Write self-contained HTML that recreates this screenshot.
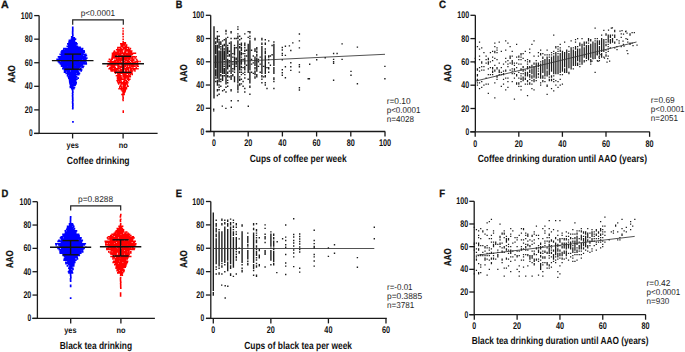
<!DOCTYPE html>
<html><head><meta charset="utf-8"><style>
html,body{margin:0;padding:0;background:#fff;}
svg{display:block;font-family:"Liberation Sans",sans-serif;text-rendering:geometricPrecision;}
</style></head><body>
<svg width="685" height="352" viewBox="0 0 685 352">
<rect width="685" height="352" fill="#fff"/>
<text x="1.10" y="8.40" font-size="10.7" font-weight="bold" fill="#111" text-anchor="start" textLength="7.70" lengthAdjust="spacingAndGlyphs" stroke="#111" stroke-width="0.3">A</text>
<line x1="39.10" y1="15.60" x2="39.10" y2="133.45" stroke="#1a1a1a" stroke-width="1.3"/>
<line x1="34.20" y1="133.45" x2="39.10" y2="133.45" stroke="#1a1a1a" stroke-width="1.3"/>
<text x="32.60" y="136.45" font-size="9.7" font-weight="bold" fill="#111" text-anchor="end" textLength="3.70" lengthAdjust="spacingAndGlyphs">0</text>
<line x1="34.20" y1="109.88" x2="39.10" y2="109.88" stroke="#1a1a1a" stroke-width="1.3"/>
<text x="32.60" y="112.88" font-size="9.7" font-weight="bold" fill="#111" text-anchor="end" textLength="7.90" lengthAdjust="spacingAndGlyphs">20</text>
<line x1="34.20" y1="86.31" x2="39.10" y2="86.31" stroke="#1a1a1a" stroke-width="1.3"/>
<text x="32.60" y="89.31" font-size="9.7" font-weight="bold" fill="#111" text-anchor="end" textLength="7.90" lengthAdjust="spacingAndGlyphs">40</text>
<line x1="34.20" y1="62.74" x2="39.10" y2="62.74" stroke="#1a1a1a" stroke-width="1.3"/>
<text x="32.60" y="65.74" font-size="9.7" font-weight="bold" fill="#111" text-anchor="end" textLength="7.90" lengthAdjust="spacingAndGlyphs">60</text>
<line x1="34.20" y1="39.17" x2="39.10" y2="39.17" stroke="#1a1a1a" stroke-width="1.3"/>
<text x="32.60" y="42.17" font-size="9.7" font-weight="bold" fill="#111" text-anchor="end" textLength="7.90" lengthAdjust="spacingAndGlyphs">80</text>
<line x1="34.20" y1="15.60" x2="39.10" y2="15.60" stroke="#1a1a1a" stroke-width="1.3"/>
<text x="32.60" y="18.60" font-size="9.7" font-weight="bold" fill="#111" text-anchor="end" textLength="11.80" lengthAdjust="spacingAndGlyphs">100</text>
<line x1="34.20" y1="133.45" x2="157.60" y2="133.45" stroke="#1a1a1a" stroke-width="1.3"/>
<line x1="72.60" y1="133.45" x2="72.60" y2="138.45" stroke="#1a1a1a" stroke-width="1.3"/>
<line x1="123.10" y1="133.45" x2="123.10" y2="138.45" stroke="#1a1a1a" stroke-width="1.3"/>
<text x="72.70" y="148.00" font-size="8.4" font-weight="bold" fill="#111" text-anchor="middle" textLength="12.20" lengthAdjust="spacingAndGlyphs">yes</text>
<text x="123.20" y="148.00" font-size="8.4" font-weight="bold" fill="#111" text-anchor="middle" textLength="9.00" lengthAdjust="spacingAndGlyphs">no</text>
<text x="66.80" y="163.90" font-size="10.3" font-weight="bold" fill="#111" text-anchor="start" textLength="62.80" lengthAdjust="spacingAndGlyphs">Coffee drinking</text>
<text x="0" y="0" font-size="10.0" font-weight="bold" fill="#111" stroke="#111" stroke-width="0.25" text-anchor="middle" textLength="17.5" lengthAdjust="spacingAndGlyphs" transform="translate(14.80,74.00) rotate(-90)">AAO</text>
<path fill="#0000ff" d="M71.9 26.5h1.7v1.7h-1.7zM71.9 27.7h1.7v1.7h-1.7zM71.9 28.9h1.7v1.7h-1.7zM71.9 30.1h1.7v1.7h-1.7zM71.8 31.2h1.7v1.7h-1.7zM71.8 32.4h1.7v1.7h-1.7zM71.9 33.6h1.7v1.7h-1.7zM72.0 34.8h1.7v1.7h-1.7zM71.5 36.0h1.7v1.7h-1.7zM70.9 36.0h1.7v1.7h-1.7zM71.3 37.1h1.7v1.7h-1.7zM71.8 37.1h1.7v1.7h-1.7zM73.0 37.1h1.7v1.7h-1.7zM73.4 37.1h1.7v1.7h-1.7zM70.6 38.3h1.7v1.7h-1.7zM71.8 38.3h1.7v1.7h-1.7zM72.9 38.3h1.7v1.7h-1.7zM74.6 38.3h1.7v1.7h-1.7zM69.9 39.5h1.7v1.7h-1.7zM71.0 39.5h1.7v1.7h-1.7zM72.0 39.5h1.7v1.7h-1.7zM73.1 39.5h1.7v1.7h-1.7zM73.6 39.5h1.7v1.7h-1.7zM68.6 39.5h1.7v1.7h-1.7zM69.8 40.7h1.7v1.7h-1.7zM70.9 40.7h1.7v1.7h-1.7zM71.5 40.7h1.7v1.7h-1.7zM73.1 40.7h1.7v1.7h-1.7zM73.7 40.7h1.7v1.7h-1.7zM68.3 40.7h1.7v1.7h-1.7zM68.8 41.9h1.7v1.7h-1.7zM70.0 41.9h1.7v1.7h-1.7zM70.5 41.9h1.7v1.7h-1.7zM72.0 41.9h1.7v1.7h-1.7zM72.7 41.9h1.7v1.7h-1.7zM74.0 41.9h1.7v1.7h-1.7zM75.1 41.9h1.7v1.7h-1.7zM68.2 41.9h1.7v1.7h-1.7zM75.3 41.9h1.7v1.7h-1.7zM67.8 43.0h1.7v1.7h-1.7zM68.9 43.0h1.7v1.7h-1.7zM70.0 43.0h1.7v1.7h-1.7zM71.0 43.0h1.7v1.7h-1.7zM71.9 43.0h1.7v1.7h-1.7zM72.6 43.0h1.7v1.7h-1.7zM73.9 43.0h1.7v1.7h-1.7zM74.9 43.0h1.7v1.7h-1.7zM76.1 43.0h1.7v1.7h-1.7zM67.0 43.0h1.7v1.7h-1.7zM67.9 44.2h1.7v1.7h-1.7zM68.5 44.2h1.7v1.7h-1.7zM69.9 44.2h1.7v1.7h-1.7zM70.6 44.2h1.7v1.7h-1.7zM72.0 44.2h1.7v1.7h-1.7zM72.8 44.2h1.7v1.7h-1.7zM74.0 44.2h1.7v1.7h-1.7zM75.0 44.2h1.7v1.7h-1.7zM66.5 45.4h1.7v1.7h-1.7zM67.8 45.4h1.7v1.7h-1.7zM68.9 45.4h1.7v1.7h-1.7zM69.8 45.4h1.7v1.7h-1.7zM70.9 45.4h1.7v1.7h-1.7zM72.0 45.4h1.7v1.7h-1.7zM72.7 45.4h1.7v1.7h-1.7zM74.3 45.4h1.7v1.7h-1.7zM74.8 45.4h1.7v1.7h-1.7zM75.7 45.4h1.7v1.7h-1.7zM76.5 45.4h1.7v1.7h-1.7zM67.8 46.6h1.7v1.7h-1.7zM68.8 46.6h1.7v1.7h-1.7zM69.8 46.6h1.7v1.7h-1.7zM70.9 46.6h1.7v1.7h-1.7zM72.0 46.6h1.7v1.7h-1.7zM72.6 46.6h1.7v1.7h-1.7zM74.2 46.6h1.7v1.7h-1.7zM74.9 46.6h1.7v1.7h-1.7zM76.5 46.6h1.7v1.7h-1.7zM76.7 46.6h1.7v1.7h-1.7zM78.0 46.6h1.7v1.7h-1.7zM79.2 46.6h1.7v1.7h-1.7zM63.1 47.7h1.7v1.7h-1.7zM64.4 47.7h1.7v1.7h-1.7zM65.8 47.7h1.7v1.7h-1.7zM66.5 47.7h1.7v1.7h-1.7zM68.2 47.7h1.7v1.7h-1.7zM68.9 47.7h1.7v1.7h-1.7zM69.8 47.7h1.7v1.7h-1.7zM71.2 47.7h1.7v1.7h-1.7zM71.8 47.7h1.7v1.7h-1.7zM72.7 47.7h1.7v1.7h-1.7zM73.8 47.7h1.7v1.7h-1.7zM74.7 47.7h1.7v1.7h-1.7zM75.9 47.7h1.7v1.7h-1.7zM77.0 47.7h1.7v1.7h-1.7zM78.1 47.7h1.7v1.7h-1.7zM79.0 47.7h1.7v1.7h-1.7zM79.9 47.7h1.7v1.7h-1.7zM81.7 47.7h1.7v1.7h-1.7zM62.8 48.9h1.7v1.7h-1.7zM64.8 48.9h1.7v1.7h-1.7zM65.9 48.9h1.7v1.7h-1.7zM66.5 48.9h1.7v1.7h-1.7zM67.7 48.9h1.7v1.7h-1.7zM68.5 48.9h1.7v1.7h-1.7zM69.7 48.9h1.7v1.7h-1.7zM71.0 48.9h1.7v1.7h-1.7zM71.9 48.9h1.7v1.7h-1.7zM72.9 48.9h1.7v1.7h-1.7zM73.7 48.9h1.7v1.7h-1.7zM74.8 48.9h1.7v1.7h-1.7zM75.9 48.9h1.7v1.7h-1.7zM76.9 48.9h1.7v1.7h-1.7zM78.1 48.9h1.7v1.7h-1.7zM78.8 48.9h1.7v1.7h-1.7zM79.7 48.9h1.7v1.7h-1.7zM81.0 48.9h1.7v1.7h-1.7zM81.4 48.9h1.7v1.7h-1.7zM61.2 50.1h1.7v1.7h-1.7zM62.5 50.1h1.7v1.7h-1.7zM63.9 50.1h1.7v1.7h-1.7zM64.4 50.1h1.7v1.7h-1.7zM65.9 50.1h1.7v1.7h-1.7zM66.7 50.1h1.7v1.7h-1.7zM67.6 50.1h1.7v1.7h-1.7zM68.8 50.1h1.7v1.7h-1.7zM69.5 50.1h1.7v1.7h-1.7zM70.7 50.1h1.7v1.7h-1.7zM71.9 50.1h1.7v1.7h-1.7zM72.9 50.1h1.7v1.7h-1.7zM73.7 50.1h1.7v1.7h-1.7zM75.3 50.1h1.7v1.7h-1.7zM75.8 50.1h1.7v1.7h-1.7zM77.1 50.1h1.7v1.7h-1.7zM77.8 50.1h1.7v1.7h-1.7zM78.9 50.1h1.7v1.7h-1.7zM80.0 50.1h1.7v1.7h-1.7zM81.2 50.1h1.7v1.7h-1.7zM82.3 50.1h1.7v1.7h-1.7zM61.3 50.1h1.7v1.7h-1.7zM83.2 50.1h1.7v1.7h-1.7zM61.3 51.3h1.7v1.7h-1.7zM62.7 51.3h1.7v1.7h-1.7zM63.5 51.3h1.7v1.7h-1.7zM64.7 51.3h1.7v1.7h-1.7zM65.5 51.3h1.7v1.7h-1.7zM66.6 51.3h1.7v1.7h-1.7zM68.0 51.3h1.7v1.7h-1.7zM68.9 51.3h1.7v1.7h-1.7zM69.9 51.3h1.7v1.7h-1.7zM70.9 51.3h1.7v1.7h-1.7zM71.4 51.3h1.7v1.7h-1.7zM72.7 51.3h1.7v1.7h-1.7zM73.6 51.3h1.7v1.7h-1.7zM75.0 51.3h1.7v1.7h-1.7zM75.9 51.3h1.7v1.7h-1.7zM76.8 51.3h1.7v1.7h-1.7zM78.0 51.3h1.7v1.7h-1.7zM79.2 51.3h1.7v1.7h-1.7zM80.2 51.3h1.7v1.7h-1.7zM81.2 51.3h1.7v1.7h-1.7zM82.2 51.3h1.7v1.7h-1.7zM60.5 51.3h1.7v1.7h-1.7zM83.4 51.3h1.7v1.7h-1.7zM60.9 52.5h1.7v1.7h-1.7zM61.4 52.5h1.7v1.7h-1.7zM62.8 52.5h1.7v1.7h-1.7zM63.4 52.5h1.7v1.7h-1.7zM65.0 52.5h1.7v1.7h-1.7zM65.5 52.5h1.7v1.7h-1.7zM67.0 52.5h1.7v1.7h-1.7zM67.9 52.5h1.7v1.7h-1.7zM69.1 52.5h1.7v1.7h-1.7zM70.0 52.5h1.7v1.7h-1.7zM70.8 52.5h1.7v1.7h-1.7zM72.1 52.5h1.7v1.7h-1.7zM72.7 52.5h1.7v1.7h-1.7zM74.0 52.5h1.7v1.7h-1.7zM74.9 52.5h1.7v1.7h-1.7zM75.6 52.5h1.7v1.7h-1.7zM77.0 52.5h1.7v1.7h-1.7zM78.1 52.5h1.7v1.7h-1.7zM78.9 52.5h1.7v1.7h-1.7zM80.4 52.5h1.7v1.7h-1.7zM81.1 52.5h1.7v1.7h-1.7zM82.1 52.5h1.7v1.7h-1.7zM59.4 53.6h1.7v1.7h-1.7zM60.8 53.6h1.7v1.7h-1.7zM61.8 53.6h1.7v1.7h-1.7zM62.6 53.6h1.7v1.7h-1.7zM63.6 53.6h1.7v1.7h-1.7zM64.8 53.6h1.7v1.7h-1.7zM65.9 53.6h1.7v1.7h-1.7zM66.8 53.6h1.7v1.7h-1.7zM68.1 53.6h1.7v1.7h-1.7zM69.1 53.6h1.7v1.7h-1.7zM69.8 53.6h1.7v1.7h-1.7zM70.9 53.6h1.7v1.7h-1.7zM71.6 53.6h1.7v1.7h-1.7zM72.8 53.6h1.7v1.7h-1.7zM74.1 53.6h1.7v1.7h-1.7zM75.1 53.6h1.7v1.7h-1.7zM75.8 53.6h1.7v1.7h-1.7zM77.1 53.6h1.7v1.7h-1.7zM78.2 53.6h1.7v1.7h-1.7zM79.0 53.6h1.7v1.7h-1.7zM79.9 53.6h1.7v1.7h-1.7zM81.1 53.6h1.7v1.7h-1.7zM82.1 53.6h1.7v1.7h-1.7zM83.4 53.6h1.7v1.7h-1.7zM84.4 53.6h1.7v1.7h-1.7zM84.8 53.6h1.7v1.7h-1.7zM60.7 54.8h1.7v1.7h-1.7zM61.6 54.8h1.7v1.7h-1.7zM62.7 54.8h1.7v1.7h-1.7zM63.7 54.8h1.7v1.7h-1.7zM64.8 54.8h1.7v1.7h-1.7zM65.7 54.8h1.7v1.7h-1.7zM67.0 54.8h1.7v1.7h-1.7zM68.3 54.8h1.7v1.7h-1.7zM69.0 54.8h1.7v1.7h-1.7zM69.8 54.8h1.7v1.7h-1.7zM70.6 54.8h1.7v1.7h-1.7zM72.1 54.8h1.7v1.7h-1.7zM72.9 54.8h1.7v1.7h-1.7zM74.0 54.8h1.7v1.7h-1.7zM74.8 54.8h1.7v1.7h-1.7zM75.9 54.8h1.7v1.7h-1.7zM77.4 54.8h1.7v1.7h-1.7zM77.8 54.8h1.7v1.7h-1.7zM79.2 54.8h1.7v1.7h-1.7zM80.1 54.8h1.7v1.7h-1.7zM81.1 54.8h1.7v1.7h-1.7zM81.9 54.8h1.7v1.7h-1.7zM84.1 54.8h1.7v1.7h-1.7zM85.5 54.8h1.7v1.7h-1.7zM57.7 56.0h1.7v1.7h-1.7zM58.9 56.0h1.7v1.7h-1.7zM59.5 56.0h1.7v1.7h-1.7zM60.9 56.0h1.7v1.7h-1.7zM62.6 56.0h1.7v1.7h-1.7zM63.8 56.0h1.7v1.7h-1.7zM64.5 56.0h1.7v1.7h-1.7zM66.1 56.0h1.7v1.7h-1.7zM66.9 56.0h1.7v1.7h-1.7zM68.0 56.0h1.7v1.7h-1.7zM68.9 56.0h1.7v1.7h-1.7zM70.0 56.0h1.7v1.7h-1.7zM70.6 56.0h1.7v1.7h-1.7zM72.1 56.0h1.7v1.7h-1.7zM72.8 56.0h1.7v1.7h-1.7zM73.6 56.0h1.7v1.7h-1.7zM75.2 56.0h1.7v1.7h-1.7zM76.0 56.0h1.7v1.7h-1.7zM77.0 56.0h1.7v1.7h-1.7zM78.1 56.0h1.7v1.7h-1.7zM79.2 56.0h1.7v1.7h-1.7zM80.0 56.0h1.7v1.7h-1.7zM81.0 56.0h1.7v1.7h-1.7zM82.3 56.0h1.7v1.7h-1.7zM83.1 56.0h1.7v1.7h-1.7zM84.2 56.0h1.7v1.7h-1.7zM58.5 57.2h1.7v1.7h-1.7zM59.6 57.2h1.7v1.7h-1.7zM60.8 57.2h1.7v1.7h-1.7zM61.1 57.2h1.7v1.7h-1.7zM62.7 57.2h1.7v1.7h-1.7zM63.6 57.2h1.7v1.7h-1.7zM64.4 57.2h1.7v1.7h-1.7zM65.6 57.2h1.7v1.7h-1.7zM67.0 57.2h1.7v1.7h-1.7zM67.5 57.2h1.7v1.7h-1.7zM68.9 57.2h1.7v1.7h-1.7zM69.9 57.2h1.7v1.7h-1.7zM71.2 57.2h1.7v1.7h-1.7zM71.8 57.2h1.7v1.7h-1.7zM72.8 57.2h1.7v1.7h-1.7zM73.6 57.2h1.7v1.7h-1.7zM74.6 57.2h1.7v1.7h-1.7zM76.1 57.2h1.7v1.7h-1.7zM77.1 57.2h1.7v1.7h-1.7zM78.1 57.2h1.7v1.7h-1.7zM79.1 57.2h1.7v1.7h-1.7zM79.9 57.2h1.7v1.7h-1.7zM81.1 57.2h1.7v1.7h-1.7zM82.6 57.2h1.7v1.7h-1.7zM83.0 57.2h1.7v1.7h-1.7zM84.4 57.2h1.7v1.7h-1.7zM85.0 57.2h1.7v1.7h-1.7zM85.9 57.2h1.7v1.7h-1.7zM57.7 58.4h1.7v1.7h-1.7zM58.6 58.4h1.7v1.7h-1.7zM59.5 58.4h1.7v1.7h-1.7zM60.3 58.4h1.7v1.7h-1.7zM61.5 58.4h1.7v1.7h-1.7zM62.7 58.4h1.7v1.7h-1.7zM63.5 58.4h1.7v1.7h-1.7zM64.6 58.4h1.7v1.7h-1.7zM65.4 58.4h1.7v1.7h-1.7zM67.0 58.4h1.7v1.7h-1.7zM67.7 58.4h1.7v1.7h-1.7zM68.8 58.4h1.7v1.7h-1.7zM69.4 58.4h1.7v1.7h-1.7zM71.2 58.4h1.7v1.7h-1.7zM72.1 58.4h1.7v1.7h-1.7zM72.4 58.4h1.7v1.7h-1.7zM73.8 58.4h1.7v1.7h-1.7zM75.1 58.4h1.7v1.7h-1.7zM75.8 58.4h1.7v1.7h-1.7zM76.8 58.4h1.7v1.7h-1.7zM77.8 58.4h1.7v1.7h-1.7zM78.8 58.4h1.7v1.7h-1.7zM80.1 58.4h1.7v1.7h-1.7zM80.9 58.4h1.7v1.7h-1.7zM82.9 58.4h1.7v1.7h-1.7zM84.2 58.4h1.7v1.7h-1.7zM85.0 58.4h1.7v1.7h-1.7zM56.3 58.4h1.7v1.7h-1.7zM56.9 59.5h1.7v1.7h-1.7zM58.5 59.5h1.7v1.7h-1.7zM59.5 59.5h1.7v1.7h-1.7zM60.2 59.5h1.7v1.7h-1.7zM61.4 59.5h1.7v1.7h-1.7zM63.0 59.5h1.7v1.7h-1.7zM63.6 59.5h1.7v1.7h-1.7zM64.5 59.5h1.7v1.7h-1.7zM65.7 59.5h1.7v1.7h-1.7zM66.9 59.5h1.7v1.7h-1.7zM67.7 59.5h1.7v1.7h-1.7zM68.6 59.5h1.7v1.7h-1.7zM69.7 59.5h1.7v1.7h-1.7zM71.0 59.5h1.7v1.7h-1.7zM72.0 59.5h1.7v1.7h-1.7zM73.1 59.5h1.7v1.7h-1.7zM73.9 59.5h1.7v1.7h-1.7zM74.7 59.5h1.7v1.7h-1.7zM76.0 59.5h1.7v1.7h-1.7zM77.1 59.5h1.7v1.7h-1.7zM77.9 59.5h1.7v1.7h-1.7zM78.9 59.5h1.7v1.7h-1.7zM80.2 59.5h1.7v1.7h-1.7zM81.3 59.5h1.7v1.7h-1.7zM81.8 59.5h1.7v1.7h-1.7zM82.8 59.5h1.7v1.7h-1.7zM84.3 59.5h1.7v1.7h-1.7zM56.7 59.5h1.7v1.7h-1.7zM57.6 60.7h1.7v1.7h-1.7zM58.4 60.7h1.7v1.7h-1.7zM60.4 60.7h1.7v1.7h-1.7zM61.8 60.7h1.7v1.7h-1.7zM62.5 60.7h1.7v1.7h-1.7zM63.7 60.7h1.7v1.7h-1.7zM64.6 60.7h1.7v1.7h-1.7zM65.7 60.7h1.7v1.7h-1.7zM66.7 60.7h1.7v1.7h-1.7zM67.7 60.7h1.7v1.7h-1.7zM68.7 60.7h1.7v1.7h-1.7zM69.5 60.7h1.7v1.7h-1.7zM70.8 60.7h1.7v1.7h-1.7zM71.6 60.7h1.7v1.7h-1.7zM72.9 60.7h1.7v1.7h-1.7zM74.2 60.7h1.7v1.7h-1.7zM74.7 60.7h1.7v1.7h-1.7zM76.2 60.7h1.7v1.7h-1.7zM76.8 60.7h1.7v1.7h-1.7zM77.4 60.7h1.7v1.7h-1.7zM79.2 60.7h1.7v1.7h-1.7zM80.0 60.7h1.7v1.7h-1.7zM81.1 60.7h1.7v1.7h-1.7zM81.8 60.7h1.7v1.7h-1.7zM83.0 60.7h1.7v1.7h-1.7zM84.1 60.7h1.7v1.7h-1.7zM84.9 60.7h1.7v1.7h-1.7zM58.5 61.9h1.7v1.7h-1.7zM59.6 61.9h1.7v1.7h-1.7zM60.8 61.9h1.7v1.7h-1.7zM61.7 61.9h1.7v1.7h-1.7zM62.4 61.9h1.7v1.7h-1.7zM63.9 61.9h1.7v1.7h-1.7zM64.6 61.9h1.7v1.7h-1.7zM65.8 61.9h1.7v1.7h-1.7zM66.7 61.9h1.7v1.7h-1.7zM67.5 61.9h1.7v1.7h-1.7zM68.8 61.9h1.7v1.7h-1.7zM69.9 61.9h1.7v1.7h-1.7zM71.1 61.9h1.7v1.7h-1.7zM71.9 61.9h1.7v1.7h-1.7zM72.8 61.9h1.7v1.7h-1.7zM74.1 61.9h1.7v1.7h-1.7zM74.8 61.9h1.7v1.7h-1.7zM75.9 61.9h1.7v1.7h-1.7zM77.3 61.9h1.7v1.7h-1.7zM78.7 61.9h1.7v1.7h-1.7zM78.9 61.9h1.7v1.7h-1.7zM80.2 61.9h1.7v1.7h-1.7zM80.9 61.9h1.7v1.7h-1.7zM82.1 61.9h1.7v1.7h-1.7zM83.3 61.9h1.7v1.7h-1.7zM85.2 61.9h1.7v1.7h-1.7zM59.6 63.1h1.7v1.7h-1.7zM60.6 63.1h1.7v1.7h-1.7zM62.0 63.1h1.7v1.7h-1.7zM62.8 63.1h1.7v1.7h-1.7zM64.1 63.1h1.7v1.7h-1.7zM64.6 63.1h1.7v1.7h-1.7zM65.6 63.1h1.7v1.7h-1.7zM66.8 63.1h1.7v1.7h-1.7zM67.3 63.1h1.7v1.7h-1.7zM68.6 63.1h1.7v1.7h-1.7zM69.9 63.1h1.7v1.7h-1.7zM71.0 63.1h1.7v1.7h-1.7zM71.5 63.1h1.7v1.7h-1.7zM72.6 63.1h1.7v1.7h-1.7zM74.1 63.1h1.7v1.7h-1.7zM75.3 63.1h1.7v1.7h-1.7zM75.7 63.1h1.7v1.7h-1.7zM77.1 63.1h1.7v1.7h-1.7zM78.0 63.1h1.7v1.7h-1.7zM79.2 63.1h1.7v1.7h-1.7zM79.9 63.1h1.7v1.7h-1.7zM80.8 63.1h1.7v1.7h-1.7zM82.4 63.1h1.7v1.7h-1.7zM83.3 63.1h1.7v1.7h-1.7zM83.9 63.1h1.7v1.7h-1.7zM85.1 63.1h1.7v1.7h-1.7zM85.4 63.1h1.7v1.7h-1.7zM60.7 64.2h1.7v1.7h-1.7zM61.3 64.2h1.7v1.7h-1.7zM62.7 64.2h1.7v1.7h-1.7zM63.7 64.2h1.7v1.7h-1.7zM64.8 64.2h1.7v1.7h-1.7zM65.9 64.2h1.7v1.7h-1.7zM66.7 64.2h1.7v1.7h-1.7zM67.6 64.2h1.7v1.7h-1.7zM68.7 64.2h1.7v1.7h-1.7zM70.0 64.2h1.7v1.7h-1.7zM71.2 64.2h1.7v1.7h-1.7zM72.0 64.2h1.7v1.7h-1.7zM72.7 64.2h1.7v1.7h-1.7zM73.3 64.2h1.7v1.7h-1.7zM75.1 64.2h1.7v1.7h-1.7zM75.9 64.2h1.7v1.7h-1.7zM76.9 64.2h1.7v1.7h-1.7zM77.7 64.2h1.7v1.7h-1.7zM78.7 64.2h1.7v1.7h-1.7zM80.2 64.2h1.7v1.7h-1.7zM81.2 64.2h1.7v1.7h-1.7zM60.8 65.4h1.7v1.7h-1.7zM61.5 65.4h1.7v1.7h-1.7zM63.1 65.4h1.7v1.7h-1.7zM63.8 65.4h1.7v1.7h-1.7zM64.7 65.4h1.7v1.7h-1.7zM65.7 65.4h1.7v1.7h-1.7zM67.5 65.4h1.7v1.7h-1.7zM68.8 65.4h1.7v1.7h-1.7zM70.0 65.4h1.7v1.7h-1.7zM71.0 65.4h1.7v1.7h-1.7zM71.6 65.4h1.7v1.7h-1.7zM72.6 65.4h1.7v1.7h-1.7zM74.0 65.4h1.7v1.7h-1.7zM75.1 65.4h1.7v1.7h-1.7zM75.5 65.4h1.7v1.7h-1.7zM76.6 65.4h1.7v1.7h-1.7zM77.9 65.4h1.7v1.7h-1.7zM78.8 65.4h1.7v1.7h-1.7zM80.0 65.4h1.7v1.7h-1.7zM81.9 65.4h1.7v1.7h-1.7zM82.7 65.4h1.7v1.7h-1.7zM62.5 66.6h1.7v1.7h-1.7zM63.6 66.6h1.7v1.7h-1.7zM64.9 66.6h1.7v1.7h-1.7zM65.5 66.6h1.7v1.7h-1.7zM66.7 66.6h1.7v1.7h-1.7zM67.3 66.6h1.7v1.7h-1.7zM68.2 66.6h1.7v1.7h-1.7zM69.9 66.6h1.7v1.7h-1.7zM70.6 66.6h1.7v1.7h-1.7zM71.7 66.6h1.7v1.7h-1.7zM72.7 66.6h1.7v1.7h-1.7zM73.9 66.6h1.7v1.7h-1.7zM74.5 66.6h1.7v1.7h-1.7zM76.1 66.6h1.7v1.7h-1.7zM77.1 66.6h1.7v1.7h-1.7zM78.2 66.6h1.7v1.7h-1.7zM79.0 66.6h1.7v1.7h-1.7zM81.2 66.6h1.7v1.7h-1.7zM82.1 66.6h1.7v1.7h-1.7zM63.4 67.8h1.7v1.7h-1.7zM64.8 67.8h1.7v1.7h-1.7zM66.5 67.8h1.7v1.7h-1.7zM67.5 67.8h1.7v1.7h-1.7zM68.6 67.8h1.7v1.7h-1.7zM69.8 67.8h1.7v1.7h-1.7zM70.7 67.8h1.7v1.7h-1.7zM71.7 67.8h1.7v1.7h-1.7zM73.0 67.8h1.7v1.7h-1.7zM73.7 67.8h1.7v1.7h-1.7zM75.0 67.8h1.7v1.7h-1.7zM75.9 67.8h1.7v1.7h-1.7zM76.9 67.8h1.7v1.7h-1.7zM77.9 67.8h1.7v1.7h-1.7zM80.0 67.8h1.7v1.7h-1.7zM62.0 67.8h1.7v1.7h-1.7zM64.8 69.0h1.7v1.7h-1.7zM65.9 69.0h1.7v1.7h-1.7zM67.0 69.0h1.7v1.7h-1.7zM67.6 69.0h1.7v1.7h-1.7zM68.8 69.0h1.7v1.7h-1.7zM69.7 69.0h1.7v1.7h-1.7zM71.0 69.0h1.7v1.7h-1.7zM71.8 69.0h1.7v1.7h-1.7zM73.1 69.0h1.7v1.7h-1.7zM74.0 69.0h1.7v1.7h-1.7zM74.9 69.0h1.7v1.7h-1.7zM75.9 69.0h1.7v1.7h-1.7zM77.0 69.0h1.7v1.7h-1.7zM79.0 69.0h1.7v1.7h-1.7zM63.6 69.0h1.7v1.7h-1.7zM80.7 69.0h1.7v1.7h-1.7zM64.8 70.1h1.7v1.7h-1.7zM65.8 70.1h1.7v1.7h-1.7zM67.1 70.1h1.7v1.7h-1.7zM67.8 70.1h1.7v1.7h-1.7zM68.4 70.1h1.7v1.7h-1.7zM70.9 70.1h1.7v1.7h-1.7zM71.7 70.1h1.7v1.7h-1.7zM72.7 70.1h1.7v1.7h-1.7zM73.6 70.1h1.7v1.7h-1.7zM75.0 70.1h1.7v1.7h-1.7zM75.8 70.1h1.7v1.7h-1.7zM77.1 70.1h1.7v1.7h-1.7zM64.0 70.1h1.7v1.7h-1.7zM80.3 70.1h1.7v1.7h-1.7zM64.7 71.3h1.7v1.7h-1.7zM66.9 71.3h1.7v1.7h-1.7zM67.8 71.3h1.7v1.7h-1.7zM69.2 71.3h1.7v1.7h-1.7zM69.7 71.3h1.7v1.7h-1.7zM70.7 71.3h1.7v1.7h-1.7zM71.8 71.3h1.7v1.7h-1.7zM73.2 71.3h1.7v1.7h-1.7zM73.6 71.3h1.7v1.7h-1.7zM74.8 71.3h1.7v1.7h-1.7zM75.9 71.3h1.7v1.7h-1.7zM77.0 71.3h1.7v1.7h-1.7zM77.7 71.3h1.7v1.7h-1.7zM63.7 71.3h1.7v1.7h-1.7zM66.9 72.5h1.7v1.7h-1.7zM67.5 72.5h1.7v1.7h-1.7zM68.9 72.5h1.7v1.7h-1.7zM69.6 72.5h1.7v1.7h-1.7zM70.8 72.5h1.7v1.7h-1.7zM71.9 72.5h1.7v1.7h-1.7zM73.0 72.5h1.7v1.7h-1.7zM73.8 72.5h1.7v1.7h-1.7zM75.0 72.5h1.7v1.7h-1.7zM77.0 72.5h1.7v1.7h-1.7zM65.4 72.5h1.7v1.7h-1.7zM78.6 72.5h1.7v1.7h-1.7zM66.9 73.7h1.7v1.7h-1.7zM67.7 73.7h1.7v1.7h-1.7zM68.8 73.7h1.7v1.7h-1.7zM69.8 73.7h1.7v1.7h-1.7zM70.6 73.7h1.7v1.7h-1.7zM71.7 73.7h1.7v1.7h-1.7zM73.1 73.7h1.7v1.7h-1.7zM73.9 73.7h1.7v1.7h-1.7zM75.0 73.7h1.7v1.7h-1.7zM76.1 73.7h1.7v1.7h-1.7zM77.3 73.7h1.7v1.7h-1.7zM77.9 73.7h1.7v1.7h-1.7zM66.7 74.9h1.7v1.7h-1.7zM68.8 74.9h1.7v1.7h-1.7zM69.8 74.9h1.7v1.7h-1.7zM71.3 74.9h1.7v1.7h-1.7zM71.9 74.9h1.7v1.7h-1.7zM73.0 74.9h1.7v1.7h-1.7zM74.2 74.9h1.7v1.7h-1.7zM74.6 74.9h1.7v1.7h-1.7zM67.6 76.0h1.7v1.7h-1.7zM68.9 76.0h1.7v1.7h-1.7zM69.4 76.0h1.7v1.7h-1.7zM71.1 76.0h1.7v1.7h-1.7zM72.0 76.0h1.7v1.7h-1.7zM72.8 76.0h1.7v1.7h-1.7zM74.0 76.0h1.7v1.7h-1.7zM74.8 76.0h1.7v1.7h-1.7zM75.7 76.0h1.7v1.7h-1.7zM68.0 77.2h1.7v1.7h-1.7zM68.5 77.2h1.7v1.7h-1.7zM69.9 77.2h1.7v1.7h-1.7zM70.8 77.2h1.7v1.7h-1.7zM71.9 77.2h1.7v1.7h-1.7zM72.8 77.2h1.7v1.7h-1.7zM73.9 77.2h1.7v1.7h-1.7zM75.0 77.2h1.7v1.7h-1.7zM77.3 77.2h1.7v1.7h-1.7zM68.6 78.4h1.7v1.7h-1.7zM69.6 78.4h1.7v1.7h-1.7zM71.1 78.4h1.7v1.7h-1.7zM72.2 78.4h1.7v1.7h-1.7zM72.8 78.4h1.7v1.7h-1.7zM73.9 78.4h1.7v1.7h-1.7zM74.6 78.4h1.7v1.7h-1.7zM76.0 78.4h1.7v1.7h-1.7zM68.8 79.6h1.7v1.7h-1.7zM69.6 79.6h1.7v1.7h-1.7zM70.9 79.6h1.7v1.7h-1.7zM72.1 79.6h1.7v1.7h-1.7zM73.1 79.6h1.7v1.7h-1.7zM74.0 79.6h1.7v1.7h-1.7zM74.8 79.6h1.7v1.7h-1.7zM68.9 80.7h1.7v1.7h-1.7zM69.3 80.7h1.7v1.7h-1.7zM70.8 80.7h1.7v1.7h-1.7zM72.0 80.7h1.7v1.7h-1.7zM72.7 80.7h1.7v1.7h-1.7zM73.5 80.7h1.7v1.7h-1.7zM74.9 80.7h1.7v1.7h-1.7zM69.1 81.9h1.7v1.7h-1.7zM69.5 81.9h1.7v1.7h-1.7zM70.7 81.9h1.7v1.7h-1.7zM71.6 81.9h1.7v1.7h-1.7zM72.9 81.9h1.7v1.7h-1.7zM73.6 81.9h1.7v1.7h-1.7zM75.3 81.9h1.7v1.7h-1.7zM75.2 81.9h1.7v1.7h-1.7zM70.0 83.1h1.7v1.7h-1.7zM70.7 83.1h1.7v1.7h-1.7zM72.5 83.1h1.7v1.7h-1.7zM72.5 83.1h1.7v1.7h-1.7zM73.7 83.1h1.7v1.7h-1.7zM69.3 83.1h1.7v1.7h-1.7zM75.0 83.1h1.7v1.7h-1.7zM70.0 84.3h1.7v1.7h-1.7zM70.7 84.3h1.7v1.7h-1.7zM72.0 84.3h1.7v1.7h-1.7zM73.0 84.3h1.7v1.7h-1.7zM74.2 84.3h1.7v1.7h-1.7zM70.8 85.5h1.7v1.7h-1.7zM72.0 85.5h1.7v1.7h-1.7zM69.5 85.5h1.7v1.7h-1.7zM70.9 86.6h1.7v1.7h-1.7zM72.0 86.6h1.7v1.7h-1.7zM72.8 86.6h1.7v1.7h-1.7zM69.6 86.6h1.7v1.7h-1.7zM73.6 86.6h1.7v1.7h-1.7zM71.0 87.8h1.7v1.7h-1.7zM71.9 87.8h1.7v1.7h-1.7zM73.0 87.8h1.7v1.7h-1.7zM71.7 89.0h1.7v1.7h-1.7zM71.9 90.2h1.7v1.7h-1.7zM72.0 91.4h1.7v1.7h-1.7zM71.7 92.5h1.7v1.7h-1.7zM71.9 93.7h1.7v1.7h-1.7zM71.7 94.9h1.7v1.7h-1.7zM71.8 96.1h1.7v1.7h-1.7zM71.9 97.2h1.7v1.7h-1.7zM71.8 98.4h1.7v1.7h-1.7zM72.0 99.6h1.7v1.7h-1.7zM71.8 100.8h1.7v1.7h-1.7zM71.8 102.0h1.7v1.7h-1.7zM72.0 103.1h1.7v1.7h-1.7zM72.0 104.3h1.7v1.7h-1.7zM71.9 105.5h1.7v1.7h-1.7zM72.0 106.7h1.7v1.7h-1.7zM71.9 107.9h1.7v1.7h-1.7zM72.1 121.0h1.7v1.7h-1.7z"/>
<path fill="#ff0000" d="M122.3 27.8h1.5v1.5h-1.5zM122.4 30.2h1.5v1.5h-1.5zM122.3 32.5h1.5v1.5h-1.5zM122.3 33.7h1.5v1.5h-1.5zM122.4 36.1h1.5v1.5h-1.5zM122.4 38.4h1.5v1.5h-1.5zM122.4 40.8h1.5v1.5h-1.5zM122.4 42.0h1.5v1.5h-1.5zM123.4 42.0h1.5v1.5h-1.5zM124.6 42.0h1.5v1.5h-1.5zM120.0 43.1h1.5v1.5h-1.5zM121.2 43.1h1.5v1.5h-1.5zM122.3 43.1h1.5v1.5h-1.5zM123.1 43.1h1.5v1.5h-1.5zM124.7 43.1h1.5v1.5h-1.5zM120.4 44.3h1.5v1.5h-1.5zM121.3 44.3h1.5v1.5h-1.5zM122.2 44.3h1.5v1.5h-1.5zM123.4 44.3h1.5v1.5h-1.5zM124.1 44.3h1.5v1.5h-1.5zM125.9 44.3h1.5v1.5h-1.5zM120.4 45.5h1.5v1.5h-1.5zM121.6 45.5h1.5v1.5h-1.5zM122.2 45.5h1.5v1.5h-1.5zM124.3 45.5h1.5v1.5h-1.5zM125.8 45.5h1.5v1.5h-1.5zM118.2 46.7h1.5v1.5h-1.5zM119.0 46.7h1.5v1.5h-1.5zM120.0 46.7h1.5v1.5h-1.5zM122.2 46.7h1.5v1.5h-1.5zM123.3 46.7h1.5v1.5h-1.5zM124.3 46.7h1.5v1.5h-1.5zM125.6 46.7h1.5v1.5h-1.5zM126.5 46.7h1.5v1.5h-1.5zM117.1 46.7h1.5v1.5h-1.5zM127.9 46.7h1.5v1.5h-1.5zM117.1 47.8h1.5v1.5h-1.5zM119.5 47.8h1.5v1.5h-1.5zM120.4 47.8h1.5v1.5h-1.5zM122.5 47.8h1.5v1.5h-1.5zM123.2 47.8h1.5v1.5h-1.5zM124.7 47.8h1.5v1.5h-1.5zM125.4 47.8h1.5v1.5h-1.5zM127.9 47.8h1.5v1.5h-1.5zM129.7 47.8h1.5v1.5h-1.5zM115.9 49.0h1.5v1.5h-1.5zM117.2 49.0h1.5v1.5h-1.5zM118.1 49.0h1.5v1.5h-1.5zM119.5 49.0h1.5v1.5h-1.5zM120.3 49.0h1.5v1.5h-1.5zM121.1 49.0h1.5v1.5h-1.5zM122.3 49.0h1.5v1.5h-1.5zM124.3 49.0h1.5v1.5h-1.5zM125.5 49.0h1.5v1.5h-1.5zM126.4 49.0h1.5v1.5h-1.5zM127.6 49.0h1.5v1.5h-1.5zM128.8 49.0h1.5v1.5h-1.5zM129.1 49.0h1.5v1.5h-1.5zM117.1 50.2h1.5v1.5h-1.5zM118.0 50.2h1.5v1.5h-1.5zM119.2 50.2h1.5v1.5h-1.5zM120.0 50.2h1.5v1.5h-1.5zM121.3 50.2h1.5v1.5h-1.5zM124.3 50.2h1.5v1.5h-1.5zM125.8 50.2h1.5v1.5h-1.5zM126.5 50.2h1.5v1.5h-1.5zM127.7 50.2h1.5v1.5h-1.5zM129.0 50.2h1.5v1.5h-1.5zM130.0 50.2h1.5v1.5h-1.5zM113.7 50.2h1.5v1.5h-1.5zM131.0 50.2h1.5v1.5h-1.5zM114.6 51.4h1.5v1.5h-1.5zM115.5 51.4h1.5v1.5h-1.5zM116.8 51.4h1.5v1.5h-1.5zM117.9 51.4h1.5v1.5h-1.5zM119.8 51.4h1.5v1.5h-1.5zM121.5 51.4h1.5v1.5h-1.5zM123.6 51.4h1.5v1.5h-1.5zM124.6 51.4h1.5v1.5h-1.5zM127.9 51.4h1.5v1.5h-1.5zM128.4 51.4h1.5v1.5h-1.5zM130.0 51.4h1.5v1.5h-1.5zM130.6 51.4h1.5v1.5h-1.5zM113.0 51.4h1.5v1.5h-1.5zM111.7 52.6h1.5v1.5h-1.5zM112.8 52.6h1.5v1.5h-1.5zM113.7 52.6h1.5v1.5h-1.5zM114.5 52.6h1.5v1.5h-1.5zM116.0 52.6h1.5v1.5h-1.5zM117.0 52.6h1.5v1.5h-1.5zM117.9 52.6h1.5v1.5h-1.5zM118.8 52.6h1.5v1.5h-1.5zM120.3 52.6h1.5v1.5h-1.5zM121.4 52.6h1.5v1.5h-1.5zM122.3 52.6h1.5v1.5h-1.5zM123.2 52.6h1.5v1.5h-1.5zM124.7 52.6h1.5v1.5h-1.5zM125.4 52.6h1.5v1.5h-1.5zM126.4 52.6h1.5v1.5h-1.5zM127.5 52.6h1.5v1.5h-1.5zM128.6 52.6h1.5v1.5h-1.5zM129.6 52.6h1.5v1.5h-1.5zM130.8 52.6h1.5v1.5h-1.5zM132.0 52.6h1.5v1.5h-1.5zM133.5 52.6h1.5v1.5h-1.5zM134.7 52.6h1.5v1.5h-1.5zM111.7 53.7h1.5v1.5h-1.5zM112.8 53.7h1.5v1.5h-1.5zM113.2 53.7h1.5v1.5h-1.5zM114.7 53.7h1.5v1.5h-1.5zM115.7 53.7h1.5v1.5h-1.5zM117.1 53.7h1.5v1.5h-1.5zM118.6 53.7h1.5v1.5h-1.5zM119.3 53.7h1.5v1.5h-1.5zM120.2 53.7h1.5v1.5h-1.5zM122.5 53.7h1.5v1.5h-1.5zM123.6 53.7h1.5v1.5h-1.5zM124.3 53.7h1.5v1.5h-1.5zM125.9 53.7h1.5v1.5h-1.5zM126.7 53.7h1.5v1.5h-1.5zM128.0 53.7h1.5v1.5h-1.5zM128.8 53.7h1.5v1.5h-1.5zM130.0 53.7h1.5v1.5h-1.5zM130.7 53.7h1.5v1.5h-1.5zM131.7 53.7h1.5v1.5h-1.5zM112.7 54.9h1.5v1.5h-1.5zM114.0 54.9h1.5v1.5h-1.5zM114.8 54.9h1.5v1.5h-1.5zM115.8 54.9h1.5v1.5h-1.5zM118.0 54.9h1.5v1.5h-1.5zM118.9 54.9h1.5v1.5h-1.5zM120.3 54.9h1.5v1.5h-1.5zM121.7 54.9h1.5v1.5h-1.5zM122.1 54.9h1.5v1.5h-1.5zM123.7 54.9h1.5v1.5h-1.5zM124.7 54.9h1.5v1.5h-1.5zM125.9 54.9h1.5v1.5h-1.5zM126.6 54.9h1.5v1.5h-1.5zM128.0 54.9h1.5v1.5h-1.5zM129.1 54.9h1.5v1.5h-1.5zM130.1 54.9h1.5v1.5h-1.5zM111.6 54.9h1.5v1.5h-1.5zM111.5 56.1h1.5v1.5h-1.5zM112.7 56.1h1.5v1.5h-1.5zM113.7 56.1h1.5v1.5h-1.5zM115.0 56.1h1.5v1.5h-1.5zM116.0 56.1h1.5v1.5h-1.5zM116.9 56.1h1.5v1.5h-1.5zM118.2 56.1h1.5v1.5h-1.5zM121.3 56.1h1.5v1.5h-1.5zM123.4 56.1h1.5v1.5h-1.5zM124.9 56.1h1.5v1.5h-1.5zM125.4 56.1h1.5v1.5h-1.5zM126.5 56.1h1.5v1.5h-1.5zM128.0 56.1h1.5v1.5h-1.5zM128.6 56.1h1.5v1.5h-1.5zM130.0 56.1h1.5v1.5h-1.5zM131.9 56.1h1.5v1.5h-1.5zM133.2 56.1h1.5v1.5h-1.5zM133.7 56.1h1.5v1.5h-1.5zM135.4 56.1h1.5v1.5h-1.5zM111.3 57.3h1.5v1.5h-1.5zM112.7 57.3h1.5v1.5h-1.5zM113.6 57.3h1.5v1.5h-1.5zM114.6 57.3h1.5v1.5h-1.5zM115.9 57.3h1.5v1.5h-1.5zM117.6 57.3h1.5v1.5h-1.5zM118.1 57.3h1.5v1.5h-1.5zM119.0 57.3h1.5v1.5h-1.5zM120.1 57.3h1.5v1.5h-1.5zM121.5 57.3h1.5v1.5h-1.5zM122.6 57.3h1.5v1.5h-1.5zM124.0 57.3h1.5v1.5h-1.5zM124.3 57.3h1.5v1.5h-1.5zM125.3 57.3h1.5v1.5h-1.5zM126.5 57.3h1.5v1.5h-1.5zM127.6 57.3h1.5v1.5h-1.5zM129.1 57.3h1.5v1.5h-1.5zM129.8 57.3h1.5v1.5h-1.5zM130.7 57.3h1.5v1.5h-1.5zM131.9 57.3h1.5v1.5h-1.5zM134.4 57.3h1.5v1.5h-1.5zM110.6 58.5h1.5v1.5h-1.5zM111.5 58.5h1.5v1.5h-1.5zM115.9 58.5h1.5v1.5h-1.5zM116.8 58.5h1.5v1.5h-1.5zM118.1 58.5h1.5v1.5h-1.5zM119.2 58.5h1.5v1.5h-1.5zM120.4 58.5h1.5v1.5h-1.5zM121.2 58.5h1.5v1.5h-1.5zM122.2 58.5h1.5v1.5h-1.5zM123.6 58.5h1.5v1.5h-1.5zM124.3 58.5h1.5v1.5h-1.5zM125.4 58.5h1.5v1.5h-1.5zM127.3 58.5h1.5v1.5h-1.5zM128.9 58.5h1.5v1.5h-1.5zM131.3 58.5h1.5v1.5h-1.5zM132.2 58.5h1.5v1.5h-1.5zM133.1 58.5h1.5v1.5h-1.5zM108.6 58.5h1.5v1.5h-1.5zM135.7 58.5h1.5v1.5h-1.5zM109.8 59.6h1.5v1.5h-1.5zM110.4 59.6h1.5v1.5h-1.5zM113.9 59.6h1.5v1.5h-1.5zM114.6 59.6h1.5v1.5h-1.5zM115.8 59.6h1.5v1.5h-1.5zM116.9 59.6h1.5v1.5h-1.5zM118.3 59.6h1.5v1.5h-1.5zM119.4 59.6h1.5v1.5h-1.5zM120.1 59.6h1.5v1.5h-1.5zM121.4 59.6h1.5v1.5h-1.5zM122.3 59.6h1.5v1.5h-1.5zM124.4 59.6h1.5v1.5h-1.5zM125.6 59.6h1.5v1.5h-1.5zM126.6 59.6h1.5v1.5h-1.5zM127.8 59.6h1.5v1.5h-1.5zM129.9 59.6h1.5v1.5h-1.5zM131.1 59.6h1.5v1.5h-1.5zM131.9 59.6h1.5v1.5h-1.5zM133.0 59.6h1.5v1.5h-1.5zM136.4 59.6h1.5v1.5h-1.5zM107.5 60.8h1.5v1.5h-1.5zM109.1 60.8h1.5v1.5h-1.5zM110.3 60.8h1.5v1.5h-1.5zM111.5 60.8h1.5v1.5h-1.5zM112.6 60.8h1.5v1.5h-1.5zM113.8 60.8h1.5v1.5h-1.5zM114.5 60.8h1.5v1.5h-1.5zM116.2 60.8h1.5v1.5h-1.5zM117.1 60.8h1.5v1.5h-1.5zM117.7 60.8h1.5v1.5h-1.5zM119.4 60.8h1.5v1.5h-1.5zM120.0 60.8h1.5v1.5h-1.5zM122.4 60.8h1.5v1.5h-1.5zM123.5 60.8h1.5v1.5h-1.5zM124.3 60.8h1.5v1.5h-1.5zM126.4 60.8h1.5v1.5h-1.5zM127.8 60.8h1.5v1.5h-1.5zM128.7 60.8h1.5v1.5h-1.5zM131.0 60.8h1.5v1.5h-1.5zM132.1 60.8h1.5v1.5h-1.5zM134.3 60.8h1.5v1.5h-1.5zM135.9 60.8h1.5v1.5h-1.5zM136.1 60.8h1.5v1.5h-1.5zM137.4 60.8h1.5v1.5h-1.5zM139.3 60.8h1.5v1.5h-1.5zM109.3 62.0h1.5v1.5h-1.5zM110.6 62.0h1.5v1.5h-1.5zM111.7 62.0h1.5v1.5h-1.5zM112.6 62.0h1.5v1.5h-1.5zM113.7 62.0h1.5v1.5h-1.5zM114.8 62.0h1.5v1.5h-1.5zM115.9 62.0h1.5v1.5h-1.5zM117.1 62.0h1.5v1.5h-1.5zM117.9 62.0h1.5v1.5h-1.5zM119.0 62.0h1.5v1.5h-1.5zM120.3 62.0h1.5v1.5h-1.5zM121.1 62.0h1.5v1.5h-1.5zM122.7 62.0h1.5v1.5h-1.5zM123.2 62.0h1.5v1.5h-1.5zM124.9 62.0h1.5v1.5h-1.5zM125.6 62.0h1.5v1.5h-1.5zM126.4 62.0h1.5v1.5h-1.5zM127.9 62.0h1.5v1.5h-1.5zM128.7 62.0h1.5v1.5h-1.5zM130.1 62.0h1.5v1.5h-1.5zM132.0 62.0h1.5v1.5h-1.5zM133.1 62.0h1.5v1.5h-1.5zM134.5 62.0h1.5v1.5h-1.5zM136.3 62.0h1.5v1.5h-1.5zM136.7 62.0h1.5v1.5h-1.5zM107.2 63.2h1.5v1.5h-1.5zM108.3 63.2h1.5v1.5h-1.5zM109.4 63.2h1.5v1.5h-1.5zM110.3 63.2h1.5v1.5h-1.5zM111.9 63.2h1.5v1.5h-1.5zM112.6 63.2h1.5v1.5h-1.5zM113.2 63.2h1.5v1.5h-1.5zM114.7 63.2h1.5v1.5h-1.5zM117.2 63.2h1.5v1.5h-1.5zM118.2 63.2h1.5v1.5h-1.5zM120.2 63.2h1.5v1.5h-1.5zM121.3 63.2h1.5v1.5h-1.5zM122.4 63.2h1.5v1.5h-1.5zM124.0 63.2h1.5v1.5h-1.5zM124.5 63.2h1.5v1.5h-1.5zM125.5 63.2h1.5v1.5h-1.5zM126.7 63.2h1.5v1.5h-1.5zM127.6 63.2h1.5v1.5h-1.5zM128.7 63.2h1.5v1.5h-1.5zM130.1 63.2h1.5v1.5h-1.5zM130.8 63.2h1.5v1.5h-1.5zM131.9 63.2h1.5v1.5h-1.5zM133.3 63.2h1.5v1.5h-1.5zM134.2 63.2h1.5v1.5h-1.5zM135.6 63.2h1.5v1.5h-1.5zM136.4 63.2h1.5v1.5h-1.5zM137.4 63.2h1.5v1.5h-1.5zM109.3 64.3h1.5v1.5h-1.5zM110.6 64.3h1.5v1.5h-1.5zM111.7 64.3h1.5v1.5h-1.5zM112.7 64.3h1.5v1.5h-1.5zM113.4 64.3h1.5v1.5h-1.5zM114.8 64.3h1.5v1.5h-1.5zM115.9 64.3h1.5v1.5h-1.5zM117.1 64.3h1.5v1.5h-1.5zM118.0 64.3h1.5v1.5h-1.5zM121.5 64.3h1.5v1.5h-1.5zM122.5 64.3h1.5v1.5h-1.5zM123.5 64.3h1.5v1.5h-1.5zM124.3 64.3h1.5v1.5h-1.5zM125.8 64.3h1.5v1.5h-1.5zM126.5 64.3h1.5v1.5h-1.5zM128.0 64.3h1.5v1.5h-1.5zM128.6 64.3h1.5v1.5h-1.5zM129.5 64.3h1.5v1.5h-1.5zM130.9 64.3h1.5v1.5h-1.5zM132.0 64.3h1.5v1.5h-1.5zM133.2 64.3h1.5v1.5h-1.5zM135.3 64.3h1.5v1.5h-1.5zM136.4 64.3h1.5v1.5h-1.5zM107.7 64.3h1.5v1.5h-1.5zM110.5 65.5h1.5v1.5h-1.5zM111.5 65.5h1.5v1.5h-1.5zM112.8 65.5h1.5v1.5h-1.5zM113.7 65.5h1.5v1.5h-1.5zM117.2 65.5h1.5v1.5h-1.5zM118.0 65.5h1.5v1.5h-1.5zM119.2 65.5h1.5v1.5h-1.5zM120.0 65.5h1.5v1.5h-1.5zM121.5 65.5h1.5v1.5h-1.5zM122.0 65.5h1.5v1.5h-1.5zM123.4 65.5h1.5v1.5h-1.5zM124.6 65.5h1.5v1.5h-1.5zM126.7 65.5h1.5v1.5h-1.5zM129.1 65.5h1.5v1.5h-1.5zM130.8 65.5h1.5v1.5h-1.5zM132.3 65.5h1.5v1.5h-1.5zM133.4 65.5h1.5v1.5h-1.5zM134.3 65.5h1.5v1.5h-1.5zM136.5 65.5h1.5v1.5h-1.5zM106.8 65.5h1.5v1.5h-1.5zM137.5 65.5h1.5v1.5h-1.5zM110.3 66.7h1.5v1.5h-1.5zM111.7 66.7h1.5v1.5h-1.5zM112.3 66.7h1.5v1.5h-1.5zM113.7 66.7h1.5v1.5h-1.5zM114.5 66.7h1.5v1.5h-1.5zM117.3 66.7h1.5v1.5h-1.5zM118.2 66.7h1.5v1.5h-1.5zM119.9 66.7h1.5v1.5h-1.5zM121.1 66.7h1.5v1.5h-1.5zM122.6 66.7h1.5v1.5h-1.5zM123.4 66.7h1.5v1.5h-1.5zM125.6 66.7h1.5v1.5h-1.5zM126.4 66.7h1.5v1.5h-1.5zM127.7 66.7h1.5v1.5h-1.5zM129.1 66.7h1.5v1.5h-1.5zM130.2 66.7h1.5v1.5h-1.5zM132.2 66.7h1.5v1.5h-1.5zM109.3 66.7h1.5v1.5h-1.5zM135.5 66.7h1.5v1.5h-1.5zM108.4 67.9h1.5v1.5h-1.5zM109.4 67.9h1.5v1.5h-1.5zM110.6 67.9h1.5v1.5h-1.5zM111.4 67.9h1.5v1.5h-1.5zM113.5 67.9h1.5v1.5h-1.5zM114.9 67.9h1.5v1.5h-1.5zM116.0 67.9h1.5v1.5h-1.5zM116.8 67.9h1.5v1.5h-1.5zM118.1 67.9h1.5v1.5h-1.5zM119.3 67.9h1.5v1.5h-1.5zM122.1 67.9h1.5v1.5h-1.5zM123.1 67.9h1.5v1.5h-1.5zM124.6 67.9h1.5v1.5h-1.5zM125.4 67.9h1.5v1.5h-1.5zM126.8 67.9h1.5v1.5h-1.5zM128.1 67.9h1.5v1.5h-1.5zM129.9 67.9h1.5v1.5h-1.5zM130.7 67.9h1.5v1.5h-1.5zM132.0 67.9h1.5v1.5h-1.5zM132.9 67.9h1.5v1.5h-1.5zM134.2 67.9h1.5v1.5h-1.5zM135.6 67.9h1.5v1.5h-1.5zM137.2 67.9h1.5v1.5h-1.5zM111.6 69.1h1.5v1.5h-1.5zM112.9 69.1h1.5v1.5h-1.5zM113.4 69.1h1.5v1.5h-1.5zM114.6 69.1h1.5v1.5h-1.5zM116.1 69.1h1.5v1.5h-1.5zM117.1 69.1h1.5v1.5h-1.5zM120.0 69.1h1.5v1.5h-1.5zM121.5 69.1h1.5v1.5h-1.5zM122.3 69.1h1.5v1.5h-1.5zM122.9 69.1h1.5v1.5h-1.5zM124.7 69.1h1.5v1.5h-1.5zM125.4 69.1h1.5v1.5h-1.5zM126.8 69.1h1.5v1.5h-1.5zM127.6 69.1h1.5v1.5h-1.5zM129.9 69.1h1.5v1.5h-1.5zM130.9 69.1h1.5v1.5h-1.5zM132.9 69.1h1.5v1.5h-1.5zM110.1 69.1h1.5v1.5h-1.5zM134.1 69.1h1.5v1.5h-1.5zM111.5 70.2h1.5v1.5h-1.5zM112.2 70.2h1.5v1.5h-1.5zM113.9 70.2h1.5v1.5h-1.5zM114.6 70.2h1.5v1.5h-1.5zM116.1 70.2h1.5v1.5h-1.5zM118.0 70.2h1.5v1.5h-1.5zM118.8 70.2h1.5v1.5h-1.5zM120.3 70.2h1.5v1.5h-1.5zM121.6 70.2h1.5v1.5h-1.5zM122.5 70.2h1.5v1.5h-1.5zM124.8 70.2h1.5v1.5h-1.5zM125.5 70.2h1.5v1.5h-1.5zM127.8 70.2h1.5v1.5h-1.5zM129.5 70.2h1.5v1.5h-1.5zM131.0 70.2h1.5v1.5h-1.5zM131.8 70.2h1.5v1.5h-1.5zM110.5 70.2h1.5v1.5h-1.5zM134.2 70.2h1.5v1.5h-1.5zM114.0 71.4h1.5v1.5h-1.5zM114.9 71.4h1.5v1.5h-1.5zM116.7 71.4h1.5v1.5h-1.5zM119.2 71.4h1.5v1.5h-1.5zM120.3 71.4h1.5v1.5h-1.5zM121.3 71.4h1.5v1.5h-1.5zM122.3 71.4h1.5v1.5h-1.5zM123.8 71.4h1.5v1.5h-1.5zM124.5 71.4h1.5v1.5h-1.5zM125.7 71.4h1.5v1.5h-1.5zM126.8 71.4h1.5v1.5h-1.5zM127.7 71.4h1.5v1.5h-1.5zM129.0 71.4h1.5v1.5h-1.5zM130.9 71.4h1.5v1.5h-1.5zM114.8 72.6h1.5v1.5h-1.5zM117.0 72.6h1.5v1.5h-1.5zM118.1 72.6h1.5v1.5h-1.5zM118.9 72.6h1.5v1.5h-1.5zM120.0 72.6h1.5v1.5h-1.5zM121.4 72.6h1.5v1.5h-1.5zM122.3 72.6h1.5v1.5h-1.5zM123.4 72.6h1.5v1.5h-1.5zM124.6 72.6h1.5v1.5h-1.5zM125.7 72.6h1.5v1.5h-1.5zM126.5 72.6h1.5v1.5h-1.5zM127.6 72.6h1.5v1.5h-1.5zM128.5 72.6h1.5v1.5h-1.5zM130.1 72.6h1.5v1.5h-1.5zM131.3 72.6h1.5v1.5h-1.5zM117.2 73.8h1.5v1.5h-1.5zM118.2 73.8h1.5v1.5h-1.5zM119.2 73.8h1.5v1.5h-1.5zM122.3 73.8h1.5v1.5h-1.5zM123.5 73.8h1.5v1.5h-1.5zM124.4 73.8h1.5v1.5h-1.5zM125.2 73.8h1.5v1.5h-1.5zM127.9 73.8h1.5v1.5h-1.5zM129.7 73.8h1.5v1.5h-1.5zM131.5 73.8h1.5v1.5h-1.5zM115.7 75.0h1.5v1.5h-1.5zM116.6 75.0h1.5v1.5h-1.5zM118.0 75.0h1.5v1.5h-1.5zM119.0 75.0h1.5v1.5h-1.5zM120.3 75.0h1.5v1.5h-1.5zM122.3 75.0h1.5v1.5h-1.5zM123.4 75.0h1.5v1.5h-1.5zM124.6 75.0h1.5v1.5h-1.5zM125.7 75.0h1.5v1.5h-1.5zM126.7 75.0h1.5v1.5h-1.5zM127.4 75.0h1.5v1.5h-1.5zM129.0 75.0h1.5v1.5h-1.5zM129.2 75.0h1.5v1.5h-1.5zM117.1 76.1h1.5v1.5h-1.5zM118.2 76.1h1.5v1.5h-1.5zM119.4 76.1h1.5v1.5h-1.5zM120.2 76.1h1.5v1.5h-1.5zM122.4 76.1h1.5v1.5h-1.5zM123.7 76.1h1.5v1.5h-1.5zM124.4 76.1h1.5v1.5h-1.5zM125.5 76.1h1.5v1.5h-1.5zM126.4 76.1h1.5v1.5h-1.5zM127.6 76.1h1.5v1.5h-1.5zM129.0 76.1h1.5v1.5h-1.5zM129.6 76.1h1.5v1.5h-1.5zM116.6 77.3h1.5v1.5h-1.5zM118.0 77.3h1.5v1.5h-1.5zM118.8 77.3h1.5v1.5h-1.5zM120.3 77.3h1.5v1.5h-1.5zM121.0 77.3h1.5v1.5h-1.5zM123.4 77.3h1.5v1.5h-1.5zM124.5 77.3h1.5v1.5h-1.5zM125.4 77.3h1.5v1.5h-1.5zM127.1 77.3h1.5v1.5h-1.5zM127.6 77.3h1.5v1.5h-1.5zM117.1 78.5h1.5v1.5h-1.5zM118.2 78.5h1.5v1.5h-1.5zM118.9 78.5h1.5v1.5h-1.5zM120.2 78.5h1.5v1.5h-1.5zM121.6 78.5h1.5v1.5h-1.5zM122.1 78.5h1.5v1.5h-1.5zM123.5 78.5h1.5v1.5h-1.5zM124.3 78.5h1.5v1.5h-1.5zM126.8 78.5h1.5v1.5h-1.5zM128.0 78.5h1.5v1.5h-1.5zM129.1 78.5h1.5v1.5h-1.5zM117.0 79.7h1.5v1.5h-1.5zM118.2 79.7h1.5v1.5h-1.5zM118.9 79.7h1.5v1.5h-1.5zM120.1 79.7h1.5v1.5h-1.5zM123.6 79.7h1.5v1.5h-1.5zM124.7 79.7h1.5v1.5h-1.5zM125.6 79.7h1.5v1.5h-1.5zM128.0 79.7h1.5v1.5h-1.5zM116.3 79.7h1.5v1.5h-1.5zM116.9 80.8h1.5v1.5h-1.5zM118.7 80.8h1.5v1.5h-1.5zM120.4 80.8h1.5v1.5h-1.5zM122.8 80.8h1.5v1.5h-1.5zM124.0 80.8h1.5v1.5h-1.5zM126.0 80.8h1.5v1.5h-1.5zM126.6 80.8h1.5v1.5h-1.5zM118.0 82.0h1.5v1.5h-1.5zM119.4 82.0h1.5v1.5h-1.5zM120.2 82.0h1.5v1.5h-1.5zM121.0 82.0h1.5v1.5h-1.5zM122.5 82.0h1.5v1.5h-1.5zM123.6 82.0h1.5v1.5h-1.5zM124.4 82.0h1.5v1.5h-1.5zM125.5 82.0h1.5v1.5h-1.5zM127.1 82.0h1.5v1.5h-1.5zM117.3 82.0h1.5v1.5h-1.5zM118.0 83.2h1.5v1.5h-1.5zM120.5 83.2h1.5v1.5h-1.5zM120.8 83.2h1.5v1.5h-1.5zM122.4 83.2h1.5v1.5h-1.5zM123.4 83.2h1.5v1.5h-1.5zM124.9 83.2h1.5v1.5h-1.5zM125.7 83.2h1.5v1.5h-1.5zM126.3 83.2h1.5v1.5h-1.5zM120.0 84.4h1.5v1.5h-1.5zM122.7 84.4h1.5v1.5h-1.5zM123.1 84.4h1.5v1.5h-1.5zM124.5 84.4h1.5v1.5h-1.5zM126.6 84.4h1.5v1.5h-1.5zM119.2 85.6h1.5v1.5h-1.5zM120.4 85.6h1.5v1.5h-1.5zM122.4 85.6h1.5v1.5h-1.5zM123.8 85.6h1.5v1.5h-1.5zM124.3 85.6h1.5v1.5h-1.5zM126.7 85.6h1.5v1.5h-1.5zM127.4 85.6h1.5v1.5h-1.5zM119.0 86.7h1.5v1.5h-1.5zM120.9 86.7h1.5v1.5h-1.5zM122.6 86.7h1.5v1.5h-1.5zM123.2 86.7h1.5v1.5h-1.5zM124.6 86.7h1.5v1.5h-1.5zM125.8 86.7h1.5v1.5h-1.5zM119.9 87.9h1.5v1.5h-1.5zM121.2 87.9h1.5v1.5h-1.5zM122.3 87.9h1.5v1.5h-1.5zM123.5 87.9h1.5v1.5h-1.5zM124.8 87.9h1.5v1.5h-1.5zM125.5 87.9h1.5v1.5h-1.5zM118.3 87.9h1.5v1.5h-1.5zM125.7 87.9h1.5v1.5h-1.5zM122.3 89.1h1.5v1.5h-1.5zM123.4 89.1h1.5v1.5h-1.5zM120.6 89.1h1.5v1.5h-1.5zM124.7 89.1h1.5v1.5h-1.5zM121.5 90.3h1.5v1.5h-1.5zM122.4 90.3h1.5v1.5h-1.5zM123.5 90.3h1.5v1.5h-1.5zM124.5 90.3h1.5v1.5h-1.5zM122.3 91.5h1.5v1.5h-1.5zM123.5 91.5h1.5v1.5h-1.5zM123.9 91.5h1.5v1.5h-1.5zM122.3 92.6h1.5v1.5h-1.5zM123.3 92.6h1.5v1.5h-1.5zM122.0 93.8h1.5v1.5h-1.5zM121.2 93.8h1.5v1.5h-1.5zM123.4 93.8h1.5v1.5h-1.5zM122.2 95.0h1.5v1.5h-1.5zM122.3 96.2h1.5v1.5h-1.5zM122.5 97.3h1.5v1.5h-1.5zM122.2 98.5h1.5v1.5h-1.5zM122.4 99.7h1.5v1.5h-1.5zM122.5 110.2h1.5v1.5h-1.5zM122.5 111.5h1.5v1.5h-1.5z"/>
<line x1="51.90" y1="60.60" x2="93.50" y2="60.60" stroke="#111" stroke-width="1.4"/>
<line x1="64.50" y1="54.10" x2="80.90" y2="54.10" stroke="#111" stroke-width="1.4"/>
<line x1="64.50" y1="69.20" x2="80.90" y2="69.20" stroke="#111" stroke-width="1.4"/>
<line x1="72.70" y1="54.10" x2="72.70" y2="69.20" stroke="#111" stroke-width="1.4"/>
<line x1="102.20" y1="63.70" x2="144.00" y2="63.70" stroke="#111" stroke-width="1.4"/>
<line x1="114.90" y1="56.30" x2="131.30" y2="56.30" stroke="#111" stroke-width="1.4"/>
<line x1="114.90" y1="72.40" x2="131.30" y2="72.40" stroke="#111" stroke-width="1.4"/>
<line x1="123.10" y1="56.30" x2="123.10" y2="72.40" stroke="#111" stroke-width="1.4"/>
<polyline points="72.70,24.80 72.70,19.90 123.30,19.90 123.30,24.80" fill="none" stroke="#222" stroke-width="1.2"/>
<text x="97.90" y="16.40" font-size="8.6" font-weight="normal" fill="#262626" text-anchor="middle" textLength="34.30" lengthAdjust="spacingAndGlyphs">p&lt;0.0001</text>
<text x="1.60" y="197.20" font-size="10.7" font-weight="bold" fill="#111" text-anchor="start" textLength="6.80" lengthAdjust="spacingAndGlyphs" stroke="#111" stroke-width="0.3">D</text>
<line x1="37.40" y1="201.70" x2="37.40" y2="318.40" stroke="#1a1a1a" stroke-width="1.3"/>
<line x1="32.50" y1="318.40" x2="37.40" y2="318.40" stroke="#1a1a1a" stroke-width="1.3"/>
<text x="31.30" y="321.40" font-size="9.7" font-weight="bold" fill="#111" text-anchor="end" textLength="3.70" lengthAdjust="spacingAndGlyphs">0</text>
<line x1="32.50" y1="295.06" x2="37.40" y2="295.06" stroke="#1a1a1a" stroke-width="1.3"/>
<text x="31.30" y="298.06" font-size="9.7" font-weight="bold" fill="#111" text-anchor="end" textLength="7.90" lengthAdjust="spacingAndGlyphs">20</text>
<line x1="32.50" y1="271.72" x2="37.40" y2="271.72" stroke="#1a1a1a" stroke-width="1.3"/>
<text x="31.30" y="274.72" font-size="9.7" font-weight="bold" fill="#111" text-anchor="end" textLength="7.90" lengthAdjust="spacingAndGlyphs">40</text>
<line x1="32.50" y1="248.38" x2="37.40" y2="248.38" stroke="#1a1a1a" stroke-width="1.3"/>
<text x="31.30" y="251.38" font-size="9.7" font-weight="bold" fill="#111" text-anchor="end" textLength="7.90" lengthAdjust="spacingAndGlyphs">60</text>
<line x1="32.50" y1="225.04" x2="37.40" y2="225.04" stroke="#1a1a1a" stroke-width="1.3"/>
<text x="31.30" y="228.04" font-size="9.7" font-weight="bold" fill="#111" text-anchor="end" textLength="7.90" lengthAdjust="spacingAndGlyphs">80</text>
<line x1="32.50" y1="201.70" x2="37.40" y2="201.70" stroke="#1a1a1a" stroke-width="1.3"/>
<text x="31.30" y="204.70" font-size="9.7" font-weight="bold" fill="#111" text-anchor="end" textLength="11.80" lengthAdjust="spacingAndGlyphs">100</text>
<line x1="32.30" y1="318.40" x2="154.90" y2="318.40" stroke="#1a1a1a" stroke-width="1.3"/>
<line x1="70.70" y1="318.40" x2="70.70" y2="323.40" stroke="#1a1a1a" stroke-width="1.3"/>
<line x1="120.90" y1="318.40" x2="120.90" y2="323.40" stroke="#1a1a1a" stroke-width="1.3"/>
<text x="70.40" y="333.40" font-size="8.4" font-weight="bold" fill="#111" text-anchor="middle" textLength="12.20" lengthAdjust="spacingAndGlyphs">yes</text>
<text x="121.00" y="333.40" font-size="8.4" font-weight="bold" fill="#111" text-anchor="middle" textLength="9.00" lengthAdjust="spacingAndGlyphs">no</text>
<text x="59.80" y="348.70" font-size="10.3" font-weight="bold" fill="#111" text-anchor="start" textLength="72.30" lengthAdjust="spacingAndGlyphs">Black tea drinking</text>
<text x="0" y="0" font-size="10.0" font-weight="bold" fill="#111" stroke="#111" stroke-width="0.25" text-anchor="middle" textLength="17.5" lengthAdjust="spacingAndGlyphs" transform="translate(13.30,259.20) rotate(-90)">AAO</text>
<path fill="#0000ff" d="M69.8 216.0h1.7v1.7h-1.7zM69.7 217.2h1.7v1.7h-1.7zM69.7 218.4h1.7v1.7h-1.7zM69.7 219.5h1.7v1.7h-1.7zM69.6 220.7h1.7v1.7h-1.7zM69.7 221.9h1.7v1.7h-1.7zM68.7 223.0h1.7v1.7h-1.7zM70.1 223.0h1.7v1.7h-1.7zM71.6 223.0h1.7v1.7h-1.7zM68.9 224.2h1.7v1.7h-1.7zM69.6 224.2h1.7v1.7h-1.7zM70.9 224.2h1.7v1.7h-1.7zM72.1 224.2h1.7v1.7h-1.7zM67.5 225.4h1.7v1.7h-1.7zM68.8 225.4h1.7v1.7h-1.7zM69.7 225.4h1.7v1.7h-1.7zM70.8 225.4h1.7v1.7h-1.7zM66.8 225.4h1.7v1.7h-1.7zM72.9 225.4h1.7v1.7h-1.7zM66.8 226.5h1.7v1.7h-1.7zM67.6 226.5h1.7v1.7h-1.7zM68.2 226.5h1.7v1.7h-1.7zM69.8 226.5h1.7v1.7h-1.7zM70.8 226.5h1.7v1.7h-1.7zM71.9 226.5h1.7v1.7h-1.7zM72.6 226.5h1.7v1.7h-1.7zM66.3 227.7h1.7v1.7h-1.7zM67.8 227.7h1.7v1.7h-1.7zM69.0 227.7h1.7v1.7h-1.7zM69.8 227.7h1.7v1.7h-1.7zM71.1 227.7h1.7v1.7h-1.7zM71.7 227.7h1.7v1.7h-1.7zM73.6 227.7h1.7v1.7h-1.7zM66.5 228.9h1.7v1.7h-1.7zM68.0 228.9h1.7v1.7h-1.7zM68.6 228.9h1.7v1.7h-1.7zM69.8 228.9h1.7v1.7h-1.7zM70.5 228.9h1.7v1.7h-1.7zM71.8 228.9h1.7v1.7h-1.7zM73.0 228.9h1.7v1.7h-1.7zM65.8 228.9h1.7v1.7h-1.7zM64.5 230.0h1.7v1.7h-1.7zM66.7 230.0h1.7v1.7h-1.7zM68.0 230.0h1.7v1.7h-1.7zM68.3 230.0h1.7v1.7h-1.7zM69.6 230.0h1.7v1.7h-1.7zM70.3 230.0h1.7v1.7h-1.7zM72.0 230.0h1.7v1.7h-1.7zM72.6 230.0h1.7v1.7h-1.7zM73.8 230.0h1.7v1.7h-1.7zM75.3 230.0h1.7v1.7h-1.7zM75.6 230.0h1.7v1.7h-1.7zM64.9 231.2h1.7v1.7h-1.7zM65.6 231.2h1.7v1.7h-1.7zM67.0 231.2h1.7v1.7h-1.7zM67.6 231.2h1.7v1.7h-1.7zM68.8 231.2h1.7v1.7h-1.7zM69.6 231.2h1.7v1.7h-1.7zM71.3 231.2h1.7v1.7h-1.7zM71.7 231.2h1.7v1.7h-1.7zM72.5 231.2h1.7v1.7h-1.7zM74.0 231.2h1.7v1.7h-1.7zM74.9 231.2h1.7v1.7h-1.7zM64.5 232.4h1.7v1.7h-1.7zM65.5 232.4h1.7v1.7h-1.7zM66.9 232.4h1.7v1.7h-1.7zM67.7 232.4h1.7v1.7h-1.7zM68.9 232.4h1.7v1.7h-1.7zM69.3 232.4h1.7v1.7h-1.7zM70.7 232.4h1.7v1.7h-1.7zM72.0 232.4h1.7v1.7h-1.7zM73.0 232.4h1.7v1.7h-1.7zM74.2 232.4h1.7v1.7h-1.7zM74.8 232.4h1.7v1.7h-1.7zM62.5 233.5h1.7v1.7h-1.7zM63.8 233.5h1.7v1.7h-1.7zM64.7 233.5h1.7v1.7h-1.7zM66.0 233.5h1.7v1.7h-1.7zM66.9 233.5h1.7v1.7h-1.7zM67.5 233.5h1.7v1.7h-1.7zM68.5 233.5h1.7v1.7h-1.7zM70.0 233.5h1.7v1.7h-1.7zM70.9 233.5h1.7v1.7h-1.7zM71.8 233.5h1.7v1.7h-1.7zM72.8 233.5h1.7v1.7h-1.7zM74.0 233.5h1.7v1.7h-1.7zM75.0 233.5h1.7v1.7h-1.7zM76.1 233.5h1.7v1.7h-1.7zM62.2 233.5h1.7v1.7h-1.7zM77.7 233.5h1.7v1.7h-1.7zM62.4 234.7h1.7v1.7h-1.7zM63.2 234.7h1.7v1.7h-1.7zM64.4 234.7h1.7v1.7h-1.7zM65.9 234.7h1.7v1.7h-1.7zM66.7 234.7h1.7v1.7h-1.7zM67.5 234.7h1.7v1.7h-1.7zM68.6 234.7h1.7v1.7h-1.7zM69.7 234.7h1.7v1.7h-1.7zM70.8 234.7h1.7v1.7h-1.7zM71.8 234.7h1.7v1.7h-1.7zM72.9 234.7h1.7v1.7h-1.7zM73.6 234.7h1.7v1.7h-1.7zM74.8 234.7h1.7v1.7h-1.7zM76.2 234.7h1.7v1.7h-1.7zM76.7 234.7h1.7v1.7h-1.7zM78.2 234.7h1.7v1.7h-1.7zM61.7 235.9h1.7v1.7h-1.7zM63.5 235.9h1.7v1.7h-1.7zM64.7 235.9h1.7v1.7h-1.7zM65.4 235.9h1.7v1.7h-1.7zM66.7 235.9h1.7v1.7h-1.7zM67.5 235.9h1.7v1.7h-1.7zM68.8 235.9h1.7v1.7h-1.7zM69.9 235.9h1.7v1.7h-1.7zM70.9 235.9h1.7v1.7h-1.7zM72.0 235.9h1.7v1.7h-1.7zM72.8 235.9h1.7v1.7h-1.7zM74.1 235.9h1.7v1.7h-1.7zM74.8 235.9h1.7v1.7h-1.7zM76.3 235.9h1.7v1.7h-1.7zM76.9 235.9h1.7v1.7h-1.7zM78.2 235.9h1.7v1.7h-1.7zM60.5 235.9h1.7v1.7h-1.7zM59.7 237.0h1.7v1.7h-1.7zM60.6 237.0h1.7v1.7h-1.7zM61.5 237.0h1.7v1.7h-1.7zM63.6 237.0h1.7v1.7h-1.7zM64.7 237.0h1.7v1.7h-1.7zM65.6 237.0h1.7v1.7h-1.7zM66.5 237.0h1.7v1.7h-1.7zM67.8 237.0h1.7v1.7h-1.7zM68.4 237.0h1.7v1.7h-1.7zM69.9 237.0h1.7v1.7h-1.7zM71.0 237.0h1.7v1.7h-1.7zM71.8 237.0h1.7v1.7h-1.7zM72.5 237.0h1.7v1.7h-1.7zM74.0 237.0h1.7v1.7h-1.7zM75.0 237.0h1.7v1.7h-1.7zM75.9 237.0h1.7v1.7h-1.7zM76.8 237.0h1.7v1.7h-1.7zM77.6 237.0h1.7v1.7h-1.7zM78.7 237.0h1.7v1.7h-1.7zM80.1 237.0h1.7v1.7h-1.7zM60.7 238.2h1.7v1.7h-1.7zM61.5 238.2h1.7v1.7h-1.7zM62.5 238.2h1.7v1.7h-1.7zM63.8 238.2h1.7v1.7h-1.7zM64.9 238.2h1.7v1.7h-1.7zM65.4 238.2h1.7v1.7h-1.7zM66.5 238.2h1.7v1.7h-1.7zM68.0 238.2h1.7v1.7h-1.7zM68.7 238.2h1.7v1.7h-1.7zM69.9 238.2h1.7v1.7h-1.7zM70.9 238.2h1.7v1.7h-1.7zM72.3 238.2h1.7v1.7h-1.7zM72.6 238.2h1.7v1.7h-1.7zM73.8 238.2h1.7v1.7h-1.7zM74.9 238.2h1.7v1.7h-1.7zM75.7 238.2h1.7v1.7h-1.7zM76.4 238.2h1.7v1.7h-1.7zM78.2 238.2h1.7v1.7h-1.7zM78.8 238.2h1.7v1.7h-1.7zM79.6 238.2h1.7v1.7h-1.7zM58.6 239.4h1.7v1.7h-1.7zM60.7 239.4h1.7v1.7h-1.7zM61.5 239.4h1.7v1.7h-1.7zM62.8 239.4h1.7v1.7h-1.7zM63.8 239.4h1.7v1.7h-1.7zM64.9 239.4h1.7v1.7h-1.7zM65.7 239.4h1.7v1.7h-1.7zM66.7 239.4h1.7v1.7h-1.7zM67.7 239.4h1.7v1.7h-1.7zM68.7 239.4h1.7v1.7h-1.7zM69.7 239.4h1.7v1.7h-1.7zM71.0 239.4h1.7v1.7h-1.7zM71.7 239.4h1.7v1.7h-1.7zM72.8 239.4h1.7v1.7h-1.7zM73.9 239.4h1.7v1.7h-1.7zM75.1 239.4h1.7v1.7h-1.7zM76.1 239.4h1.7v1.7h-1.7zM77.1 239.4h1.7v1.7h-1.7zM77.9 239.4h1.7v1.7h-1.7zM79.1 239.4h1.7v1.7h-1.7zM80.2 239.4h1.7v1.7h-1.7zM81.4 239.4h1.7v1.7h-1.7zM58.1 239.4h1.7v1.7h-1.7zM81.4 239.4h1.7v1.7h-1.7zM58.6 240.5h1.7v1.7h-1.7zM59.5 240.5h1.7v1.7h-1.7zM60.8 240.5h1.7v1.7h-1.7zM61.6 240.5h1.7v1.7h-1.7zM62.8 240.5h1.7v1.7h-1.7zM63.4 240.5h1.7v1.7h-1.7zM64.4 240.5h1.7v1.7h-1.7zM65.7 240.5h1.7v1.7h-1.7zM66.5 240.5h1.7v1.7h-1.7zM67.4 240.5h1.7v1.7h-1.7zM68.4 240.5h1.7v1.7h-1.7zM69.9 240.5h1.7v1.7h-1.7zM70.6 240.5h1.7v1.7h-1.7zM71.9 240.5h1.7v1.7h-1.7zM72.8 240.5h1.7v1.7h-1.7zM73.7 240.5h1.7v1.7h-1.7zM74.7 240.5h1.7v1.7h-1.7zM76.1 240.5h1.7v1.7h-1.7zM76.9 240.5h1.7v1.7h-1.7zM78.1 240.5h1.7v1.7h-1.7zM79.8 240.5h1.7v1.7h-1.7zM80.9 240.5h1.7v1.7h-1.7zM57.3 240.5h1.7v1.7h-1.7zM60.6 241.7h1.7v1.7h-1.7zM62.3 241.7h1.7v1.7h-1.7zM63.7 241.7h1.7v1.7h-1.7zM64.8 241.7h1.7v1.7h-1.7zM65.4 241.7h1.7v1.7h-1.7zM66.8 241.7h1.7v1.7h-1.7zM67.5 241.7h1.7v1.7h-1.7zM68.7 241.7h1.7v1.7h-1.7zM69.9 241.7h1.7v1.7h-1.7zM71.1 241.7h1.7v1.7h-1.7zM71.9 241.7h1.7v1.7h-1.7zM73.1 241.7h1.7v1.7h-1.7zM73.6 241.7h1.7v1.7h-1.7zM74.9 241.7h1.7v1.7h-1.7zM75.9 241.7h1.7v1.7h-1.7zM77.0 241.7h1.7v1.7h-1.7zM77.9 241.7h1.7v1.7h-1.7zM79.0 241.7h1.7v1.7h-1.7zM80.4 241.7h1.7v1.7h-1.7zM55.4 242.9h1.7v1.7h-1.7zM56.5 242.9h1.7v1.7h-1.7zM57.3 242.9h1.7v1.7h-1.7zM58.5 242.9h1.7v1.7h-1.7zM59.5 242.9h1.7v1.7h-1.7zM60.4 242.9h1.7v1.7h-1.7zM61.9 242.9h1.7v1.7h-1.7zM62.6 242.9h1.7v1.7h-1.7zM63.4 242.9h1.7v1.7h-1.7zM64.6 242.9h1.7v1.7h-1.7zM65.7 242.9h1.7v1.7h-1.7zM66.9 242.9h1.7v1.7h-1.7zM67.7 242.9h1.7v1.7h-1.7zM68.8 242.9h1.7v1.7h-1.7zM69.5 242.9h1.7v1.7h-1.7zM70.7 242.9h1.7v1.7h-1.7zM71.8 242.9h1.7v1.7h-1.7zM72.8 242.9h1.7v1.7h-1.7zM73.7 242.9h1.7v1.7h-1.7zM74.8 242.9h1.7v1.7h-1.7zM76.1 242.9h1.7v1.7h-1.7zM76.9 242.9h1.7v1.7h-1.7zM77.7 242.9h1.7v1.7h-1.7zM79.3 242.9h1.7v1.7h-1.7zM79.5 242.9h1.7v1.7h-1.7zM81.1 242.9h1.7v1.7h-1.7zM82.2 242.9h1.7v1.7h-1.7zM83.0 242.9h1.7v1.7h-1.7zM83.9 242.9h1.7v1.7h-1.7zM55.0 242.9h1.7v1.7h-1.7zM84.4 242.9h1.7v1.7h-1.7zM58.0 244.0h1.7v1.7h-1.7zM58.1 244.0h1.7v1.7h-1.7zM59.7 244.0h1.7v1.7h-1.7zM60.8 244.0h1.7v1.7h-1.7zM61.4 244.0h1.7v1.7h-1.7zM62.9 244.0h1.7v1.7h-1.7zM63.8 244.0h1.7v1.7h-1.7zM64.8 244.0h1.7v1.7h-1.7zM65.8 244.0h1.7v1.7h-1.7zM66.5 244.0h1.7v1.7h-1.7zM67.7 244.0h1.7v1.7h-1.7zM69.0 244.0h1.7v1.7h-1.7zM69.6 244.0h1.7v1.7h-1.7zM70.7 244.0h1.7v1.7h-1.7zM71.6 244.0h1.7v1.7h-1.7zM72.9 244.0h1.7v1.7h-1.7zM73.6 244.0h1.7v1.7h-1.7zM75.0 244.0h1.7v1.7h-1.7zM76.1 244.0h1.7v1.7h-1.7zM77.0 244.0h1.7v1.7h-1.7zM78.4 244.0h1.7v1.7h-1.7zM78.8 244.0h1.7v1.7h-1.7zM79.9 244.0h1.7v1.7h-1.7zM80.5 244.0h1.7v1.7h-1.7zM81.9 244.0h1.7v1.7h-1.7zM83.0 244.0h1.7v1.7h-1.7zM55.4 244.0h1.7v1.7h-1.7zM83.4 244.0h1.7v1.7h-1.7zM59.4 245.2h1.7v1.7h-1.7zM60.5 245.2h1.7v1.7h-1.7zM61.3 245.2h1.7v1.7h-1.7zM62.8 245.2h1.7v1.7h-1.7zM63.6 245.2h1.7v1.7h-1.7zM64.7 245.2h1.7v1.7h-1.7zM65.4 245.2h1.7v1.7h-1.7zM66.5 245.2h1.7v1.7h-1.7zM67.7 245.2h1.7v1.7h-1.7zM68.7 245.2h1.7v1.7h-1.7zM70.0 245.2h1.7v1.7h-1.7zM70.8 245.2h1.7v1.7h-1.7zM71.5 245.2h1.7v1.7h-1.7zM72.4 245.2h1.7v1.7h-1.7zM74.0 245.2h1.7v1.7h-1.7zM75.0 245.2h1.7v1.7h-1.7zM76.0 245.2h1.7v1.7h-1.7zM77.1 245.2h1.7v1.7h-1.7zM78.1 245.2h1.7v1.7h-1.7zM79.1 245.2h1.7v1.7h-1.7zM80.0 245.2h1.7v1.7h-1.7zM81.2 245.2h1.7v1.7h-1.7zM55.5 246.4h1.7v1.7h-1.7zM56.2 246.4h1.7v1.7h-1.7zM57.7 246.4h1.7v1.7h-1.7zM58.6 246.4h1.7v1.7h-1.7zM59.9 246.4h1.7v1.7h-1.7zM60.5 246.4h1.7v1.7h-1.7zM61.2 246.4h1.7v1.7h-1.7zM62.6 246.4h1.7v1.7h-1.7zM63.9 246.4h1.7v1.7h-1.7zM64.3 246.4h1.7v1.7h-1.7zM65.7 246.4h1.7v1.7h-1.7zM66.4 246.4h1.7v1.7h-1.7zM67.8 246.4h1.7v1.7h-1.7zM68.7 246.4h1.7v1.7h-1.7zM70.1 246.4h1.7v1.7h-1.7zM70.7 246.4h1.7v1.7h-1.7zM71.8 246.4h1.7v1.7h-1.7zM72.6 246.4h1.7v1.7h-1.7zM73.6 246.4h1.7v1.7h-1.7zM74.9 246.4h1.7v1.7h-1.7zM76.0 246.4h1.7v1.7h-1.7zM76.8 246.4h1.7v1.7h-1.7zM77.8 246.4h1.7v1.7h-1.7zM79.1 246.4h1.7v1.7h-1.7zM79.8 246.4h1.7v1.7h-1.7zM80.9 246.4h1.7v1.7h-1.7zM81.9 246.4h1.7v1.7h-1.7zM85.0 246.4h1.7v1.7h-1.7zM57.2 247.5h1.7v1.7h-1.7zM58.2 247.5h1.7v1.7h-1.7zM60.9 247.5h1.7v1.7h-1.7zM61.7 247.5h1.7v1.7h-1.7zM62.6 247.5h1.7v1.7h-1.7zM63.3 247.5h1.7v1.7h-1.7zM65.0 247.5h1.7v1.7h-1.7zM65.6 247.5h1.7v1.7h-1.7zM66.6 247.5h1.7v1.7h-1.7zM67.5 247.5h1.7v1.7h-1.7zM68.7 247.5h1.7v1.7h-1.7zM69.7 247.5h1.7v1.7h-1.7zM70.6 247.5h1.7v1.7h-1.7zM71.4 247.5h1.7v1.7h-1.7zM73.0 247.5h1.7v1.7h-1.7zM74.0 247.5h1.7v1.7h-1.7zM74.5 247.5h1.7v1.7h-1.7zM76.1 247.5h1.7v1.7h-1.7zM76.9 247.5h1.7v1.7h-1.7zM78.0 247.5h1.7v1.7h-1.7zM78.8 247.5h1.7v1.7h-1.7zM80.0 247.5h1.7v1.7h-1.7zM80.6 247.5h1.7v1.7h-1.7zM81.8 247.5h1.7v1.7h-1.7zM83.2 247.5h1.7v1.7h-1.7zM58.5 248.7h1.7v1.7h-1.7zM59.4 248.7h1.7v1.7h-1.7zM60.7 248.7h1.7v1.7h-1.7zM61.9 248.7h1.7v1.7h-1.7zM62.8 248.7h1.7v1.7h-1.7zM63.5 248.7h1.7v1.7h-1.7zM64.7 248.7h1.7v1.7h-1.7zM65.7 248.7h1.7v1.7h-1.7zM66.9 248.7h1.7v1.7h-1.7zM67.8 248.7h1.7v1.7h-1.7zM68.8 248.7h1.7v1.7h-1.7zM69.8 248.7h1.7v1.7h-1.7zM71.1 248.7h1.7v1.7h-1.7zM71.6 248.7h1.7v1.7h-1.7zM72.5 248.7h1.7v1.7h-1.7zM73.6 248.7h1.7v1.7h-1.7zM75.0 248.7h1.7v1.7h-1.7zM75.6 248.7h1.7v1.7h-1.7zM76.5 248.7h1.7v1.7h-1.7zM77.9 248.7h1.7v1.7h-1.7zM78.8 248.7h1.7v1.7h-1.7zM80.2 248.7h1.7v1.7h-1.7zM81.0 248.7h1.7v1.7h-1.7zM82.0 248.7h1.7v1.7h-1.7zM59.5 249.9h1.7v1.7h-1.7zM60.3 249.9h1.7v1.7h-1.7zM61.6 249.9h1.7v1.7h-1.7zM62.4 249.9h1.7v1.7h-1.7zM63.6 249.9h1.7v1.7h-1.7zM64.8 249.9h1.7v1.7h-1.7zM65.2 249.9h1.7v1.7h-1.7zM66.9 249.9h1.7v1.7h-1.7zM67.9 249.9h1.7v1.7h-1.7zM68.5 249.9h1.7v1.7h-1.7zM69.8 249.9h1.7v1.7h-1.7zM70.5 249.9h1.7v1.7h-1.7zM71.7 249.9h1.7v1.7h-1.7zM72.7 249.9h1.7v1.7h-1.7zM73.7 249.9h1.7v1.7h-1.7zM74.9 249.9h1.7v1.7h-1.7zM75.7 249.9h1.7v1.7h-1.7zM77.2 249.9h1.7v1.7h-1.7zM77.7 249.9h1.7v1.7h-1.7zM79.2 249.9h1.7v1.7h-1.7zM81.2 249.9h1.7v1.7h-1.7zM59.3 251.0h1.7v1.7h-1.7zM60.3 251.0h1.7v1.7h-1.7zM61.7 251.0h1.7v1.7h-1.7zM62.7 251.0h1.7v1.7h-1.7zM64.0 251.0h1.7v1.7h-1.7zM64.4 251.0h1.7v1.7h-1.7zM65.9 251.0h1.7v1.7h-1.7zM66.8 251.0h1.7v1.7h-1.7zM67.9 251.0h1.7v1.7h-1.7zM68.6 251.0h1.7v1.7h-1.7zM69.5 251.0h1.7v1.7h-1.7zM70.8 251.0h1.7v1.7h-1.7zM71.6 251.0h1.7v1.7h-1.7zM72.8 251.0h1.7v1.7h-1.7zM73.6 251.0h1.7v1.7h-1.7zM74.7 251.0h1.7v1.7h-1.7zM75.9 251.0h1.7v1.7h-1.7zM76.9 251.0h1.7v1.7h-1.7zM78.2 251.0h1.7v1.7h-1.7zM78.6 251.0h1.7v1.7h-1.7zM80.0 251.0h1.7v1.7h-1.7zM81.8 251.0h1.7v1.7h-1.7zM60.8 252.2h1.7v1.7h-1.7zM61.4 252.2h1.7v1.7h-1.7zM62.8 252.2h1.7v1.7h-1.7zM63.6 252.2h1.7v1.7h-1.7zM64.6 252.2h1.7v1.7h-1.7zM65.4 252.2h1.7v1.7h-1.7zM66.6 252.2h1.7v1.7h-1.7zM67.6 252.2h1.7v1.7h-1.7zM69.1 252.2h1.7v1.7h-1.7zM69.9 252.2h1.7v1.7h-1.7zM71.1 252.2h1.7v1.7h-1.7zM71.6 252.2h1.7v1.7h-1.7zM72.9 252.2h1.7v1.7h-1.7zM73.9 252.2h1.7v1.7h-1.7zM74.8 252.2h1.7v1.7h-1.7zM75.9 252.2h1.7v1.7h-1.7zM77.3 252.2h1.7v1.7h-1.7zM77.8 252.2h1.7v1.7h-1.7zM79.1 252.2h1.7v1.7h-1.7zM59.5 252.2h1.7v1.7h-1.7zM79.9 252.2h1.7v1.7h-1.7zM62.6 253.4h1.7v1.7h-1.7zM63.2 253.4h1.7v1.7h-1.7zM64.5 253.4h1.7v1.7h-1.7zM65.8 253.4h1.7v1.7h-1.7zM66.8 253.4h1.7v1.7h-1.7zM67.5 253.4h1.7v1.7h-1.7zM68.6 253.4h1.7v1.7h-1.7zM69.3 253.4h1.7v1.7h-1.7zM70.9 253.4h1.7v1.7h-1.7zM71.8 253.4h1.7v1.7h-1.7zM72.6 253.4h1.7v1.7h-1.7zM73.9 253.4h1.7v1.7h-1.7zM75.1 253.4h1.7v1.7h-1.7zM75.8 253.4h1.7v1.7h-1.7zM76.8 253.4h1.7v1.7h-1.7zM78.2 253.4h1.7v1.7h-1.7zM62.4 254.5h1.7v1.7h-1.7zM63.7 254.5h1.7v1.7h-1.7zM64.7 254.5h1.7v1.7h-1.7zM65.2 254.5h1.7v1.7h-1.7zM66.5 254.5h1.7v1.7h-1.7zM67.8 254.5h1.7v1.7h-1.7zM68.7 254.5h1.7v1.7h-1.7zM70.0 254.5h1.7v1.7h-1.7zM70.9 254.5h1.7v1.7h-1.7zM71.8 254.5h1.7v1.7h-1.7zM72.8 254.5h1.7v1.7h-1.7zM73.6 254.5h1.7v1.7h-1.7zM74.5 254.5h1.7v1.7h-1.7zM76.1 254.5h1.7v1.7h-1.7zM76.7 254.5h1.7v1.7h-1.7zM78.4 254.5h1.7v1.7h-1.7zM63.7 255.7h1.7v1.7h-1.7zM64.7 255.7h1.7v1.7h-1.7zM65.6 255.7h1.7v1.7h-1.7zM66.9 255.7h1.7v1.7h-1.7zM67.4 255.7h1.7v1.7h-1.7zM69.0 255.7h1.7v1.7h-1.7zM70.0 255.7h1.7v1.7h-1.7zM70.6 255.7h1.7v1.7h-1.7zM71.8 255.7h1.7v1.7h-1.7zM72.8 255.7h1.7v1.7h-1.7zM73.6 255.7h1.7v1.7h-1.7zM75.1 255.7h1.7v1.7h-1.7zM76.1 255.7h1.7v1.7h-1.7zM64.5 256.9h1.7v1.7h-1.7zM65.5 256.9h1.7v1.7h-1.7zM66.9 256.9h1.7v1.7h-1.7zM67.7 256.9h1.7v1.7h-1.7zM68.9 256.9h1.7v1.7h-1.7zM69.5 256.9h1.7v1.7h-1.7zM70.9 256.9h1.7v1.7h-1.7zM71.5 256.9h1.7v1.7h-1.7zM72.6 256.9h1.7v1.7h-1.7zM73.8 256.9h1.7v1.7h-1.7zM74.6 256.9h1.7v1.7h-1.7zM76.3 256.9h1.7v1.7h-1.7zM64.8 258.0h1.7v1.7h-1.7zM65.4 258.0h1.7v1.7h-1.7zM66.8 258.0h1.7v1.7h-1.7zM68.0 258.0h1.7v1.7h-1.7zM68.9 258.0h1.7v1.7h-1.7zM69.5 258.0h1.7v1.7h-1.7zM70.9 258.0h1.7v1.7h-1.7zM71.5 258.0h1.7v1.7h-1.7zM72.5 258.0h1.7v1.7h-1.7zM73.6 258.0h1.7v1.7h-1.7zM63.6 258.0h1.7v1.7h-1.7zM76.6 258.0h1.7v1.7h-1.7zM64.9 259.2h1.7v1.7h-1.7zM65.8 259.2h1.7v1.7h-1.7zM66.4 259.2h1.7v1.7h-1.7zM67.8 259.2h1.7v1.7h-1.7zM69.1 259.2h1.7v1.7h-1.7zM69.7 259.2h1.7v1.7h-1.7zM70.7 259.2h1.7v1.7h-1.7zM71.5 259.2h1.7v1.7h-1.7zM73.1 259.2h1.7v1.7h-1.7zM73.9 259.2h1.7v1.7h-1.7zM75.0 259.2h1.7v1.7h-1.7zM63.3 259.2h1.7v1.7h-1.7zM67.1 260.4h1.7v1.7h-1.7zM67.5 260.4h1.7v1.7h-1.7zM68.8 260.4h1.7v1.7h-1.7zM69.8 260.4h1.7v1.7h-1.7zM70.9 260.4h1.7v1.7h-1.7zM72.0 260.4h1.7v1.7h-1.7zM72.7 260.4h1.7v1.7h-1.7zM73.7 260.4h1.7v1.7h-1.7zM65.6 261.5h1.7v1.7h-1.7zM66.5 261.5h1.7v1.7h-1.7zM67.6 261.5h1.7v1.7h-1.7zM68.9 261.5h1.7v1.7h-1.7zM70.1 261.5h1.7v1.7h-1.7zM70.7 261.5h1.7v1.7h-1.7zM72.0 261.5h1.7v1.7h-1.7zM72.9 261.5h1.7v1.7h-1.7zM73.9 261.5h1.7v1.7h-1.7zM65.0 261.5h1.7v1.7h-1.7zM66.6 262.7h1.7v1.7h-1.7zM67.4 262.7h1.7v1.7h-1.7zM69.0 262.7h1.7v1.7h-1.7zM69.8 262.7h1.7v1.7h-1.7zM70.6 262.7h1.7v1.7h-1.7zM71.7 262.7h1.7v1.7h-1.7zM73.0 262.7h1.7v1.7h-1.7zM65.2 262.7h1.7v1.7h-1.7zM68.0 263.9h1.7v1.7h-1.7zM68.3 263.9h1.7v1.7h-1.7zM69.8 263.9h1.7v1.7h-1.7zM70.6 263.9h1.7v1.7h-1.7zM71.8 263.9h1.7v1.7h-1.7zM72.9 263.9h1.7v1.7h-1.7zM69.2 265.0h1.7v1.7h-1.7zM69.7 265.0h1.7v1.7h-1.7zM70.7 265.0h1.7v1.7h-1.7zM71.9 265.0h1.7v1.7h-1.7zM66.6 265.0h1.7v1.7h-1.7zM72.8 265.0h1.7v1.7h-1.7zM68.6 266.2h1.7v1.7h-1.7zM69.8 266.2h1.7v1.7h-1.7zM70.9 266.2h1.7v1.7h-1.7zM69.0 267.4h1.7v1.7h-1.7zM69.6 267.4h1.7v1.7h-1.7zM71.0 267.4h1.7v1.7h-1.7zM68.0 267.4h1.7v1.7h-1.7zM72.0 267.4h1.7v1.7h-1.7zM68.8 268.5h1.7v1.7h-1.7zM69.9 268.5h1.7v1.7h-1.7zM72.1 268.5h1.7v1.7h-1.7zM68.5 269.7h1.7v1.7h-1.7zM69.6 269.7h1.7v1.7h-1.7zM71.0 269.7h1.7v1.7h-1.7zM68.8 270.9h1.7v1.7h-1.7zM69.6 270.9h1.7v1.7h-1.7zM71.2 270.9h1.7v1.7h-1.7zM67.7 270.9h1.7v1.7h-1.7zM69.9 272.0h1.7v1.7h-1.7zM68.2 272.0h1.7v1.7h-1.7zM71.6 272.0h1.7v1.7h-1.7zM69.7 273.2h1.7v1.7h-1.7zM69.8 274.4h1.7v1.7h-1.7zM69.9 275.5h1.7v1.7h-1.7zM70.0 276.7h1.7v1.7h-1.7zM69.7 277.9h1.7v1.7h-1.7zM69.7 279.0h1.7v1.7h-1.7zM69.8 280.2h1.7v1.7h-1.7zM69.8 284.6h1.7v1.7h-1.7zM69.8 285.6h1.7v1.7h-1.7zM69.8 297.3h1.7v1.7h-1.7z"/>
<path fill="#ff0000" d="M120.0 213.7h1.6v1.6h-1.6zM119.8 214.9h1.6v1.6h-1.6zM119.6 216.1h1.6v1.6h-1.6zM119.9 218.4h1.6v1.6h-1.6zM119.6 219.6h1.6v1.6h-1.6zM119.7 220.7h1.6v1.6h-1.6zM119.9 223.1h1.6v1.6h-1.6zM119.7 224.2h1.6v1.6h-1.6zM118.3 225.4h1.6v1.6h-1.6zM119.8 225.4h1.6v1.6h-1.6zM121.0 225.4h1.6v1.6h-1.6zM121.8 225.4h1.6v1.6h-1.6zM118.7 226.6h1.6v1.6h-1.6zM120.0 226.6h1.6v1.6h-1.6zM120.7 226.6h1.6v1.6h-1.6zM118.1 227.7h1.6v1.6h-1.6zM118.7 227.7h1.6v1.6h-1.6zM119.6 227.7h1.6v1.6h-1.6zM120.8 227.7h1.6v1.6h-1.6zM121.6 227.7h1.6v1.6h-1.6zM116.5 227.7h1.6v1.6h-1.6zM116.8 228.9h1.6v1.6h-1.6zM117.9 228.9h1.6v1.6h-1.6zM118.8 228.9h1.6v1.6h-1.6zM119.6 228.9h1.6v1.6h-1.6zM120.7 228.9h1.6v1.6h-1.6zM122.3 228.9h1.6v1.6h-1.6zM122.7 228.9h1.6v1.6h-1.6zM116.6 230.1h1.6v1.6h-1.6zM117.3 230.1h1.6v1.6h-1.6zM118.7 230.1h1.6v1.6h-1.6zM120.3 230.1h1.6v1.6h-1.6zM121.0 230.1h1.6v1.6h-1.6zM121.8 230.1h1.6v1.6h-1.6zM122.6 230.1h1.6v1.6h-1.6zM115.5 230.1h1.6v1.6h-1.6zM114.6 231.2h1.6v1.6h-1.6zM115.9 231.2h1.6v1.6h-1.6zM116.7 231.2h1.6v1.6h-1.6zM117.7 231.2h1.6v1.6h-1.6zM118.9 231.2h1.6v1.6h-1.6zM120.0 231.2h1.6v1.6h-1.6zM120.9 231.2h1.6v1.6h-1.6zM122.1 231.2h1.6v1.6h-1.6zM123.0 231.2h1.6v1.6h-1.6zM125.2 231.2h1.6v1.6h-1.6zM125.9 231.2h1.6v1.6h-1.6zM113.5 232.4h1.6v1.6h-1.6zM115.1 232.4h1.6v1.6h-1.6zM116.9 232.4h1.6v1.6h-1.6zM117.7 232.4h1.6v1.6h-1.6zM119.0 232.4h1.6v1.6h-1.6zM120.0 232.4h1.6v1.6h-1.6zM121.4 232.4h1.6v1.6h-1.6zM124.2 232.4h1.6v1.6h-1.6zM125.0 232.4h1.6v1.6h-1.6zM127.3 232.4h1.6v1.6h-1.6zM111.3 233.6h1.6v1.6h-1.6zM112.4 233.6h1.6v1.6h-1.6zM113.6 233.6h1.6v1.6h-1.6zM114.6 233.6h1.6v1.6h-1.6zM115.5 233.6h1.6v1.6h-1.6zM116.6 233.6h1.6v1.6h-1.6zM117.7 233.6h1.6v1.6h-1.6zM118.7 233.6h1.6v1.6h-1.6zM119.2 233.6h1.6v1.6h-1.6zM121.2 233.6h1.6v1.6h-1.6zM121.8 233.6h1.6v1.6h-1.6zM123.2 233.6h1.6v1.6h-1.6zM124.1 233.6h1.6v1.6h-1.6zM125.3 233.6h1.6v1.6h-1.6zM125.8 233.6h1.6v1.6h-1.6zM127.1 233.6h1.6v1.6h-1.6zM128.3 233.6h1.6v1.6h-1.6zM128.7 233.6h1.6v1.6h-1.6zM110.4 234.7h1.6v1.6h-1.6zM112.5 234.7h1.6v1.6h-1.6zM113.4 234.7h1.6v1.6h-1.6zM114.8 234.7h1.6v1.6h-1.6zM115.7 234.7h1.6v1.6h-1.6zM116.5 234.7h1.6v1.6h-1.6zM118.0 234.7h1.6v1.6h-1.6zM119.0 234.7h1.6v1.6h-1.6zM119.7 234.7h1.6v1.6h-1.6zM120.6 234.7h1.6v1.6h-1.6zM121.9 234.7h1.6v1.6h-1.6zM122.8 234.7h1.6v1.6h-1.6zM123.8 234.7h1.6v1.6h-1.6zM125.0 234.7h1.6v1.6h-1.6zM126.2 234.7h1.6v1.6h-1.6zM127.4 234.7h1.6v1.6h-1.6zM128.2 234.7h1.6v1.6h-1.6zM109.9 234.7h1.6v1.6h-1.6zM130.0 234.7h1.6v1.6h-1.6zM108.1 235.9h1.6v1.6h-1.6zM109.6 235.9h1.6v1.6h-1.6zM110.3 235.9h1.6v1.6h-1.6zM111.3 235.9h1.6v1.6h-1.6zM112.2 235.9h1.6v1.6h-1.6zM114.7 235.9h1.6v1.6h-1.6zM115.7 235.9h1.6v1.6h-1.6zM116.6 235.9h1.6v1.6h-1.6zM117.7 235.9h1.6v1.6h-1.6zM118.9 235.9h1.6v1.6h-1.6zM119.8 235.9h1.6v1.6h-1.6zM120.7 235.9h1.6v1.6h-1.6zM121.9 235.9h1.6v1.6h-1.6zM123.0 235.9h1.6v1.6h-1.6zM124.1 235.9h1.6v1.6h-1.6zM124.9 235.9h1.6v1.6h-1.6zM125.9 235.9h1.6v1.6h-1.6zM127.1 235.9h1.6v1.6h-1.6zM127.9 235.9h1.6v1.6h-1.6zM129.1 235.9h1.6v1.6h-1.6zM131.4 235.9h1.6v1.6h-1.6zM107.6 235.9h1.6v1.6h-1.6zM132.5 235.9h1.6v1.6h-1.6zM109.2 237.1h1.6v1.6h-1.6zM110.3 237.1h1.6v1.6h-1.6zM111.6 237.1h1.6v1.6h-1.6zM113.0 237.1h1.6v1.6h-1.6zM113.8 237.1h1.6v1.6h-1.6zM114.5 237.1h1.6v1.6h-1.6zM115.2 237.1h1.6v1.6h-1.6zM116.6 237.1h1.6v1.6h-1.6zM119.0 237.1h1.6v1.6h-1.6zM119.9 237.1h1.6v1.6h-1.6zM120.6 237.1h1.6v1.6h-1.6zM121.9 237.1h1.6v1.6h-1.6zM123.1 237.1h1.6v1.6h-1.6zM124.0 237.1h1.6v1.6h-1.6zM124.8 237.1h1.6v1.6h-1.6zM126.2 237.1h1.6v1.6h-1.6zM127.0 237.1h1.6v1.6h-1.6zM128.0 237.1h1.6v1.6h-1.6zM129.3 237.1h1.6v1.6h-1.6zM130.3 237.1h1.6v1.6h-1.6zM131.4 237.1h1.6v1.6h-1.6zM132.1 237.1h1.6v1.6h-1.6zM106.7 237.1h1.6v1.6h-1.6zM133.1 237.1h1.6v1.6h-1.6zM107.4 238.2h1.6v1.6h-1.6zM108.1 238.2h1.6v1.6h-1.6zM109.6 238.2h1.6v1.6h-1.6zM110.5 238.2h1.6v1.6h-1.6zM111.6 238.2h1.6v1.6h-1.6zM112.5 238.2h1.6v1.6h-1.6zM113.8 238.2h1.6v1.6h-1.6zM114.7 238.2h1.6v1.6h-1.6zM115.9 238.2h1.6v1.6h-1.6zM116.6 238.2h1.6v1.6h-1.6zM117.4 238.2h1.6v1.6h-1.6zM118.7 238.2h1.6v1.6h-1.6zM119.9 238.2h1.6v1.6h-1.6zM120.7 238.2h1.6v1.6h-1.6zM121.6 238.2h1.6v1.6h-1.6zM122.9 238.2h1.6v1.6h-1.6zM124.1 238.2h1.6v1.6h-1.6zM125.0 238.2h1.6v1.6h-1.6zM125.8 238.2h1.6v1.6h-1.6zM126.7 238.2h1.6v1.6h-1.6zM128.3 238.2h1.6v1.6h-1.6zM128.9 238.2h1.6v1.6h-1.6zM130.2 238.2h1.6v1.6h-1.6zM131.3 238.2h1.6v1.6h-1.6zM132.0 238.2h1.6v1.6h-1.6zM109.6 239.4h1.6v1.6h-1.6zM110.8 239.4h1.6v1.6h-1.6zM111.4 239.4h1.6v1.6h-1.6zM112.5 239.4h1.6v1.6h-1.6zM113.6 239.4h1.6v1.6h-1.6zM114.1 239.4h1.6v1.6h-1.6zM116.0 239.4h1.6v1.6h-1.6zM116.9 239.4h1.6v1.6h-1.6zM118.8 239.4h1.6v1.6h-1.6zM119.9 239.4h1.6v1.6h-1.6zM120.6 239.4h1.6v1.6h-1.6zM121.6 239.4h1.6v1.6h-1.6zM122.8 239.4h1.6v1.6h-1.6zM125.0 239.4h1.6v1.6h-1.6zM125.8 239.4h1.6v1.6h-1.6zM126.9 239.4h1.6v1.6h-1.6zM129.0 239.4h1.6v1.6h-1.6zM130.5 239.4h1.6v1.6h-1.6zM131.5 239.4h1.6v1.6h-1.6zM104.9 240.6h1.6v1.6h-1.6zM106.2 240.6h1.6v1.6h-1.6zM107.1 240.6h1.6v1.6h-1.6zM108.2 240.6h1.6v1.6h-1.6zM109.3 240.6h1.6v1.6h-1.6zM110.2 240.6h1.6v1.6h-1.6zM111.5 240.6h1.6v1.6h-1.6zM112.5 240.6h1.6v1.6h-1.6zM113.3 240.6h1.6v1.6h-1.6zM114.4 240.6h1.6v1.6h-1.6zM115.7 240.6h1.6v1.6h-1.6zM116.9 240.6h1.6v1.6h-1.6zM117.8 240.6h1.6v1.6h-1.6zM118.5 240.6h1.6v1.6h-1.6zM120.2 240.6h1.6v1.6h-1.6zM120.9 240.6h1.6v1.6h-1.6zM121.9 240.6h1.6v1.6h-1.6zM122.8 240.6h1.6v1.6h-1.6zM124.1 240.6h1.6v1.6h-1.6zM125.3 240.6h1.6v1.6h-1.6zM126.2 240.6h1.6v1.6h-1.6zM127.5 240.6h1.6v1.6h-1.6zM127.7 240.6h1.6v1.6h-1.6zM129.1 240.6h1.6v1.6h-1.6zM130.4 240.6h1.6v1.6h-1.6zM131.3 240.6h1.6v1.6h-1.6zM132.0 240.6h1.6v1.6h-1.6zM133.3 240.6h1.6v1.6h-1.6zM134.3 240.6h1.6v1.6h-1.6zM104.5 240.6h1.6v1.6h-1.6zM106.5 241.7h1.6v1.6h-1.6zM107.1 241.7h1.6v1.6h-1.6zM108.3 241.7h1.6v1.6h-1.6zM109.6 241.7h1.6v1.6h-1.6zM110.7 241.7h1.6v1.6h-1.6zM111.4 241.7h1.6v1.6h-1.6zM112.5 241.7h1.6v1.6h-1.6zM113.4 241.7h1.6v1.6h-1.6zM114.5 241.7h1.6v1.6h-1.6zM116.9 241.7h1.6v1.6h-1.6zM117.9 241.7h1.6v1.6h-1.6zM118.6 241.7h1.6v1.6h-1.6zM119.8 241.7h1.6v1.6h-1.6zM121.1 241.7h1.6v1.6h-1.6zM122.2 241.7h1.6v1.6h-1.6zM122.8 241.7h1.6v1.6h-1.6zM123.8 241.7h1.6v1.6h-1.6zM124.8 241.7h1.6v1.6h-1.6zM126.1 241.7h1.6v1.6h-1.6zM127.0 241.7h1.6v1.6h-1.6zM128.3 241.7h1.6v1.6h-1.6zM129.1 241.7h1.6v1.6h-1.6zM130.1 241.7h1.6v1.6h-1.6zM132.6 241.7h1.6v1.6h-1.6zM133.4 241.7h1.6v1.6h-1.6zM104.9 241.7h1.6v1.6h-1.6zM105.1 242.9h1.6v1.6h-1.6zM107.6 242.9h1.6v1.6h-1.6zM107.9 242.9h1.6v1.6h-1.6zM109.8 242.9h1.6v1.6h-1.6zM110.5 242.9h1.6v1.6h-1.6zM111.4 242.9h1.6v1.6h-1.6zM112.6 242.9h1.6v1.6h-1.6zM114.6 242.9h1.6v1.6h-1.6zM115.7 242.9h1.6v1.6h-1.6zM116.7 242.9h1.6v1.6h-1.6zM117.4 242.9h1.6v1.6h-1.6zM118.9 242.9h1.6v1.6h-1.6zM119.4 242.9h1.6v1.6h-1.6zM120.9 242.9h1.6v1.6h-1.6zM122.0 242.9h1.6v1.6h-1.6zM123.1 242.9h1.6v1.6h-1.6zM123.7 242.9h1.6v1.6h-1.6zM124.8 242.9h1.6v1.6h-1.6zM126.0 242.9h1.6v1.6h-1.6zM126.9 242.9h1.6v1.6h-1.6zM128.0 242.9h1.6v1.6h-1.6zM129.1 242.9h1.6v1.6h-1.6zM130.5 242.9h1.6v1.6h-1.6zM131.4 242.9h1.6v1.6h-1.6zM132.0 242.9h1.6v1.6h-1.6zM133.3 242.9h1.6v1.6h-1.6zM135.0 242.9h1.6v1.6h-1.6zM105.0 244.1h1.6v1.6h-1.6zM105.8 244.1h1.6v1.6h-1.6zM107.2 244.1h1.6v1.6h-1.6zM108.4 244.1h1.6v1.6h-1.6zM109.6 244.1h1.6v1.6h-1.6zM110.9 244.1h1.6v1.6h-1.6zM111.6 244.1h1.6v1.6h-1.6zM112.8 244.1h1.6v1.6h-1.6zM113.3 244.1h1.6v1.6h-1.6zM114.1 244.1h1.6v1.6h-1.6zM115.6 244.1h1.6v1.6h-1.6zM116.6 244.1h1.6v1.6h-1.6zM117.6 244.1h1.6v1.6h-1.6zM118.7 244.1h1.6v1.6h-1.6zM119.5 244.1h1.6v1.6h-1.6zM120.5 244.1h1.6v1.6h-1.6zM121.9 244.1h1.6v1.6h-1.6zM122.8 244.1h1.6v1.6h-1.6zM124.1 244.1h1.6v1.6h-1.6zM125.0 244.1h1.6v1.6h-1.6zM125.7 244.1h1.6v1.6h-1.6zM127.4 244.1h1.6v1.6h-1.6zM128.4 244.1h1.6v1.6h-1.6zM129.1 244.1h1.6v1.6h-1.6zM130.0 244.1h1.6v1.6h-1.6zM131.3 244.1h1.6v1.6h-1.6zM132.6 244.1h1.6v1.6h-1.6zM134.1 244.1h1.6v1.6h-1.6zM134.7 244.1h1.6v1.6h-1.6zM108.2 245.2h1.6v1.6h-1.6zM109.6 245.2h1.6v1.6h-1.6zM110.6 245.2h1.6v1.6h-1.6zM111.4 245.2h1.6v1.6h-1.6zM112.5 245.2h1.6v1.6h-1.6zM113.6 245.2h1.6v1.6h-1.6zM114.8 245.2h1.6v1.6h-1.6zM116.1 245.2h1.6v1.6h-1.6zM116.6 245.2h1.6v1.6h-1.6zM117.6 245.2h1.6v1.6h-1.6zM118.8 245.2h1.6v1.6h-1.6zM119.7 245.2h1.6v1.6h-1.6zM122.0 245.2h1.6v1.6h-1.6zM123.2 245.2h1.6v1.6h-1.6zM124.0 245.2h1.6v1.6h-1.6zM124.8 245.2h1.6v1.6h-1.6zM126.3 245.2h1.6v1.6h-1.6zM126.8 245.2h1.6v1.6h-1.6zM128.3 245.2h1.6v1.6h-1.6zM129.4 245.2h1.6v1.6h-1.6zM129.9 245.2h1.6v1.6h-1.6zM131.0 245.2h1.6v1.6h-1.6zM132.3 245.2h1.6v1.6h-1.6zM133.3 245.2h1.6v1.6h-1.6zM107.6 246.4h1.6v1.6h-1.6zM108.4 246.4h1.6v1.6h-1.6zM109.1 246.4h1.6v1.6h-1.6zM110.3 246.4h1.6v1.6h-1.6zM111.7 246.4h1.6v1.6h-1.6zM112.6 246.4h1.6v1.6h-1.6zM113.9 246.4h1.6v1.6h-1.6zM114.5 246.4h1.6v1.6h-1.6zM116.7 246.4h1.6v1.6h-1.6zM117.9 246.4h1.6v1.6h-1.6zM118.7 246.4h1.6v1.6h-1.6zM119.8 246.4h1.6v1.6h-1.6zM120.9 246.4h1.6v1.6h-1.6zM121.7 246.4h1.6v1.6h-1.6zM123.4 246.4h1.6v1.6h-1.6zM125.0 246.4h1.6v1.6h-1.6zM126.2 246.4h1.6v1.6h-1.6zM127.3 246.4h1.6v1.6h-1.6zM129.3 246.4h1.6v1.6h-1.6zM129.9 246.4h1.6v1.6h-1.6zM132.0 246.4h1.6v1.6h-1.6zM107.0 247.6h1.6v1.6h-1.6zM108.2 247.6h1.6v1.6h-1.6zM110.1 247.6h1.6v1.6h-1.6zM111.2 247.6h1.6v1.6h-1.6zM112.3 247.6h1.6v1.6h-1.6zM113.7 247.6h1.6v1.6h-1.6zM114.8 247.6h1.6v1.6h-1.6zM115.5 247.6h1.6v1.6h-1.6zM117.3 247.6h1.6v1.6h-1.6zM118.7 247.6h1.6v1.6h-1.6zM119.8 247.6h1.6v1.6h-1.6zM121.7 247.6h1.6v1.6h-1.6zM123.1 247.6h1.6v1.6h-1.6zM123.6 247.6h1.6v1.6h-1.6zM124.9 247.6h1.6v1.6h-1.6zM126.2 247.6h1.6v1.6h-1.6zM127.0 247.6h1.6v1.6h-1.6zM128.0 247.6h1.6v1.6h-1.6zM129.5 247.6h1.6v1.6h-1.6zM131.3 247.6h1.6v1.6h-1.6zM132.3 247.6h1.6v1.6h-1.6zM106.0 247.6h1.6v1.6h-1.6zM133.7 247.6h1.6v1.6h-1.6zM107.4 248.7h1.6v1.6h-1.6zM108.7 248.7h1.6v1.6h-1.6zM109.8 248.7h1.6v1.6h-1.6zM110.3 248.7h1.6v1.6h-1.6zM111.5 248.7h1.6v1.6h-1.6zM112.4 248.7h1.6v1.6h-1.6zM113.8 248.7h1.6v1.6h-1.6zM114.6 248.7h1.6v1.6h-1.6zM115.6 248.7h1.6v1.6h-1.6zM116.7 248.7h1.6v1.6h-1.6zM117.6 248.7h1.6v1.6h-1.6zM118.7 248.7h1.6v1.6h-1.6zM119.9 248.7h1.6v1.6h-1.6zM120.9 248.7h1.6v1.6h-1.6zM121.8 248.7h1.6v1.6h-1.6zM122.8 248.7h1.6v1.6h-1.6zM123.6 248.7h1.6v1.6h-1.6zM124.6 248.7h1.6v1.6h-1.6zM126.2 248.7h1.6v1.6h-1.6zM127.3 248.7h1.6v1.6h-1.6zM128.0 248.7h1.6v1.6h-1.6zM129.1 248.7h1.6v1.6h-1.6zM130.1 248.7h1.6v1.6h-1.6zM131.4 248.7h1.6v1.6h-1.6zM132.3 248.7h1.6v1.6h-1.6zM106.1 248.7h1.6v1.6h-1.6zM133.3 248.7h1.6v1.6h-1.6zM110.5 249.9h1.6v1.6h-1.6zM111.2 249.9h1.6v1.6h-1.6zM112.6 249.9h1.6v1.6h-1.6zM113.6 249.9h1.6v1.6h-1.6zM115.0 249.9h1.6v1.6h-1.6zM115.8 249.9h1.6v1.6h-1.6zM116.4 249.9h1.6v1.6h-1.6zM117.9 249.9h1.6v1.6h-1.6zM118.6 249.9h1.6v1.6h-1.6zM119.9 249.9h1.6v1.6h-1.6zM121.2 249.9h1.6v1.6h-1.6zM121.7 249.9h1.6v1.6h-1.6zM122.8 249.9h1.6v1.6h-1.6zM125.0 249.9h1.6v1.6h-1.6zM126.2 249.9h1.6v1.6h-1.6zM126.9 249.9h1.6v1.6h-1.6zM128.2 249.9h1.6v1.6h-1.6zM110.2 251.1h1.6v1.6h-1.6zM112.3 251.1h1.6v1.6h-1.6zM113.2 251.1h1.6v1.6h-1.6zM114.4 251.1h1.6v1.6h-1.6zM115.6 251.1h1.6v1.6h-1.6zM116.4 251.1h1.6v1.6h-1.6zM118.0 251.1h1.6v1.6h-1.6zM118.9 251.1h1.6v1.6h-1.6zM119.6 251.1h1.6v1.6h-1.6zM120.8 251.1h1.6v1.6h-1.6zM122.3 251.1h1.6v1.6h-1.6zM122.8 251.1h1.6v1.6h-1.6zM123.7 251.1h1.6v1.6h-1.6zM125.3 251.1h1.6v1.6h-1.6zM125.6 251.1h1.6v1.6h-1.6zM127.5 251.1h1.6v1.6h-1.6zM128.2 251.1h1.6v1.6h-1.6zM130.0 251.1h1.6v1.6h-1.6zM108.0 251.1h1.6v1.6h-1.6zM109.6 252.2h1.6v1.6h-1.6zM110.2 252.2h1.6v1.6h-1.6zM111.6 252.2h1.6v1.6h-1.6zM112.4 252.2h1.6v1.6h-1.6zM113.8 252.2h1.6v1.6h-1.6zM114.6 252.2h1.6v1.6h-1.6zM115.7 252.2h1.6v1.6h-1.6zM117.9 252.2h1.6v1.6h-1.6zM118.9 252.2h1.6v1.6h-1.6zM119.6 252.2h1.6v1.6h-1.6zM120.6 252.2h1.6v1.6h-1.6zM122.1 252.2h1.6v1.6h-1.6zM122.9 252.2h1.6v1.6h-1.6zM124.1 252.2h1.6v1.6h-1.6zM125.1 252.2h1.6v1.6h-1.6zM126.0 252.2h1.6v1.6h-1.6zM127.0 252.2h1.6v1.6h-1.6zM128.3 252.2h1.6v1.6h-1.6zM130.0 252.2h1.6v1.6h-1.6zM112.0 253.4h1.6v1.6h-1.6zM112.5 253.4h1.6v1.6h-1.6zM113.2 253.4h1.6v1.6h-1.6zM114.6 253.4h1.6v1.6h-1.6zM115.2 253.4h1.6v1.6h-1.6zM118.0 253.4h1.6v1.6h-1.6zM118.9 253.4h1.6v1.6h-1.6zM120.1 253.4h1.6v1.6h-1.6zM121.1 253.4h1.6v1.6h-1.6zM122.8 253.4h1.6v1.6h-1.6zM125.0 253.4h1.6v1.6h-1.6zM126.1 253.4h1.6v1.6h-1.6zM127.3 253.4h1.6v1.6h-1.6zM128.3 253.4h1.6v1.6h-1.6zM110.3 253.4h1.6v1.6h-1.6zM112.7 254.6h1.6v1.6h-1.6zM114.9 254.6h1.6v1.6h-1.6zM115.9 254.6h1.6v1.6h-1.6zM116.9 254.6h1.6v1.6h-1.6zM117.3 254.6h1.6v1.6h-1.6zM118.6 254.6h1.6v1.6h-1.6zM119.7 254.6h1.6v1.6h-1.6zM120.8 254.6h1.6v1.6h-1.6zM122.1 254.6h1.6v1.6h-1.6zM123.0 254.6h1.6v1.6h-1.6zM123.8 254.6h1.6v1.6h-1.6zM124.8 254.6h1.6v1.6h-1.6zM125.9 254.6h1.6v1.6h-1.6zM127.1 254.6h1.6v1.6h-1.6zM127.9 254.6h1.6v1.6h-1.6zM110.3 255.7h1.6v1.6h-1.6zM111.6 255.7h1.6v1.6h-1.6zM111.7 255.7h1.6v1.6h-1.6zM113.3 255.7h1.6v1.6h-1.6zM115.0 255.7h1.6v1.6h-1.6zM115.6 255.7h1.6v1.6h-1.6zM117.0 255.7h1.6v1.6h-1.6zM117.9 255.7h1.6v1.6h-1.6zM118.9 255.7h1.6v1.6h-1.6zM121.0 255.7h1.6v1.6h-1.6zM121.8 255.7h1.6v1.6h-1.6zM122.8 255.7h1.6v1.6h-1.6zM123.8 255.7h1.6v1.6h-1.6zM125.3 255.7h1.6v1.6h-1.6zM126.1 255.7h1.6v1.6h-1.6zM127.2 255.7h1.6v1.6h-1.6zM128.1 255.7h1.6v1.6h-1.6zM129.4 255.7h1.6v1.6h-1.6zM129.9 255.7h1.6v1.6h-1.6zM112.2 256.9h1.6v1.6h-1.6zM113.5 256.9h1.6v1.6h-1.6zM115.8 256.9h1.6v1.6h-1.6zM116.6 256.9h1.6v1.6h-1.6zM117.6 256.9h1.6v1.6h-1.6zM118.9 256.9h1.6v1.6h-1.6zM119.9 256.9h1.6v1.6h-1.6zM120.5 256.9h1.6v1.6h-1.6zM121.9 256.9h1.6v1.6h-1.6zM122.8 256.9h1.6v1.6h-1.6zM124.2 256.9h1.6v1.6h-1.6zM125.2 256.9h1.6v1.6h-1.6zM126.1 256.9h1.6v1.6h-1.6zM127.1 256.9h1.6v1.6h-1.6zM114.3 258.1h1.6v1.6h-1.6zM115.7 258.1h1.6v1.6h-1.6zM116.6 258.1h1.6v1.6h-1.6zM117.7 258.1h1.6v1.6h-1.6zM118.3 258.1h1.6v1.6h-1.6zM120.1 258.1h1.6v1.6h-1.6zM120.6 258.1h1.6v1.6h-1.6zM121.7 258.1h1.6v1.6h-1.6zM122.8 258.1h1.6v1.6h-1.6zM123.7 258.1h1.6v1.6h-1.6zM124.7 258.1h1.6v1.6h-1.6zM126.4 258.1h1.6v1.6h-1.6zM112.2 258.1h1.6v1.6h-1.6zM114.8 259.2h1.6v1.6h-1.6zM115.9 259.2h1.6v1.6h-1.6zM116.7 259.2h1.6v1.6h-1.6zM117.8 259.2h1.6v1.6h-1.6zM118.5 259.2h1.6v1.6h-1.6zM119.8 259.2h1.6v1.6h-1.6zM120.9 259.2h1.6v1.6h-1.6zM121.8 259.2h1.6v1.6h-1.6zM122.9 259.2h1.6v1.6h-1.6zM123.7 259.2h1.6v1.6h-1.6zM124.8 259.2h1.6v1.6h-1.6zM114.6 260.4h1.6v1.6h-1.6zM115.5 260.4h1.6v1.6h-1.6zM117.0 260.4h1.6v1.6h-1.6zM117.8 260.4h1.6v1.6h-1.6zM119.8 260.4h1.6v1.6h-1.6zM120.7 260.4h1.6v1.6h-1.6zM122.0 260.4h1.6v1.6h-1.6zM123.2 260.4h1.6v1.6h-1.6zM124.1 260.4h1.6v1.6h-1.6zM125.2 260.4h1.6v1.6h-1.6zM125.8 260.4h1.6v1.6h-1.6zM113.0 260.4h1.6v1.6h-1.6zM126.7 260.4h1.6v1.6h-1.6zM113.4 261.6h1.6v1.6h-1.6zM114.5 261.6h1.6v1.6h-1.6zM116.0 261.6h1.6v1.6h-1.6zM116.5 261.6h1.6v1.6h-1.6zM117.8 261.6h1.6v1.6h-1.6zM119.1 261.6h1.6v1.6h-1.6zM119.4 261.6h1.6v1.6h-1.6zM121.0 261.6h1.6v1.6h-1.6zM123.2 261.6h1.6v1.6h-1.6zM124.2 261.6h1.6v1.6h-1.6zM125.3 261.6h1.6v1.6h-1.6zM112.4 261.6h1.6v1.6h-1.6zM126.5 261.6h1.6v1.6h-1.6zM114.7 262.8h1.6v1.6h-1.6zM115.6 262.8h1.6v1.6h-1.6zM116.8 262.8h1.6v1.6h-1.6zM118.8 262.8h1.6v1.6h-1.6zM119.7 262.8h1.6v1.6h-1.6zM120.8 262.8h1.6v1.6h-1.6zM122.1 262.8h1.6v1.6h-1.6zM123.0 262.8h1.6v1.6h-1.6zM124.2 262.8h1.6v1.6h-1.6zM124.6 262.8h1.6v1.6h-1.6zM125.7 262.8h1.6v1.6h-1.6zM114.6 263.9h1.6v1.6h-1.6zM115.6 263.9h1.6v1.6h-1.6zM116.6 263.9h1.6v1.6h-1.6zM117.8 263.9h1.6v1.6h-1.6zM118.9 263.9h1.6v1.6h-1.6zM119.7 263.9h1.6v1.6h-1.6zM120.9 263.9h1.6v1.6h-1.6zM121.8 263.9h1.6v1.6h-1.6zM122.9 263.9h1.6v1.6h-1.6zM124.1 263.9h1.6v1.6h-1.6zM125.1 263.9h1.6v1.6h-1.6zM114.0 263.9h1.6v1.6h-1.6zM115.7 265.1h1.6v1.6h-1.6zM116.2 265.1h1.6v1.6h-1.6zM117.5 265.1h1.6v1.6h-1.6zM118.9 265.1h1.6v1.6h-1.6zM119.7 265.1h1.6v1.6h-1.6zM120.9 265.1h1.6v1.6h-1.6zM121.7 265.1h1.6v1.6h-1.6zM123.2 265.1h1.6v1.6h-1.6zM124.1 265.1h1.6v1.6h-1.6zM125.0 265.1h1.6v1.6h-1.6zM115.6 266.3h1.6v1.6h-1.6zM116.7 266.3h1.6v1.6h-1.6zM117.8 266.3h1.6v1.6h-1.6zM118.5 266.3h1.6v1.6h-1.6zM119.7 266.3h1.6v1.6h-1.6zM120.7 266.3h1.6v1.6h-1.6zM121.7 266.3h1.6v1.6h-1.6zM123.3 266.3h1.6v1.6h-1.6zM123.7 266.3h1.6v1.6h-1.6zM115.4 266.3h1.6v1.6h-1.6zM124.4 266.3h1.6v1.6h-1.6zM117.1 267.4h1.6v1.6h-1.6zM117.6 267.4h1.6v1.6h-1.6zM118.9 267.4h1.6v1.6h-1.6zM119.8 267.4h1.6v1.6h-1.6zM120.9 267.4h1.6v1.6h-1.6zM121.7 267.4h1.6v1.6h-1.6zM115.3 267.4h1.6v1.6h-1.6zM116.5 268.6h1.6v1.6h-1.6zM117.8 268.6h1.6v1.6h-1.6zM118.7 268.6h1.6v1.6h-1.6zM120.1 268.6h1.6v1.6h-1.6zM120.9 268.6h1.6v1.6h-1.6zM122.2 268.6h1.6v1.6h-1.6zM122.9 268.6h1.6v1.6h-1.6zM117.7 269.8h1.6v1.6h-1.6zM119.8 269.8h1.6v1.6h-1.6zM120.9 269.8h1.6v1.6h-1.6zM121.9 269.8h1.6v1.6h-1.6zM116.3 269.8h1.6v1.6h-1.6zM123.3 269.8h1.6v1.6h-1.6zM117.9 270.9h1.6v1.6h-1.6zM118.5 270.9h1.6v1.6h-1.6zM119.8 270.9h1.6v1.6h-1.6zM120.6 270.9h1.6v1.6h-1.6zM122.8 270.9h1.6v1.6h-1.6zM118.5 272.1h1.6v1.6h-1.6zM119.7 272.1h1.6v1.6h-1.6zM121.0 272.1h1.6v1.6h-1.6zM117.0 272.1h1.6v1.6h-1.6zM121.8 272.1h1.6v1.6h-1.6zM120.0 273.3h1.6v1.6h-1.6zM121.2 273.3h1.6v1.6h-1.6zM119.8 274.4h1.6v1.6h-1.6zM121.5 274.4h1.6v1.6h-1.6zM119.8 276.8h1.6v1.6h-1.6zM119.7 277.9h1.6v1.6h-1.6zM119.7 279.1h1.6v1.6h-1.6zM119.8 280.3h1.6v1.6h-1.6zM120.0 281.4h1.6v1.6h-1.6zM119.8 282.6h1.6v1.6h-1.6zM119.9 283.8h1.6v1.6h-1.6zM119.9 284.9h1.6v1.6h-1.6zM119.9 286.1h1.6v1.6h-1.6zM120.0 287.3h1.6v1.6h-1.6zM119.8 292.2h1.6v1.6h-1.6zM119.8 293.7h1.6v1.6h-1.6zM119.8 295.2h1.6v1.6h-1.6z"/>
<line x1="50.00" y1="247.20" x2="91.20" y2="247.20" stroke="#111" stroke-width="1.4"/>
<line x1="62.50" y1="240.60" x2="78.70" y2="240.60" stroke="#111" stroke-width="1.4"/>
<line x1="62.50" y1="254.80" x2="78.70" y2="254.80" stroke="#111" stroke-width="1.4"/>
<line x1="70.60" y1="240.60" x2="70.60" y2="254.80" stroke="#111" stroke-width="1.4"/>
<line x1="99.90" y1="246.80" x2="141.30" y2="246.80" stroke="#111" stroke-width="1.4"/>
<line x1="112.50" y1="239.80" x2="128.70" y2="239.80" stroke="#111" stroke-width="1.4"/>
<line x1="112.50" y1="256.00" x2="128.70" y2="256.00" stroke="#111" stroke-width="1.4"/>
<line x1="120.60" y1="239.80" x2="120.60" y2="256.00" stroke="#111" stroke-width="1.4"/>
<polyline points="70.70,210.60 70.70,205.80 120.70,205.80 120.70,210.60" fill="none" stroke="#222" stroke-width="1.2"/>
<text x="95.60" y="201.80" font-size="8.6" font-weight="normal" fill="#262626" text-anchor="middle" textLength="35.00" lengthAdjust="spacingAndGlyphs">p=0.8288</text>
<text x="175.80" y="8.30" font-size="10.7" font-weight="bold" fill="#111" text-anchor="start" textLength="6.60" lengthAdjust="spacingAndGlyphs" stroke="#111" stroke-width="0.3">B</text>
<line x1="210.70" y1="15.30" x2="210.70" y2="131.50" stroke="#1a1a1a" stroke-width="1.3"/>
<line x1="205.80" y1="131.50" x2="210.70" y2="131.50" stroke="#1a1a1a" stroke-width="1.3"/>
<text x="204.20" y="134.50" font-size="9.7" font-weight="bold" fill="#111" text-anchor="end" textLength="3.70" lengthAdjust="spacingAndGlyphs">0</text>
<line x1="205.80" y1="108.26" x2="210.70" y2="108.26" stroke="#1a1a1a" stroke-width="1.3"/>
<text x="204.20" y="111.26" font-size="9.7" font-weight="bold" fill="#111" text-anchor="end" textLength="7.90" lengthAdjust="spacingAndGlyphs">20</text>
<line x1="205.80" y1="85.02" x2="210.70" y2="85.02" stroke="#1a1a1a" stroke-width="1.3"/>
<text x="204.20" y="88.02" font-size="9.7" font-weight="bold" fill="#111" text-anchor="end" textLength="7.90" lengthAdjust="spacingAndGlyphs">40</text>
<line x1="205.80" y1="61.78" x2="210.70" y2="61.78" stroke="#1a1a1a" stroke-width="1.3"/>
<text x="204.20" y="64.78" font-size="9.7" font-weight="bold" fill="#111" text-anchor="end" textLength="7.90" lengthAdjust="spacingAndGlyphs">60</text>
<line x1="205.80" y1="38.54" x2="210.70" y2="38.54" stroke="#1a1a1a" stroke-width="1.3"/>
<text x="204.20" y="41.54" font-size="9.7" font-weight="bold" fill="#111" text-anchor="end" textLength="7.90" lengthAdjust="spacingAndGlyphs">80</text>
<line x1="205.80" y1="15.30" x2="210.70" y2="15.30" stroke="#1a1a1a" stroke-width="1.3"/>
<text x="204.20" y="18.30" font-size="9.7" font-weight="bold" fill="#111" text-anchor="end" textLength="11.80" lengthAdjust="spacingAndGlyphs">100</text>
<line x1="205.80" y1="131.50" x2="385.20" y2="131.50" stroke="#1a1a1a" stroke-width="1.3"/>
<line x1="214.00" y1="131.50" x2="214.00" y2="136.50" stroke="#1a1a1a" stroke-width="1.3"/>
<text x="214.00" y="146.40" font-size="9.7" font-weight="bold" fill="#111" text-anchor="middle" textLength="3.90" lengthAdjust="spacingAndGlyphs">0</text>
<line x1="248.20" y1="131.50" x2="248.20" y2="136.50" stroke="#1a1a1a" stroke-width="1.3"/>
<text x="248.20" y="146.40" font-size="9.7" font-weight="bold" fill="#111" text-anchor="middle" textLength="8.10" lengthAdjust="spacingAndGlyphs">20</text>
<line x1="282.40" y1="131.50" x2="282.40" y2="136.50" stroke="#1a1a1a" stroke-width="1.3"/>
<text x="282.40" y="146.40" font-size="9.7" font-weight="bold" fill="#111" text-anchor="middle" textLength="8.10" lengthAdjust="spacingAndGlyphs">40</text>
<line x1="316.60" y1="131.50" x2="316.60" y2="136.50" stroke="#1a1a1a" stroke-width="1.3"/>
<text x="316.60" y="146.40" font-size="9.7" font-weight="bold" fill="#111" text-anchor="middle" textLength="8.10" lengthAdjust="spacingAndGlyphs">60</text>
<line x1="350.80" y1="131.50" x2="350.80" y2="136.50" stroke="#1a1a1a" stroke-width="1.3"/>
<text x="350.80" y="146.40" font-size="9.7" font-weight="bold" fill="#111" text-anchor="middle" textLength="8.10" lengthAdjust="spacingAndGlyphs">80</text>
<line x1="385.00" y1="131.50" x2="385.00" y2="136.50" stroke="#1a1a1a" stroke-width="1.3"/>
<text x="385.00" y="146.40" font-size="9.7" font-weight="bold" fill="#111" text-anchor="middle" textLength="12.20" lengthAdjust="spacingAndGlyphs">100</text>
<text x="249.70" y="161.90" font-size="10.3" font-weight="bold" fill="#111" text-anchor="start" textLength="97.00" lengthAdjust="spacingAndGlyphs">Cups of coffee per week</text>
<text x="0" y="0" font-size="10.0" font-weight="bold" fill="#111" stroke="#111" stroke-width="0.25" text-anchor="middle" textLength="17.5" lengthAdjust="spacingAndGlyphs" transform="translate(186.80,73.20) rotate(-90)">AAO</text>
<path fill="#1e1e1e" d="M213.3 97.1h1.4v1.4h-1.4zM213.3 95.9h1.4v1.4h-1.4zM213.3 94.8h1.4v1.4h-1.4zM213.3 93.6h1.4v1.4h-1.4zM213.3 92.5h1.4v1.4h-1.4zM213.3 91.3h1.4v1.4h-1.4zM213.3 90.1h1.4v1.4h-1.4zM213.3 89.0h1.4v1.4h-1.4zM213.3 87.8h1.4v1.4h-1.4zM213.3 86.6h1.4v1.4h-1.4zM213.3 85.5h1.4v1.4h-1.4zM213.3 84.3h1.4v1.4h-1.4zM213.3 83.2h1.4v1.4h-1.4zM213.3 82.0h1.4v1.4h-1.4zM213.3 80.8h1.4v1.4h-1.4zM213.3 79.7h1.4v1.4h-1.4zM213.3 78.5h1.4v1.4h-1.4zM213.3 77.3h1.4v1.4h-1.4zM213.3 76.2h1.4v1.4h-1.4zM213.3 75.0h1.4v1.4h-1.4zM213.3 73.9h1.4v1.4h-1.4zM213.3 72.7h1.4v1.4h-1.4zM213.3 71.5h1.4v1.4h-1.4zM213.3 70.4h1.4v1.4h-1.4zM213.3 69.2h1.4v1.4h-1.4zM213.3 68.1h1.4v1.4h-1.4zM213.3 66.9h1.4v1.4h-1.4zM213.3 65.7h1.4v1.4h-1.4zM213.3 64.6h1.4v1.4h-1.4zM213.3 63.4h1.4v1.4h-1.4zM213.3 62.2h1.4v1.4h-1.4zM213.3 61.1h1.4v1.4h-1.4zM213.3 59.9h1.4v1.4h-1.4zM213.3 58.8h1.4v1.4h-1.4zM213.3 57.6h1.4v1.4h-1.4zM213.3 56.4h1.4v1.4h-1.4zM213.3 55.3h1.4v1.4h-1.4zM213.3 54.1h1.4v1.4h-1.4zM213.3 52.9h1.4v1.4h-1.4zM213.3 51.8h1.4v1.4h-1.4zM213.3 50.6h1.4v1.4h-1.4zM213.3 49.5h1.4v1.4h-1.4zM213.3 48.3h1.4v1.4h-1.4zM213.3 47.1h1.4v1.4h-1.4zM213.3 46.0h1.4v1.4h-1.4zM213.3 44.8h1.4v1.4h-1.4zM213.3 43.7h1.4v1.4h-1.4zM213.3 42.5h1.4v1.4h-1.4zM213.3 41.3h1.4v1.4h-1.4zM213.3 40.2h1.4v1.4h-1.4zM213.3 39.0h1.4v1.4h-1.4zM213.3 37.8h1.4v1.4h-1.4zM213.3 36.7h1.4v1.4h-1.4zM213.3 35.5h1.4v1.4h-1.4zM213.3 34.4h1.4v1.4h-1.4zM213.3 33.2h1.4v1.4h-1.4zM213.3 32.0h1.4v1.4h-1.4zM213.3 30.9h1.4v1.4h-1.4zM213.3 29.7h1.4v1.4h-1.4zM213.3 28.5h1.4v1.4h-1.4zM213.3 27.4h1.4v1.4h-1.4zM213.3 26.2h1.4v1.4h-1.4zM215.0 80.8h1.4v1.4h-1.4zM215.0 77.3h1.4v1.4h-1.4zM215.0 75.0h1.4v1.4h-1.4zM215.0 73.9h1.4v1.4h-1.4zM215.0 72.7h1.4v1.4h-1.4zM215.0 71.5h1.4v1.4h-1.4zM215.0 70.4h1.4v1.4h-1.4zM215.0 69.2h1.4v1.4h-1.4zM215.0 66.9h1.4v1.4h-1.4zM215.0 65.7h1.4v1.4h-1.4zM215.0 64.6h1.4v1.4h-1.4zM215.0 63.4h1.4v1.4h-1.4zM215.0 62.2h1.4v1.4h-1.4zM215.0 61.1h1.4v1.4h-1.4zM215.0 59.9h1.4v1.4h-1.4zM215.0 58.8h1.4v1.4h-1.4zM215.0 57.6h1.4v1.4h-1.4zM215.0 56.4h1.4v1.4h-1.4zM215.0 55.3h1.4v1.4h-1.4zM215.0 52.9h1.4v1.4h-1.4zM215.0 51.8h1.4v1.4h-1.4zM215.0 50.6h1.4v1.4h-1.4zM215.0 49.5h1.4v1.4h-1.4zM215.0 48.3h1.4v1.4h-1.4zM215.0 47.1h1.4v1.4h-1.4zM215.0 46.0h1.4v1.4h-1.4zM215.0 44.8h1.4v1.4h-1.4zM215.0 42.5h1.4v1.4h-1.4zM215.0 41.3h1.4v1.4h-1.4zM215.0 37.8h1.4v1.4h-1.4zM216.7 94.8h1.4v1.4h-1.4zM216.7 90.1h1.4v1.4h-1.4zM216.7 89.0h1.4v1.4h-1.4zM216.7 84.3h1.4v1.4h-1.4zM216.7 83.2h1.4v1.4h-1.4zM216.7 82.0h1.4v1.4h-1.4zM216.7 80.8h1.4v1.4h-1.4zM216.7 79.7h1.4v1.4h-1.4zM216.7 77.3h1.4v1.4h-1.4zM216.7 76.2h1.4v1.4h-1.4zM216.7 75.0h1.4v1.4h-1.4zM216.7 73.9h1.4v1.4h-1.4zM216.7 72.7h1.4v1.4h-1.4zM216.7 71.5h1.4v1.4h-1.4zM216.7 70.4h1.4v1.4h-1.4zM216.7 69.2h1.4v1.4h-1.4zM216.7 68.1h1.4v1.4h-1.4zM216.7 66.9h1.4v1.4h-1.4zM216.7 65.7h1.4v1.4h-1.4zM216.7 64.6h1.4v1.4h-1.4zM216.7 63.4h1.4v1.4h-1.4zM216.7 62.2h1.4v1.4h-1.4zM216.7 61.1h1.4v1.4h-1.4zM216.7 59.9h1.4v1.4h-1.4zM216.7 58.8h1.4v1.4h-1.4zM216.7 57.6h1.4v1.4h-1.4zM216.7 56.4h1.4v1.4h-1.4zM216.7 55.3h1.4v1.4h-1.4zM216.7 54.1h1.4v1.4h-1.4zM216.7 52.9h1.4v1.4h-1.4zM216.7 51.8h1.4v1.4h-1.4zM216.7 50.6h1.4v1.4h-1.4zM216.7 49.5h1.4v1.4h-1.4zM216.7 48.3h1.4v1.4h-1.4zM216.7 47.1h1.4v1.4h-1.4zM216.7 46.0h1.4v1.4h-1.4zM216.7 44.8h1.4v1.4h-1.4zM216.7 41.3h1.4v1.4h-1.4zM216.7 40.2h1.4v1.4h-1.4zM216.7 39.0h1.4v1.4h-1.4zM216.7 37.8h1.4v1.4h-1.4zM216.7 36.7h1.4v1.4h-1.4zM216.7 35.5h1.4v1.4h-1.4zM216.7 30.9h1.4v1.4h-1.4zM218.4 93.6h1.4v1.4h-1.4zM218.4 89.0h1.4v1.4h-1.4zM218.4 86.6h1.4v1.4h-1.4zM218.4 84.3h1.4v1.4h-1.4zM218.4 80.8h1.4v1.4h-1.4zM218.4 79.7h1.4v1.4h-1.4zM218.4 78.5h1.4v1.4h-1.4zM218.4 77.3h1.4v1.4h-1.4zM218.4 76.2h1.4v1.4h-1.4zM218.4 75.0h1.4v1.4h-1.4zM218.4 73.9h1.4v1.4h-1.4zM218.4 72.7h1.4v1.4h-1.4zM218.4 71.5h1.4v1.4h-1.4zM218.4 70.4h1.4v1.4h-1.4zM218.4 69.2h1.4v1.4h-1.4zM218.4 68.1h1.4v1.4h-1.4zM218.4 66.9h1.4v1.4h-1.4zM218.4 65.7h1.4v1.4h-1.4zM218.4 64.6h1.4v1.4h-1.4zM218.4 63.4h1.4v1.4h-1.4zM218.4 62.2h1.4v1.4h-1.4zM218.4 61.1h1.4v1.4h-1.4zM218.4 59.9h1.4v1.4h-1.4zM218.4 58.8h1.4v1.4h-1.4zM218.4 57.6h1.4v1.4h-1.4zM218.4 56.4h1.4v1.4h-1.4zM218.4 55.3h1.4v1.4h-1.4zM218.4 54.1h1.4v1.4h-1.4zM218.4 52.9h1.4v1.4h-1.4zM218.4 51.8h1.4v1.4h-1.4zM218.4 50.6h1.4v1.4h-1.4zM218.4 47.1h1.4v1.4h-1.4zM218.4 46.0h1.4v1.4h-1.4zM218.4 44.8h1.4v1.4h-1.4zM218.4 43.7h1.4v1.4h-1.4zM218.4 42.5h1.4v1.4h-1.4zM218.4 41.3h1.4v1.4h-1.4zM218.4 39.0h1.4v1.4h-1.4zM218.4 35.5h1.4v1.4h-1.4zM220.1 85.5h1.4v1.4h-1.4zM220.1 80.8h1.4v1.4h-1.4zM220.1 78.5h1.4v1.4h-1.4zM220.1 75.0h1.4v1.4h-1.4zM220.1 73.9h1.4v1.4h-1.4zM220.1 71.5h1.4v1.4h-1.4zM220.1 70.4h1.4v1.4h-1.4zM220.1 69.2h1.4v1.4h-1.4zM220.1 68.1h1.4v1.4h-1.4zM220.1 66.9h1.4v1.4h-1.4zM220.1 65.7h1.4v1.4h-1.4zM220.1 64.6h1.4v1.4h-1.4zM220.1 63.4h1.4v1.4h-1.4zM220.1 62.2h1.4v1.4h-1.4zM220.1 61.1h1.4v1.4h-1.4zM220.1 59.9h1.4v1.4h-1.4zM220.1 58.8h1.4v1.4h-1.4zM220.1 57.6h1.4v1.4h-1.4zM220.1 56.4h1.4v1.4h-1.4zM220.1 55.3h1.4v1.4h-1.4zM220.1 54.1h1.4v1.4h-1.4zM220.1 52.9h1.4v1.4h-1.4zM220.1 51.8h1.4v1.4h-1.4zM220.1 50.6h1.4v1.4h-1.4zM220.1 48.3h1.4v1.4h-1.4zM220.1 46.0h1.4v1.4h-1.4zM220.1 43.7h1.4v1.4h-1.4zM220.1 42.5h1.4v1.4h-1.4zM220.1 41.3h1.4v1.4h-1.4zM221.9 90.1h1.4v1.4h-1.4zM221.9 79.7h1.4v1.4h-1.4zM221.9 78.5h1.4v1.4h-1.4zM221.9 77.3h1.4v1.4h-1.4zM221.9 76.2h1.4v1.4h-1.4zM221.9 75.0h1.4v1.4h-1.4zM221.9 72.7h1.4v1.4h-1.4zM221.9 71.5h1.4v1.4h-1.4zM221.9 70.4h1.4v1.4h-1.4zM221.9 69.2h1.4v1.4h-1.4zM221.9 68.1h1.4v1.4h-1.4zM221.9 66.9h1.4v1.4h-1.4zM221.9 65.7h1.4v1.4h-1.4zM221.9 64.6h1.4v1.4h-1.4zM221.9 63.4h1.4v1.4h-1.4zM221.9 62.2h1.4v1.4h-1.4zM221.9 61.1h1.4v1.4h-1.4zM221.9 59.9h1.4v1.4h-1.4zM221.9 58.8h1.4v1.4h-1.4zM221.9 57.6h1.4v1.4h-1.4zM221.9 56.4h1.4v1.4h-1.4zM221.9 55.3h1.4v1.4h-1.4zM221.9 54.1h1.4v1.4h-1.4zM221.9 52.9h1.4v1.4h-1.4zM221.9 51.8h1.4v1.4h-1.4zM221.9 50.6h1.4v1.4h-1.4zM221.9 49.5h1.4v1.4h-1.4zM221.9 48.3h1.4v1.4h-1.4zM221.9 47.1h1.4v1.4h-1.4zM221.9 46.0h1.4v1.4h-1.4zM221.9 44.8h1.4v1.4h-1.4zM221.9 40.2h1.4v1.4h-1.4zM223.6 89.0h1.4v1.4h-1.4zM223.6 75.0h1.4v1.4h-1.4zM223.6 72.7h1.4v1.4h-1.4zM223.6 71.5h1.4v1.4h-1.4zM223.6 70.4h1.4v1.4h-1.4zM223.6 69.2h1.4v1.4h-1.4zM223.6 68.1h1.4v1.4h-1.4zM223.6 65.7h1.4v1.4h-1.4zM223.6 63.4h1.4v1.4h-1.4zM223.6 61.1h1.4v1.4h-1.4zM223.6 58.8h1.4v1.4h-1.4zM223.6 57.6h1.4v1.4h-1.4zM223.6 56.4h1.4v1.4h-1.4zM223.6 55.3h1.4v1.4h-1.4zM223.6 54.1h1.4v1.4h-1.4zM223.6 52.9h1.4v1.4h-1.4zM223.6 51.8h1.4v1.4h-1.4zM223.6 50.6h1.4v1.4h-1.4zM223.6 48.3h1.4v1.4h-1.4zM223.6 44.8h1.4v1.4h-1.4zM223.6 43.7h1.4v1.4h-1.4zM223.6 39.0h1.4v1.4h-1.4zM225.3 91.3h1.4v1.4h-1.4zM225.3 86.6h1.4v1.4h-1.4zM225.3 83.2h1.4v1.4h-1.4zM225.3 82.0h1.4v1.4h-1.4zM225.3 80.8h1.4v1.4h-1.4zM225.3 79.7h1.4v1.4h-1.4zM225.3 78.5h1.4v1.4h-1.4zM225.3 77.3h1.4v1.4h-1.4zM225.3 76.2h1.4v1.4h-1.4zM225.3 75.0h1.4v1.4h-1.4zM225.3 73.9h1.4v1.4h-1.4zM225.3 72.7h1.4v1.4h-1.4zM225.3 71.5h1.4v1.4h-1.4zM225.3 70.4h1.4v1.4h-1.4zM225.3 69.2h1.4v1.4h-1.4zM225.3 68.1h1.4v1.4h-1.4zM225.3 66.9h1.4v1.4h-1.4zM225.3 65.7h1.4v1.4h-1.4zM225.3 64.6h1.4v1.4h-1.4zM225.3 63.4h1.4v1.4h-1.4zM225.3 62.2h1.4v1.4h-1.4zM225.3 61.1h1.4v1.4h-1.4zM225.3 59.9h1.4v1.4h-1.4zM225.3 58.8h1.4v1.4h-1.4zM225.3 57.6h1.4v1.4h-1.4zM225.3 56.4h1.4v1.4h-1.4zM225.3 55.3h1.4v1.4h-1.4zM225.3 54.1h1.4v1.4h-1.4zM225.3 52.9h1.4v1.4h-1.4zM225.3 51.8h1.4v1.4h-1.4zM225.3 50.6h1.4v1.4h-1.4zM225.3 49.5h1.4v1.4h-1.4zM225.3 48.3h1.4v1.4h-1.4zM225.3 47.1h1.4v1.4h-1.4zM225.3 46.0h1.4v1.4h-1.4zM225.3 44.8h1.4v1.4h-1.4zM225.3 43.7h1.4v1.4h-1.4zM225.3 42.5h1.4v1.4h-1.4zM225.3 41.3h1.4v1.4h-1.4zM225.3 40.2h1.4v1.4h-1.4zM225.3 39.0h1.4v1.4h-1.4zM225.3 37.8h1.4v1.4h-1.4zM225.3 33.2h1.4v1.4h-1.4zM225.3 30.9h1.4v1.4h-1.4zM225.3 29.7h1.4v1.4h-1.4zM227.0 85.5h1.4v1.4h-1.4zM227.0 82.0h1.4v1.4h-1.4zM227.0 79.7h1.4v1.4h-1.4zM227.0 76.2h1.4v1.4h-1.4zM227.0 75.0h1.4v1.4h-1.4zM227.0 72.7h1.4v1.4h-1.4zM227.0 71.5h1.4v1.4h-1.4zM227.0 68.1h1.4v1.4h-1.4zM227.0 66.9h1.4v1.4h-1.4zM227.0 65.7h1.4v1.4h-1.4zM227.0 64.6h1.4v1.4h-1.4zM227.0 63.4h1.4v1.4h-1.4zM227.0 62.2h1.4v1.4h-1.4zM227.0 61.1h1.4v1.4h-1.4zM227.0 59.9h1.4v1.4h-1.4zM227.0 58.8h1.4v1.4h-1.4zM227.0 55.3h1.4v1.4h-1.4zM227.0 52.9h1.4v1.4h-1.4zM227.0 51.8h1.4v1.4h-1.4zM227.0 50.6h1.4v1.4h-1.4zM227.0 49.5h1.4v1.4h-1.4zM227.0 48.3h1.4v1.4h-1.4zM227.0 47.1h1.4v1.4h-1.4zM227.0 44.8h1.4v1.4h-1.4zM227.0 36.7h1.4v1.4h-1.4zM228.7 76.2h1.4v1.4h-1.4zM228.7 70.4h1.4v1.4h-1.4zM228.7 65.7h1.4v1.4h-1.4zM228.7 64.6h1.4v1.4h-1.4zM228.7 62.2h1.4v1.4h-1.4zM228.7 59.9h1.4v1.4h-1.4zM228.7 55.3h1.4v1.4h-1.4zM228.7 54.1h1.4v1.4h-1.4zM228.7 50.6h1.4v1.4h-1.4zM228.7 42.5h1.4v1.4h-1.4zM230.4 90.1h1.4v1.4h-1.4zM230.4 89.0h1.4v1.4h-1.4zM230.4 78.5h1.4v1.4h-1.4zM230.4 77.3h1.4v1.4h-1.4zM230.4 76.2h1.4v1.4h-1.4zM230.4 75.0h1.4v1.4h-1.4zM230.4 72.7h1.4v1.4h-1.4zM230.4 71.5h1.4v1.4h-1.4zM230.4 70.4h1.4v1.4h-1.4zM230.4 69.2h1.4v1.4h-1.4zM230.4 68.1h1.4v1.4h-1.4zM230.4 66.9h1.4v1.4h-1.4zM230.4 65.7h1.4v1.4h-1.4zM230.4 64.6h1.4v1.4h-1.4zM230.4 63.4h1.4v1.4h-1.4zM230.4 62.2h1.4v1.4h-1.4zM230.4 61.1h1.4v1.4h-1.4zM230.4 59.9h1.4v1.4h-1.4zM230.4 58.8h1.4v1.4h-1.4zM230.4 57.6h1.4v1.4h-1.4zM230.4 56.4h1.4v1.4h-1.4zM230.4 55.3h1.4v1.4h-1.4zM230.4 54.1h1.4v1.4h-1.4zM230.4 52.9h1.4v1.4h-1.4zM230.4 51.8h1.4v1.4h-1.4zM230.4 50.6h1.4v1.4h-1.4zM230.4 49.5h1.4v1.4h-1.4zM230.4 48.3h1.4v1.4h-1.4zM230.4 47.1h1.4v1.4h-1.4zM230.4 46.0h1.4v1.4h-1.4zM230.4 44.8h1.4v1.4h-1.4zM230.4 43.7h1.4v1.4h-1.4zM230.4 42.5h1.4v1.4h-1.4zM230.4 41.3h1.4v1.4h-1.4zM230.4 37.8h1.4v1.4h-1.4zM230.4 32.0h1.4v1.4h-1.4zM230.4 30.9h1.4v1.4h-1.4zM232.1 75.0h1.4v1.4h-1.4zM232.1 73.9h1.4v1.4h-1.4zM232.1 70.4h1.4v1.4h-1.4zM232.1 68.1h1.4v1.4h-1.4zM232.1 63.4h1.4v1.4h-1.4zM232.1 61.1h1.4v1.4h-1.4zM232.1 56.4h1.4v1.4h-1.4zM232.1 52.9h1.4v1.4h-1.4zM233.8 80.8h1.4v1.4h-1.4zM233.8 79.7h1.4v1.4h-1.4zM233.8 78.5h1.4v1.4h-1.4zM233.8 77.3h1.4v1.4h-1.4zM233.8 76.2h1.4v1.4h-1.4zM233.8 71.5h1.4v1.4h-1.4zM233.8 69.2h1.4v1.4h-1.4zM233.8 68.1h1.4v1.4h-1.4zM233.8 66.9h1.4v1.4h-1.4zM233.8 65.7h1.4v1.4h-1.4zM233.8 64.6h1.4v1.4h-1.4zM233.8 63.4h1.4v1.4h-1.4zM233.8 62.2h1.4v1.4h-1.4zM233.8 61.1h1.4v1.4h-1.4zM233.8 59.9h1.4v1.4h-1.4zM233.8 58.8h1.4v1.4h-1.4zM233.8 57.6h1.4v1.4h-1.4zM233.8 56.4h1.4v1.4h-1.4zM233.8 54.1h1.4v1.4h-1.4zM233.8 52.9h1.4v1.4h-1.4zM233.8 51.8h1.4v1.4h-1.4zM233.8 50.6h1.4v1.4h-1.4zM233.8 49.5h1.4v1.4h-1.4zM233.8 48.3h1.4v1.4h-1.4zM233.8 47.1h1.4v1.4h-1.4zM233.8 44.8h1.4v1.4h-1.4zM233.8 37.8h1.4v1.4h-1.4zM235.5 65.7h1.4v1.4h-1.4zM235.5 63.4h1.4v1.4h-1.4zM235.5 62.2h1.4v1.4h-1.4zM235.5 61.1h1.4v1.4h-1.4zM235.5 58.8h1.4v1.4h-1.4zM235.5 57.6h1.4v1.4h-1.4zM235.5 47.1h1.4v1.4h-1.4zM235.5 37.8h1.4v1.4h-1.4zM237.2 91.3h1.4v1.4h-1.4zM237.2 89.0h1.4v1.4h-1.4zM237.2 87.8h1.4v1.4h-1.4zM237.2 86.6h1.4v1.4h-1.4zM237.2 85.5h1.4v1.4h-1.4zM237.2 84.3h1.4v1.4h-1.4zM237.2 82.0h1.4v1.4h-1.4zM237.2 80.8h1.4v1.4h-1.4zM237.2 79.7h1.4v1.4h-1.4zM237.2 78.5h1.4v1.4h-1.4zM237.2 77.3h1.4v1.4h-1.4zM237.2 76.2h1.4v1.4h-1.4zM237.2 75.0h1.4v1.4h-1.4zM237.2 73.9h1.4v1.4h-1.4zM237.2 72.7h1.4v1.4h-1.4zM237.2 71.5h1.4v1.4h-1.4zM237.2 70.4h1.4v1.4h-1.4zM237.2 69.2h1.4v1.4h-1.4zM237.2 68.1h1.4v1.4h-1.4zM237.2 66.9h1.4v1.4h-1.4zM237.2 65.7h1.4v1.4h-1.4zM237.2 64.6h1.4v1.4h-1.4zM237.2 63.4h1.4v1.4h-1.4zM237.2 62.2h1.4v1.4h-1.4zM237.2 61.1h1.4v1.4h-1.4zM237.2 59.9h1.4v1.4h-1.4zM237.2 58.8h1.4v1.4h-1.4zM237.2 57.6h1.4v1.4h-1.4zM237.2 56.4h1.4v1.4h-1.4zM237.2 55.3h1.4v1.4h-1.4zM237.2 54.1h1.4v1.4h-1.4zM237.2 52.9h1.4v1.4h-1.4zM237.2 51.8h1.4v1.4h-1.4zM237.2 50.6h1.4v1.4h-1.4zM237.2 49.5h1.4v1.4h-1.4zM237.2 48.3h1.4v1.4h-1.4zM237.2 47.1h1.4v1.4h-1.4zM237.2 46.0h1.4v1.4h-1.4zM237.2 44.8h1.4v1.4h-1.4zM237.2 43.7h1.4v1.4h-1.4zM237.2 42.5h1.4v1.4h-1.4zM237.2 41.3h1.4v1.4h-1.4zM237.2 40.2h1.4v1.4h-1.4zM237.2 37.8h1.4v1.4h-1.4zM237.2 36.7h1.4v1.4h-1.4zM237.2 35.5h1.4v1.4h-1.4zM237.2 33.2h1.4v1.4h-1.4zM237.2 28.5h1.4v1.4h-1.4zM237.2 26.2h1.4v1.4h-1.4zM239.0 84.3h1.4v1.4h-1.4zM239.0 83.2h1.4v1.4h-1.4zM239.0 79.7h1.4v1.4h-1.4zM239.0 78.5h1.4v1.4h-1.4zM239.0 76.2h1.4v1.4h-1.4zM239.0 71.5h1.4v1.4h-1.4zM239.0 69.2h1.4v1.4h-1.4zM239.0 68.1h1.4v1.4h-1.4zM239.0 66.9h1.4v1.4h-1.4zM239.0 65.7h1.4v1.4h-1.4zM239.0 64.6h1.4v1.4h-1.4zM239.0 63.4h1.4v1.4h-1.4zM239.0 62.2h1.4v1.4h-1.4zM239.0 61.1h1.4v1.4h-1.4zM239.0 59.9h1.4v1.4h-1.4zM239.0 58.8h1.4v1.4h-1.4zM239.0 57.6h1.4v1.4h-1.4zM239.0 56.4h1.4v1.4h-1.4zM239.0 55.3h1.4v1.4h-1.4zM239.0 54.1h1.4v1.4h-1.4zM239.0 52.9h1.4v1.4h-1.4zM239.0 51.8h1.4v1.4h-1.4zM239.0 50.6h1.4v1.4h-1.4zM239.0 47.1h1.4v1.4h-1.4zM239.0 46.0h1.4v1.4h-1.4zM239.0 43.7h1.4v1.4h-1.4zM239.0 39.0h1.4v1.4h-1.4zM239.0 35.5h1.4v1.4h-1.4zM240.7 83.2h1.4v1.4h-1.4zM240.7 78.5h1.4v1.4h-1.4zM240.7 73.9h1.4v1.4h-1.4zM240.7 71.5h1.4v1.4h-1.4zM240.7 69.2h1.4v1.4h-1.4zM240.7 66.9h1.4v1.4h-1.4zM240.7 65.7h1.4v1.4h-1.4zM240.7 63.4h1.4v1.4h-1.4zM240.7 62.2h1.4v1.4h-1.4zM240.7 61.1h1.4v1.4h-1.4zM240.7 59.9h1.4v1.4h-1.4zM240.7 58.8h1.4v1.4h-1.4zM240.7 56.4h1.4v1.4h-1.4zM240.7 54.1h1.4v1.4h-1.4zM240.7 52.9h1.4v1.4h-1.4zM240.7 51.8h1.4v1.4h-1.4zM240.7 49.5h1.4v1.4h-1.4zM240.7 48.3h1.4v1.4h-1.4zM240.7 47.1h1.4v1.4h-1.4zM240.7 44.8h1.4v1.4h-1.4zM240.7 43.7h1.4v1.4h-1.4zM240.7 42.5h1.4v1.4h-1.4zM240.7 37.8h1.4v1.4h-1.4zM242.4 85.5h1.4v1.4h-1.4zM242.4 80.8h1.4v1.4h-1.4zM242.4 72.7h1.4v1.4h-1.4zM242.4 66.9h1.4v1.4h-1.4zM242.4 58.8h1.4v1.4h-1.4zM242.4 52.9h1.4v1.4h-1.4zM244.1 91.3h1.4v1.4h-1.4zM244.1 87.8h1.4v1.4h-1.4zM244.1 77.3h1.4v1.4h-1.4zM244.1 73.9h1.4v1.4h-1.4zM244.1 71.5h1.4v1.4h-1.4zM244.1 69.2h1.4v1.4h-1.4zM244.1 68.1h1.4v1.4h-1.4zM244.1 66.9h1.4v1.4h-1.4zM244.1 65.7h1.4v1.4h-1.4zM244.1 63.4h1.4v1.4h-1.4zM244.1 62.2h1.4v1.4h-1.4zM244.1 61.1h1.4v1.4h-1.4zM244.1 59.9h1.4v1.4h-1.4zM244.1 58.8h1.4v1.4h-1.4zM244.1 57.6h1.4v1.4h-1.4zM244.1 55.3h1.4v1.4h-1.4zM244.1 52.9h1.4v1.4h-1.4zM244.1 50.6h1.4v1.4h-1.4zM244.1 49.5h1.4v1.4h-1.4zM244.1 47.1h1.4v1.4h-1.4zM244.1 44.8h1.4v1.4h-1.4zM244.1 43.7h1.4v1.4h-1.4zM244.1 42.5h1.4v1.4h-1.4zM244.1 33.2h1.4v1.4h-1.4zM245.8 64.6h1.4v1.4h-1.4zM245.8 55.3h1.4v1.4h-1.4zM245.8 49.5h1.4v1.4h-1.4zM247.5 78.5h1.4v1.4h-1.4zM247.5 71.5h1.4v1.4h-1.4zM247.5 70.4h1.4v1.4h-1.4zM247.5 69.2h1.4v1.4h-1.4zM247.5 68.1h1.4v1.4h-1.4zM247.5 66.9h1.4v1.4h-1.4zM247.5 65.7h1.4v1.4h-1.4zM247.5 64.6h1.4v1.4h-1.4zM247.5 63.4h1.4v1.4h-1.4zM247.5 62.2h1.4v1.4h-1.4zM247.5 61.1h1.4v1.4h-1.4zM247.5 59.9h1.4v1.4h-1.4zM247.5 58.8h1.4v1.4h-1.4zM247.5 57.6h1.4v1.4h-1.4zM247.5 56.4h1.4v1.4h-1.4zM247.5 55.3h1.4v1.4h-1.4zM247.5 54.1h1.4v1.4h-1.4zM247.5 52.9h1.4v1.4h-1.4zM247.5 51.8h1.4v1.4h-1.4zM247.5 50.6h1.4v1.4h-1.4zM247.5 49.5h1.4v1.4h-1.4zM247.5 48.3h1.4v1.4h-1.4zM247.5 47.1h1.4v1.4h-1.4zM247.5 46.0h1.4v1.4h-1.4zM247.5 44.8h1.4v1.4h-1.4zM247.5 43.7h1.4v1.4h-1.4zM247.5 36.7h1.4v1.4h-1.4zM247.5 30.9h1.4v1.4h-1.4zM249.2 93.6h1.4v1.4h-1.4zM249.2 86.6h1.4v1.4h-1.4zM249.2 85.5h1.4v1.4h-1.4zM249.2 82.0h1.4v1.4h-1.4zM249.2 80.8h1.4v1.4h-1.4zM249.2 79.7h1.4v1.4h-1.4zM249.2 78.5h1.4v1.4h-1.4zM249.2 77.3h1.4v1.4h-1.4zM249.2 76.2h1.4v1.4h-1.4zM249.2 75.0h1.4v1.4h-1.4zM249.2 73.9h1.4v1.4h-1.4zM249.2 72.7h1.4v1.4h-1.4zM249.2 71.5h1.4v1.4h-1.4zM249.2 69.2h1.4v1.4h-1.4zM249.2 68.1h1.4v1.4h-1.4zM249.2 66.9h1.4v1.4h-1.4zM249.2 65.7h1.4v1.4h-1.4zM249.2 64.6h1.4v1.4h-1.4zM249.2 63.4h1.4v1.4h-1.4zM249.2 62.2h1.4v1.4h-1.4zM249.2 61.1h1.4v1.4h-1.4zM249.2 59.9h1.4v1.4h-1.4zM249.2 58.8h1.4v1.4h-1.4zM249.2 57.6h1.4v1.4h-1.4zM249.2 56.4h1.4v1.4h-1.4zM249.2 55.3h1.4v1.4h-1.4zM249.2 54.1h1.4v1.4h-1.4zM249.2 52.9h1.4v1.4h-1.4zM249.2 51.8h1.4v1.4h-1.4zM249.2 50.6h1.4v1.4h-1.4zM249.2 49.5h1.4v1.4h-1.4zM249.2 48.3h1.4v1.4h-1.4zM249.2 47.1h1.4v1.4h-1.4zM249.2 46.0h1.4v1.4h-1.4zM249.2 44.8h1.4v1.4h-1.4zM249.2 43.7h1.4v1.4h-1.4zM249.2 42.5h1.4v1.4h-1.4zM249.2 41.3h1.4v1.4h-1.4zM249.2 40.2h1.4v1.4h-1.4zM249.2 37.8h1.4v1.4h-1.4zM249.2 35.5h1.4v1.4h-1.4zM249.2 32.0h1.4v1.4h-1.4zM249.2 30.9h1.4v1.4h-1.4zM250.9 71.5h1.4v1.4h-1.4zM250.9 63.4h1.4v1.4h-1.4zM250.9 58.8h1.4v1.4h-1.4zM250.9 49.5h1.4v1.4h-1.4zM252.6 72.7h1.4v1.4h-1.4zM252.6 62.2h1.4v1.4h-1.4zM252.6 55.3h1.4v1.4h-1.4zM254.3 77.3h1.4v1.4h-1.4zM254.3 76.2h1.4v1.4h-1.4zM254.3 73.9h1.4v1.4h-1.4zM254.3 72.7h1.4v1.4h-1.4zM254.3 71.5h1.4v1.4h-1.4zM254.3 70.4h1.4v1.4h-1.4zM254.3 68.1h1.4v1.4h-1.4zM254.3 66.9h1.4v1.4h-1.4zM254.3 64.6h1.4v1.4h-1.4zM254.3 63.4h1.4v1.4h-1.4zM254.3 62.2h1.4v1.4h-1.4zM254.3 61.1h1.4v1.4h-1.4zM254.3 59.9h1.4v1.4h-1.4zM254.3 58.8h1.4v1.4h-1.4zM254.3 57.6h1.4v1.4h-1.4zM254.3 56.4h1.4v1.4h-1.4zM254.3 50.6h1.4v1.4h-1.4zM254.3 49.5h1.4v1.4h-1.4zM254.3 48.3h1.4v1.4h-1.4zM254.3 39.0h1.4v1.4h-1.4zM254.3 37.8h1.4v1.4h-1.4zM256.1 76.2h1.4v1.4h-1.4zM256.1 75.0h1.4v1.4h-1.4zM256.1 73.9h1.4v1.4h-1.4zM256.1 70.4h1.4v1.4h-1.4zM256.1 69.2h1.4v1.4h-1.4zM256.1 68.1h1.4v1.4h-1.4zM256.1 66.9h1.4v1.4h-1.4zM256.1 65.7h1.4v1.4h-1.4zM256.1 64.6h1.4v1.4h-1.4zM256.1 63.4h1.4v1.4h-1.4zM256.1 62.2h1.4v1.4h-1.4zM256.1 61.1h1.4v1.4h-1.4zM256.1 59.9h1.4v1.4h-1.4zM256.1 58.8h1.4v1.4h-1.4zM256.1 57.6h1.4v1.4h-1.4zM256.1 55.3h1.4v1.4h-1.4zM256.1 54.1h1.4v1.4h-1.4zM256.1 51.8h1.4v1.4h-1.4zM256.1 50.6h1.4v1.4h-1.4zM256.1 48.3h1.4v1.4h-1.4zM256.1 47.1h1.4v1.4h-1.4zM257.8 65.7h1.4v1.4h-1.4zM257.8 61.1h1.4v1.4h-1.4zM257.8 58.8h1.4v1.4h-1.4zM259.5 71.5h1.4v1.4h-1.4zM259.5 63.4h1.4v1.4h-1.4zM259.5 56.4h1.4v1.4h-1.4zM261.2 82.0h1.4v1.4h-1.4zM261.2 78.5h1.4v1.4h-1.4zM261.2 76.2h1.4v1.4h-1.4zM261.2 75.0h1.4v1.4h-1.4zM261.2 72.7h1.4v1.4h-1.4zM261.2 71.5h1.4v1.4h-1.4zM261.2 70.4h1.4v1.4h-1.4zM261.2 69.2h1.4v1.4h-1.4zM261.2 68.1h1.4v1.4h-1.4zM261.2 66.9h1.4v1.4h-1.4zM261.2 65.7h1.4v1.4h-1.4zM261.2 64.6h1.4v1.4h-1.4zM261.2 63.4h1.4v1.4h-1.4zM261.2 62.2h1.4v1.4h-1.4zM261.2 61.1h1.4v1.4h-1.4zM261.2 59.9h1.4v1.4h-1.4zM261.2 58.8h1.4v1.4h-1.4zM261.2 57.6h1.4v1.4h-1.4zM261.2 56.4h1.4v1.4h-1.4zM261.2 55.3h1.4v1.4h-1.4zM261.2 54.1h1.4v1.4h-1.4zM261.2 52.9h1.4v1.4h-1.4zM261.2 51.8h1.4v1.4h-1.4zM261.2 50.6h1.4v1.4h-1.4zM261.2 49.5h1.4v1.4h-1.4zM261.2 48.3h1.4v1.4h-1.4zM261.2 47.1h1.4v1.4h-1.4zM261.2 46.0h1.4v1.4h-1.4zM261.2 43.7h1.4v1.4h-1.4zM261.2 42.5h1.4v1.4h-1.4zM261.2 39.0h1.4v1.4h-1.4zM261.2 37.8h1.4v1.4h-1.4zM262.9 76.2h1.4v1.4h-1.4zM262.9 65.7h1.4v1.4h-1.4zM264.6 84.3h1.4v1.4h-1.4zM264.6 82.0h1.4v1.4h-1.4zM264.6 76.2h1.4v1.4h-1.4zM264.6 75.0h1.4v1.4h-1.4zM264.6 72.7h1.4v1.4h-1.4zM264.6 71.5h1.4v1.4h-1.4zM264.6 70.4h1.4v1.4h-1.4zM264.6 69.2h1.4v1.4h-1.4zM264.6 68.1h1.4v1.4h-1.4zM264.6 66.9h1.4v1.4h-1.4zM264.6 65.7h1.4v1.4h-1.4zM264.6 64.6h1.4v1.4h-1.4zM264.6 63.4h1.4v1.4h-1.4zM264.6 62.2h1.4v1.4h-1.4zM264.6 61.1h1.4v1.4h-1.4zM264.6 59.9h1.4v1.4h-1.4zM264.6 58.8h1.4v1.4h-1.4zM264.6 57.6h1.4v1.4h-1.4zM264.6 56.4h1.4v1.4h-1.4zM264.6 55.3h1.4v1.4h-1.4zM264.6 52.9h1.4v1.4h-1.4zM264.6 51.8h1.4v1.4h-1.4zM264.6 50.6h1.4v1.4h-1.4zM264.6 48.3h1.4v1.4h-1.4zM264.6 43.7h1.4v1.4h-1.4zM264.6 42.5h1.4v1.4h-1.4zM264.6 39.0h1.4v1.4h-1.4zM266.3 87.8h1.4v1.4h-1.4zM266.3 66.9h1.4v1.4h-1.4zM268.0 71.5h1.4v1.4h-1.4zM268.0 68.1h1.4v1.4h-1.4zM268.0 66.9h1.4v1.4h-1.4zM268.0 62.2h1.4v1.4h-1.4zM268.0 58.8h1.4v1.4h-1.4zM268.0 56.4h1.4v1.4h-1.4zM268.0 55.3h1.4v1.4h-1.4zM268.0 40.2h1.4v1.4h-1.4zM269.7 64.6h1.4v1.4h-1.4zM269.7 55.3h1.4v1.4h-1.4zM271.4 54.1h1.4v1.4h-1.4zM271.4 44.8h1.4v1.4h-1.4zM273.2 87.8h1.4v1.4h-1.4zM273.2 80.8h1.4v1.4h-1.4zM273.2 78.5h1.4v1.4h-1.4zM273.2 77.3h1.4v1.4h-1.4zM273.2 72.7h1.4v1.4h-1.4zM273.2 71.5h1.4v1.4h-1.4zM273.2 70.4h1.4v1.4h-1.4zM273.2 69.2h1.4v1.4h-1.4zM273.2 68.1h1.4v1.4h-1.4zM273.2 66.9h1.4v1.4h-1.4zM273.2 64.6h1.4v1.4h-1.4zM273.2 63.4h1.4v1.4h-1.4zM273.2 62.2h1.4v1.4h-1.4zM273.2 61.1h1.4v1.4h-1.4zM273.2 59.9h1.4v1.4h-1.4zM273.2 58.8h1.4v1.4h-1.4zM273.2 57.6h1.4v1.4h-1.4zM273.2 56.4h1.4v1.4h-1.4zM273.2 55.3h1.4v1.4h-1.4zM273.2 54.1h1.4v1.4h-1.4zM273.2 52.9h1.4v1.4h-1.4zM273.2 51.8h1.4v1.4h-1.4zM273.2 50.6h1.4v1.4h-1.4zM273.2 49.5h1.4v1.4h-1.4zM273.2 48.3h1.4v1.4h-1.4zM273.2 47.1h1.4v1.4h-1.4zM273.2 46.0h1.4v1.4h-1.4zM273.2 44.8h1.4v1.4h-1.4zM273.2 43.7h1.4v1.4h-1.4zM273.2 41.3h1.4v1.4h-1.4zM281.6 46.8h1.4v1.4h-1.4zM281.6 49.3h1.4v1.4h-1.4zM281.6 52.8h1.4v1.4h-1.4zM281.6 54.7h1.4v1.4h-1.4zM281.6 59.1h1.4v1.4h-1.4zM281.6 69.1h1.4v1.4h-1.4zM281.6 72.0h1.4v1.4h-1.4zM281.6 74.6h1.4v1.4h-1.4zM284.7 45.6h1.4v1.4h-1.4zM284.7 54.7h1.4v1.4h-1.4zM284.7 66.1h1.4v1.4h-1.4zM284.7 77.0h1.4v1.4h-1.4zM288.7 45.2h1.4v1.4h-1.4zM290.1 49.8h1.4v1.4h-1.4zM290.1 62.1h1.4v1.4h-1.4zM290.1 66.1h1.4v1.4h-1.4zM290.1 69.7h1.4v1.4h-1.4zM292.1 42.2h1.4v1.4h-1.4zM298.7 33.3h1.4v1.4h-1.4zM298.7 40.2h1.4v1.4h-1.4zM298.7 47.2h1.4v1.4h-1.4zM298.7 64.1h1.4v1.4h-1.4zM298.7 66.1h1.4v1.4h-1.4zM298.7 71.4h1.4v1.4h-1.4zM298.7 87.0h1.4v1.4h-1.4zM298.7 89.3h1.4v1.4h-1.4zM307.5 78.0h1.4v1.4h-1.4zM308.7 78.0h1.4v1.4h-1.4zM309.0 63.5h1.4v1.4h-1.4zM316.0 54.2h1.4v1.4h-1.4zM316.0 59.1h1.4v1.4h-1.4zM324.5 57.1h1.4v1.4h-1.4zM332.9 52.8h1.4v1.4h-1.4zM332.9 58.7h1.4v1.4h-1.4zM332.9 61.1h1.4v1.4h-1.4zM332.9 62.7h1.4v1.4h-1.4zM332.9 79.6h1.4v1.4h-1.4zM336.4 52.8h1.4v1.4h-1.4zM341.4 43.2h1.4v1.4h-1.4zM341.4 58.7h1.4v1.4h-1.4zM350.3 70.7h1.4v1.4h-1.4zM350.3 74.6h1.4v1.4h-1.4zM356.7 46.4h1.4v1.4h-1.4zM356.7 83.0h1.4v1.4h-1.4zM384.2 65.7h1.4v1.4h-1.4zM384.2 78.0h1.4v1.4h-1.4zM213.0 108.5h1.4v1.4h-1.4zM213.0 110.2h1.4v1.4h-1.4zM221.6 105.4h1.4v1.4h-1.4zM225.2 107.7h1.4v1.4h-1.4zM230.6 106.5h1.4v1.4h-1.4zM247.6 105.6h1.4v1.4h-1.4zM230.6 100.0h1.4v1.4h-1.4zM237.4 100.0h1.4v1.4h-1.4z"/>
<line x1="214.00" y1="62.40" x2="385.00" y2="54.30" stroke="#333" stroke-width="0.85"/>
<text x="386.70" y="103.60" font-size="8.6" font-weight="normal" fill="#262626" text-anchor="start" textLength="23.90" lengthAdjust="spacingAndGlyphs">r=0.10</text>
<text x="386.70" y="112.70" font-size="8.6" font-weight="normal" fill="#262626" text-anchor="start" textLength="33.80" lengthAdjust="spacingAndGlyphs">p&lt;0.0001</text>
<text x="386.70" y="121.80" font-size="8.6" font-weight="normal" fill="#262626" text-anchor="start" textLength="27.30" lengthAdjust="spacingAndGlyphs">n=4028</text>
<text x="439.00" y="8.30" font-size="10.7" font-weight="bold" fill="#111" text-anchor="start" textLength="7.00" lengthAdjust="spacingAndGlyphs" stroke="#111" stroke-width="0.3">C</text>
<line x1="475.35" y1="15.30" x2="475.35" y2="131.80" stroke="#1a1a1a" stroke-width="1.3"/>
<line x1="470.45" y1="131.80" x2="475.35" y2="131.80" stroke="#1a1a1a" stroke-width="1.3"/>
<text x="469.10" y="134.80" font-size="9.7" font-weight="bold" fill="#111" text-anchor="end" textLength="3.70" lengthAdjust="spacingAndGlyphs">0</text>
<line x1="470.45" y1="108.50" x2="475.35" y2="108.50" stroke="#1a1a1a" stroke-width="1.3"/>
<text x="469.10" y="111.50" font-size="9.7" font-weight="bold" fill="#111" text-anchor="end" textLength="7.90" lengthAdjust="spacingAndGlyphs">20</text>
<line x1="470.45" y1="85.20" x2="475.35" y2="85.20" stroke="#1a1a1a" stroke-width="1.3"/>
<text x="469.10" y="88.20" font-size="9.7" font-weight="bold" fill="#111" text-anchor="end" textLength="7.90" lengthAdjust="spacingAndGlyphs">40</text>
<line x1="470.45" y1="61.90" x2="475.35" y2="61.90" stroke="#1a1a1a" stroke-width="1.3"/>
<text x="469.10" y="64.90" font-size="9.7" font-weight="bold" fill="#111" text-anchor="end" textLength="7.90" lengthAdjust="spacingAndGlyphs">60</text>
<line x1="470.45" y1="38.60" x2="475.35" y2="38.60" stroke="#1a1a1a" stroke-width="1.3"/>
<text x="469.10" y="41.60" font-size="9.7" font-weight="bold" fill="#111" text-anchor="end" textLength="7.90" lengthAdjust="spacingAndGlyphs">80</text>
<line x1="470.45" y1="15.30" x2="475.35" y2="15.30" stroke="#1a1a1a" stroke-width="1.3"/>
<text x="469.10" y="18.30" font-size="9.7" font-weight="bold" fill="#111" text-anchor="end" textLength="11.80" lengthAdjust="spacingAndGlyphs">100</text>
<line x1="470.20" y1="131.80" x2="649.80" y2="131.80" stroke="#1a1a1a" stroke-width="1.3"/>
<line x1="475.20" y1="131.80" x2="475.20" y2="136.80" stroke="#1a1a1a" stroke-width="1.3"/>
<text x="475.20" y="146.50" font-size="9.7" font-weight="bold" fill="#111" text-anchor="middle" textLength="3.90" lengthAdjust="spacingAndGlyphs">0</text>
<line x1="518.80" y1="131.80" x2="518.80" y2="136.80" stroke="#1a1a1a" stroke-width="1.3"/>
<text x="518.80" y="146.50" font-size="9.7" font-weight="bold" fill="#111" text-anchor="middle" textLength="8.10" lengthAdjust="spacingAndGlyphs">20</text>
<line x1="562.40" y1="131.80" x2="562.40" y2="136.80" stroke="#1a1a1a" stroke-width="1.3"/>
<text x="562.40" y="146.50" font-size="9.7" font-weight="bold" fill="#111" text-anchor="middle" textLength="8.10" lengthAdjust="spacingAndGlyphs">40</text>
<line x1="606.00" y1="131.80" x2="606.00" y2="136.80" stroke="#1a1a1a" stroke-width="1.3"/>
<text x="606.00" y="146.50" font-size="9.7" font-weight="bold" fill="#111" text-anchor="middle" textLength="8.10" lengthAdjust="spacingAndGlyphs">60</text>
<line x1="649.60" y1="131.80" x2="649.60" y2="136.80" stroke="#1a1a1a" stroke-width="1.3"/>
<text x="649.60" y="146.50" font-size="9.7" font-weight="bold" fill="#111" text-anchor="middle" textLength="8.10" lengthAdjust="spacingAndGlyphs">80</text>
<text x="477.70" y="161.90" font-size="10.3" font-weight="bold" fill="#111" text-anchor="start" textLength="169.30" lengthAdjust="spacingAndGlyphs">Coffee drinking duration until AAO (years)</text>
<text x="0" y="0" font-size="10.0" font-weight="bold" fill="#111" stroke="#111" stroke-width="0.25" text-anchor="middle" textLength="17.5" lengthAdjust="spacingAndGlyphs" transform="translate(451.30,73.20) rotate(-90)">AAO</text>
<path fill="#1e1e1e" d="M553.1 69.4h1.25v1.25h-1.25zM594.5 54.3h1.25v1.25h-1.25zM577.0 58.9h1.25v1.25h-1.25zM553.1 58.9h1.25v1.25h-1.25zM603.2 56.6h1.25v1.25h-1.25zM535.6 63.6h1.25v1.25h-1.25zM594.5 43.8h1.25v1.25h-1.25zM603.2 46.1h1.25v1.25h-1.25zM577.0 48.4h1.25v1.25h-1.25zM511.6 63.6h1.25v1.25h-1.25zM485.5 55.4h1.25v1.25h-1.25zM577.0 38.0h1.25v1.25h-1.25zM494.2 57.7h1.25v1.25h-1.25zM561.8 83.4h1.25v1.25h-1.25zM537.8 72.9h1.25v1.25h-1.25zM579.2 57.7h1.25v1.25h-1.25zM520.4 77.5h1.25v1.25h-1.25zM561.8 62.4h1.25v1.25h-1.25zM537.8 62.4h1.25v1.25h-1.25zM561.8 51.9h1.25v1.25h-1.25zM537.8 51.9h1.25v1.25h-1.25zM520.4 56.6h1.25v1.25h-1.25zM564.0 71.7h1.25v1.25h-1.25zM496.4 78.7h1.25v1.25h-1.25zM570.5 65.9h1.25v1.25h-1.25zM546.5 65.9h1.25v1.25h-1.25zM496.4 68.2h1.25v1.25h-1.25zM529.1 70.5h1.25v1.25h-1.25zM585.8 56.6h1.25v1.25h-1.25zM529.1 60.1h1.25v1.25h-1.25zM568.3 61.2h1.25v1.25h-1.25zM544.3 61.2h1.25v1.25h-1.25zM585.8 46.1h1.25v1.25h-1.25zM568.3 50.8h1.25v1.25h-1.25zM522.5 77.5h1.25v1.25h-1.25zM553.1 75.2h1.25v1.25h-1.25zM553.1 64.7h1.25v1.25h-1.25zM577.0 64.7h1.25v1.25h-1.25zM594.5 49.6h1.25v1.25h-1.25zM535.6 69.4h1.25v1.25h-1.25zM577.0 54.3h1.25v1.25h-1.25zM627.2 41.4h1.25v1.25h-1.25zM579.2 63.6h1.25v1.25h-1.25zM494.2 42.6h1.25v1.25h-1.25zM537.8 68.2h1.25v1.25h-1.25zM561.8 68.2h1.25v1.25h-1.25zM520.4 72.9h1.25v1.25h-1.25zM561.8 57.7h1.25v1.25h-1.25zM592.3 55.4h1.25v1.25h-1.25zM609.7 40.3h1.25v1.25h-1.25zM592.3 44.9h1.25v1.25h-1.25zM529.1 76.4h1.25v1.25h-1.25zM544.3 67.1h1.25v1.25h-1.25zM568.3 67.1h1.25v1.25h-1.25zM585.8 51.9h1.25v1.25h-1.25zM568.3 56.6h1.25v1.25h-1.25zM585.8 41.4h1.25v1.25h-1.25zM550.9 61.2h1.25v1.25h-1.25zM526.9 61.2h1.25v1.25h-1.25zM568.3 46.1h1.25v1.25h-1.25zM509.5 55.4h1.25v1.25h-1.25zM553.1 81.0h1.25v1.25h-1.25zM553.1 70.5h1.25v1.25h-1.25zM594.5 55.4h1.25v1.25h-1.25zM535.6 75.2h1.25v1.25h-1.25zM485.5 77.5h1.25v1.25h-1.25zM577.0 60.1h1.25v1.25h-1.25zM553.1 60.1h1.25v1.25h-1.25zM535.6 64.7h1.25v1.25h-1.25zM577.0 49.6h1.25v1.25h-1.25zM494.2 69.4h1.25v1.25h-1.25zM601.0 53.1h1.25v1.25h-1.25zM601.0 42.6h1.25v1.25h-1.25zM583.6 47.3h1.25v1.25h-1.25zM520.4 89.2h1.25v1.25h-1.25zM537.8 74.0h1.25v1.25h-1.25zM561.8 74.0h1.25v1.25h-1.25zM520.4 78.7h1.25v1.25h-1.25zM561.8 63.6h1.25v1.25h-1.25zM520.4 68.2h1.25v1.25h-1.25zM559.6 58.9h1.25v1.25h-1.25zM592.3 50.8h1.25v1.25h-1.25zM542.2 53.1h1.25v1.25h-1.25zM609.7 35.6h1.25v1.25h-1.25zM529.1 82.2h1.25v1.25h-1.25zM544.3 72.9h1.25v1.25h-1.25zM483.3 51.9h1.25v1.25h-1.25zM585.8 57.7h1.25v1.25h-1.25zM568.3 72.9h1.25v1.25h-1.25zM544.3 62.4h1.25v1.25h-1.25zM568.3 62.4h1.25v1.25h-1.25zM585.8 47.3h1.25v1.25h-1.25zM526.9 67.1h1.25v1.25h-1.25zM550.9 67.1h1.25v1.25h-1.25zM476.8 69.4h1.25v1.25h-1.25zM550.9 56.6h1.25v1.25h-1.25zM594.5 71.7h1.25v1.25h-1.25zM574.9 39.1h1.25v1.25h-1.25zM485.5 83.4h1.25v1.25h-1.25zM553.1 65.9h1.25v1.25h-1.25zM511.6 81.0h1.25v1.25h-1.25zM535.6 70.5h1.25v1.25h-1.25zM511.6 70.5h1.25v1.25h-1.25zM577.0 55.4h1.25v1.25h-1.25zM553.1 55.4h1.25v1.25h-1.25zM535.6 60.1h1.25v1.25h-1.25zM485.5 62.4h1.25v1.25h-1.25zM511.6 60.1h1.25v1.25h-1.25zM494.2 64.7h1.25v1.25h-1.25zM601.0 48.4h1.25v1.25h-1.25zM487.7 92.7h1.25v1.25h-1.25zM583.6 53.1h1.25v1.25h-1.25zM601.0 38.0h1.25v1.25h-1.25zM566.1 57.7h1.25v1.25h-1.25zM583.6 42.6h1.25v1.25h-1.25zM559.6 64.7h1.25v1.25h-1.25zM542.2 69.4h1.25v1.25h-1.25zM559.6 54.3h1.25v1.25h-1.25zM592.3 56.6h1.25v1.25h-1.25zM518.2 58.9h1.25v1.25h-1.25zM559.6 43.8h1.25v1.25h-1.25zM609.7 41.4h1.25v1.25h-1.25zM592.3 46.1h1.25v1.25h-1.25zM526.9 83.4h1.25v1.25h-1.25zM502.9 83.4h1.25v1.25h-1.25zM544.3 68.2h1.25v1.25h-1.25zM585.8 53.1h1.25v1.25h-1.25zM526.9 72.9h1.25v1.25h-1.25zM476.8 75.2h1.25v1.25h-1.25zM568.3 57.7h1.25v1.25h-1.25zM502.9 72.9h1.25v1.25h-1.25zM550.9 62.4h1.25v1.25h-1.25zM550.9 51.9h1.25v1.25h-1.25zM509.5 56.6h1.25v1.25h-1.25zM509.5 46.1h1.25v1.25h-1.25zM553.1 71.7h1.25v1.25h-1.25zM535.6 76.4h1.25v1.25h-1.25zM535.6 65.9h1.25v1.25h-1.25zM494.2 70.5h1.25v1.25h-1.25zM601.0 54.3h1.25v1.25h-1.25zM601.0 43.8h1.25v1.25h-1.25zM566.1 63.6h1.25v1.25h-1.25zM583.6 48.4h1.25v1.25h-1.25zM607.6 48.4h1.25v1.25h-1.25zM566.1 53.1h1.25v1.25h-1.25zM607.6 38.0h1.25v1.25h-1.25zM533.4 40.3h1.25v1.25h-1.25zM518.2 85.7h1.25v1.25h-1.25zM559.6 70.5h1.25v1.25h-1.25zM542.2 75.2h1.25v1.25h-1.25zM559.6 60.1h1.25v1.25h-1.25zM542.2 64.7h1.25v1.25h-1.25zM559.6 49.6h1.25v1.25h-1.25zM524.7 69.4h1.25v1.25h-1.25zM592.3 51.9h1.25v1.25h-1.25zM631.5 42.6h1.25v1.25h-1.25zM544.3 74.0h1.25v1.25h-1.25zM631.5 32.1h1.25v1.25h-1.25zM550.9 78.7h1.25v1.25h-1.25zM502.9 78.7h1.25v1.25h-1.25zM568.3 63.6h1.25v1.25h-1.25zM544.3 63.6h1.25v1.25h-1.25zM550.9 68.2h1.25v1.25h-1.25zM526.9 68.2h1.25v1.25h-1.25zM550.9 57.7h1.25v1.25h-1.25zM509.5 62.4h1.25v1.25h-1.25zM574.9 61.2h1.25v1.25h-1.25zM616.3 46.1h1.25v1.25h-1.25zM574.9 50.8h1.25v1.25h-1.25zM598.8 50.8h1.25v1.25h-1.25zM557.4 55.4h1.25v1.25h-1.25zM581.4 55.4h1.25v1.25h-1.25zM598.8 40.3h1.25v1.25h-1.25zM494.2 97.3h1.25v1.25h-1.25zM581.4 44.9h1.25v1.25h-1.25zM533.4 67.1h1.25v1.25h-1.25zM601.0 49.6h1.25v1.25h-1.25zM566.1 69.4h1.25v1.25h-1.25zM492.0 71.7h1.25v1.25h-1.25zM583.6 54.3h1.25v1.25h-1.25zM601.0 39.1h1.25v1.25h-1.25zM566.1 58.9h1.25v1.25h-1.25zM540.0 61.2h1.25v1.25h-1.25zM583.6 43.8h1.25v1.25h-1.25zM607.6 43.8h1.25v1.25h-1.25zM492.0 50.8h1.25v1.25h-1.25zM542.2 81.0h1.25v1.25h-1.25zM559.6 65.9h1.25v1.25h-1.25zM500.7 85.7h1.25v1.25h-1.25zM542.2 70.5h1.25v1.25h-1.25zM559.6 55.4h1.25v1.25h-1.25zM524.7 75.2h1.25v1.25h-1.25zM592.3 57.7h1.25v1.25h-1.25zM542.2 60.1h1.25v1.25h-1.25zM483.3 69.4h1.25v1.25h-1.25zM590.1 53.1h1.25v1.25h-1.25zM526.9 95.0h1.25v1.25h-1.25zM596.7 47.3h1.25v1.25h-1.25zM572.7 47.3h1.25v1.25h-1.25zM526.9 74.0h1.25v1.25h-1.25zM502.9 74.0h1.25v1.25h-1.25zM550.9 63.6h1.25v1.25h-1.25zM557.4 71.7h1.25v1.25h-1.25zM574.9 56.6h1.25v1.25h-1.25zM557.4 61.2h1.25v1.25h-1.25zM581.4 61.2h1.25v1.25h-1.25zM574.9 46.1h1.25v1.25h-1.25zM598.8 46.1h1.25v1.25h-1.25zM581.4 50.8h1.25v1.25h-1.25zM557.4 50.8h1.25v1.25h-1.25zM507.3 42.6h1.25v1.25h-1.25zM533.4 72.9h1.25v1.25h-1.25zM601.0 55.4h1.25v1.25h-1.25zM540.0 77.5h1.25v1.25h-1.25zM533.4 62.4h1.25v1.25h-1.25zM583.6 60.1h1.25v1.25h-1.25zM540.0 67.1h1.25v1.25h-1.25zM566.1 64.7h1.25v1.25h-1.25zM583.6 49.6h1.25v1.25h-1.25zM516.0 67.1h1.25v1.25h-1.25zM492.0 67.1h1.25v1.25h-1.25zM566.1 54.3h1.25v1.25h-1.25zM492.0 56.6h1.25v1.25h-1.25zM498.6 71.7h1.25v1.25h-1.25zM474.6 61.2h1.25v1.25h-1.25zM516.0 56.6h1.25v1.25h-1.25zM605.4 44.9h1.25v1.25h-1.25zM559.6 71.7h1.25v1.25h-1.25zM542.2 76.4h1.25v1.25h-1.25zM605.4 34.5h1.25v1.25h-1.25zM559.6 61.2h1.25v1.25h-1.25zM587.9 39.1h1.25v1.25h-1.25zM542.2 65.9h1.25v1.25h-1.25zM524.7 60.1h1.25v1.25h-1.25zM590.1 58.9h1.25v1.25h-1.25zM548.7 63.6h1.25v1.25h-1.25zM590.1 48.4h1.25v1.25h-1.25zM596.7 53.1h1.25v1.25h-1.25zM572.7 53.1h1.25v1.25h-1.25zM550.9 79.9h1.25v1.25h-1.25zM555.2 57.7h1.25v1.25h-1.25zM526.9 79.9h1.25v1.25h-1.25zM596.7 42.6h1.25v1.25h-1.25zM476.8 82.2h1.25v1.25h-1.25zM555.2 47.3h1.25v1.25h-1.25zM574.9 62.4h1.25v1.25h-1.25zM557.4 67.1h1.25v1.25h-1.25zM531.3 69.4h1.25v1.25h-1.25zM574.9 51.9h1.25v1.25h-1.25zM598.8 51.9h1.25v1.25h-1.25zM581.4 56.6h1.25v1.25h-1.25zM557.4 56.6h1.25v1.25h-1.25zM574.9 41.4h1.25v1.25h-1.25zM598.8 41.4h1.25v1.25h-1.25zM581.4 46.1h1.25v1.25h-1.25zM557.4 46.1h1.25v1.25h-1.25zM533.4 89.2h1.25v1.25h-1.25zM533.4 78.7h1.25v1.25h-1.25zM516.0 83.4h1.25v1.25h-1.25zM533.4 68.2h1.25v1.25h-1.25zM540.0 72.9h1.25v1.25h-1.25zM566.1 70.5h1.25v1.25h-1.25zM566.1 60.1h1.25v1.25h-1.25zM516.0 62.4h1.25v1.25h-1.25zM518.2 82.2h1.25v1.25h-1.25zM587.9 44.9h1.25v1.25h-1.25zM542.2 71.7h1.25v1.25h-1.25zM518.2 71.7h1.25v1.25h-1.25zM546.5 49.6h1.25v1.25h-1.25zM548.7 69.4h1.25v1.25h-1.25zM590.1 54.3h1.25v1.25h-1.25zM572.7 58.9h1.25v1.25h-1.25zM548.7 58.9h1.25v1.25h-1.25zM590.1 43.8h1.25v1.25h-1.25zM555.2 63.6h1.25v1.25h-1.25zM596.7 48.4h1.25v1.25h-1.25zM555.2 53.1h1.25v1.25h-1.25zM596.7 38.0h1.25v1.25h-1.25zM531.3 75.2h1.25v1.25h-1.25zM557.4 72.9h1.25v1.25h-1.25zM574.9 57.7h1.25v1.25h-1.25zM598.8 57.7h1.25v1.25h-1.25zM557.4 62.4h1.25v1.25h-1.25zM531.3 64.7h1.25v1.25h-1.25zM598.8 47.3h1.25v1.25h-1.25zM581.4 62.4h1.25v1.25h-1.25zM513.8 69.4h1.25v1.25h-1.25zM581.4 51.9h1.25v1.25h-1.25zM531.3 43.8h1.25v1.25h-1.25zM533.4 74.0h1.25v1.25h-1.25zM629.4 34.5h1.25v1.25h-1.25zM533.4 63.6h1.25v1.25h-1.25zM566.1 65.9h1.25v1.25h-1.25zM492.0 68.2h1.25v1.25h-1.25zM540.0 68.2h1.25v1.25h-1.25zM498.6 62.4h1.25v1.25h-1.25zM564.0 61.2h1.25v1.25h-1.25zM474.6 62.4h1.25v1.25h-1.25zM587.9 50.8h1.25v1.25h-1.25zM570.5 55.4h1.25v1.25h-1.25zM587.9 40.3h1.25v1.25h-1.25zM496.4 47.3h1.25v1.25h-1.25zM590.1 60.1h1.25v1.25h-1.25zM555.2 79.9h1.25v1.25h-1.25zM478.9 41.4h1.25v1.25h-1.25zM548.7 64.7h1.25v1.25h-1.25zM572.7 64.7h1.25v1.25h-1.25zM590.1 49.6h1.25v1.25h-1.25zM555.2 69.4h1.25v1.25h-1.25zM522.5 67.1h1.25v1.25h-1.25zM572.7 54.3h1.25v1.25h-1.25zM596.7 54.3h1.25v1.25h-1.25zM590.1 39.1h1.25v1.25h-1.25zM548.7 54.3h1.25v1.25h-1.25zM555.2 58.9h1.25v1.25h-1.25zM596.7 43.8h1.25v1.25h-1.25zM481.1 61.2h1.25v1.25h-1.25zM505.1 61.2h1.25v1.25h-1.25zM505.1 40.3h1.25v1.25h-1.25zM507.3 81.0h1.25v1.25h-1.25zM620.6 36.8h1.25v1.25h-1.25zM574.9 63.6h1.25v1.25h-1.25zM603.2 41.4h1.25v1.25h-1.25zM557.4 68.2h1.25v1.25h-1.25zM531.3 70.5h1.25v1.25h-1.25zM557.4 57.7h1.25v1.25h-1.25zM581.4 57.7h1.25v1.25h-1.25zM507.3 60.1h1.25v1.25h-1.25zM513.8 64.7h1.25v1.25h-1.25zM579.2 53.1h1.25v1.25h-1.25zM533.4 79.9h1.25v1.25h-1.25zM579.2 42.6h1.25v1.25h-1.25zM540.0 84.5h1.25v1.25h-1.25zM533.4 69.4h1.25v1.25h-1.25zM540.0 74.0h1.25v1.25h-1.25zM516.0 74.0h1.25v1.25h-1.25zM492.0 74.0h1.25v1.25h-1.25zM540.0 63.6h1.25v1.25h-1.25zM605.4 51.9h1.25v1.25h-1.25zM546.5 71.7h1.25v1.25h-1.25zM564.0 56.6h1.25v1.25h-1.25zM587.9 56.6h1.25v1.25h-1.25zM605.4 41.4h1.25v1.25h-1.25zM570.5 61.2h1.25v1.25h-1.25zM546.5 61.2h1.25v1.25h-1.25zM587.9 46.1h1.25v1.25h-1.25zM529.1 65.9h1.25v1.25h-1.25zM570.5 50.8h1.25v1.25h-1.25zM570.5 40.3h1.25v1.25h-1.25zM548.7 70.5h1.25v1.25h-1.25zM522.5 72.9h1.25v1.25h-1.25zM590.1 55.4h1.25v1.25h-1.25zM505.1 77.5h1.25v1.25h-1.25zM572.7 60.1h1.25v1.25h-1.25zM596.7 60.1h1.25v1.25h-1.25zM548.7 60.1h1.25v1.25h-1.25zM555.2 64.7h1.25v1.25h-1.25zM572.7 49.6h1.25v1.25h-1.25zM596.7 49.6h1.25v1.25h-1.25zM555.2 54.3h1.25v1.25h-1.25zM594.5 44.9h1.25v1.25h-1.25zM507.3 86.8h1.25v1.25h-1.25zM603.2 47.3h1.25v1.25h-1.25zM531.3 76.4h1.25v1.25h-1.25zM531.3 65.9h1.25v1.25h-1.25zM507.3 65.9h1.25v1.25h-1.25zM579.2 58.9h1.25v1.25h-1.25zM537.8 63.6h1.25v1.25h-1.25zM579.2 48.4h1.25v1.25h-1.25zM561.8 53.1h1.25v1.25h-1.25zM498.6 74.0h1.25v1.25h-1.25zM564.0 62.4h1.25v1.25h-1.25zM546.5 67.1h1.25v1.25h-1.25zM570.5 67.1h1.25v1.25h-1.25zM587.9 51.9h1.25v1.25h-1.25zM564.0 51.9h1.25v1.25h-1.25zM529.1 71.7h1.25v1.25h-1.25zM570.5 56.6h1.25v1.25h-1.25zM546.5 56.6h1.25v1.25h-1.25zM564.0 41.4h1.25v1.25h-1.25zM529.1 61.2h1.25v1.25h-1.25zM496.4 58.9h1.25v1.25h-1.25zM548.7 76.4h1.25v1.25h-1.25zM522.5 78.7h1.25v1.25h-1.25zM548.7 65.9h1.25v1.25h-1.25zM555.2 70.5h1.25v1.25h-1.25zM522.5 57.7h1.25v1.25h-1.25zM555.2 60.1h1.25v1.25h-1.25zM481.1 62.4h1.25v1.25h-1.25zM594.5 50.8h1.25v1.25h-1.25zM627.2 53.1h1.25v1.25h-1.25zM594.5 40.3h1.25v1.25h-1.25zM603.2 42.6h1.25v1.25h-1.25zM531.3 71.7h1.25v1.25h-1.25zM553.1 34.5h1.25v1.25h-1.25zM561.8 69.4h1.25v1.25h-1.25zM579.2 54.3h1.25v1.25h-1.25zM561.8 58.9h1.25v1.25h-1.25zM487.7 61.2h1.25v1.25h-1.25zM579.2 43.8h1.25v1.25h-1.25zM520.4 63.6h1.25v1.25h-1.25zM520.4 53.1h1.25v1.25h-1.25zM546.5 93.8h1.25v1.25h-1.25zM564.0 68.2h1.25v1.25h-1.25zM546.5 72.9h1.25v1.25h-1.25zM496.4 75.2h1.25v1.25h-1.25zM564.0 57.7h1.25v1.25h-1.25zM587.9 57.7h1.25v1.25h-1.25zM570.5 62.4h1.25v1.25h-1.25zM546.5 62.4h1.25v1.25h-1.25zM587.9 47.3h1.25v1.25h-1.25zM529.1 67.1h1.25v1.25h-1.25zM570.5 51.9h1.25v1.25h-1.25zM478.9 58.9h1.25v1.25h-1.25zM585.8 42.6h1.25v1.25h-1.25zM478.9 48.4h1.25v1.25h-1.25zM505.1 89.2h1.25v1.25h-1.25zM548.7 71.7h1.25v1.25h-1.25zM555.2 65.9h1.25v1.25h-1.25zM505.1 57.7h1.25v1.25h-1.25zM594.5 56.6h1.25v1.25h-1.25zM553.1 61.2h1.25v1.25h-1.25zM594.5 46.1h1.25v1.25h-1.25zM531.3 88.0h1.25v1.25h-1.25zM577.0 50.8h1.25v1.25h-1.25zM603.2 48.4h1.25v1.25h-1.25zM531.3 77.5h1.25v1.25h-1.25zM553.1 50.8h1.25v1.25h-1.25zM511.6 55.4h1.25v1.25h-1.25zM620.6 33.3h1.25v1.25h-1.25zM579.2 60.1h1.25v1.25h-1.25zM537.8 64.7h1.25v1.25h-1.25zM561.8 64.7h1.25v1.25h-1.25zM579.2 49.6h1.25v1.25h-1.25zM520.4 69.4h1.25v1.25h-1.25zM561.8 54.3h1.25v1.25h-1.25zM520.4 58.9h1.25v1.25h-1.25zM609.7 47.3h1.25v1.25h-1.25zM564.0 63.6h1.25v1.25h-1.25zM592.3 41.4h1.25v1.25h-1.25zM529.1 83.4h1.25v1.25h-1.25zM546.5 68.2h1.25v1.25h-1.25zM570.5 68.2h1.25v1.25h-1.25zM570.5 57.7h1.25v1.25h-1.25zM546.5 57.7h1.25v1.25h-1.25zM496.4 49.6h1.25v1.25h-1.25zM585.8 48.4h1.25v1.25h-1.25zM568.3 53.1h1.25v1.25h-1.25zM522.5 79.9h1.25v1.25h-1.25zM618.5 40.3h1.25v1.25h-1.25zM522.5 69.4h1.25v1.25h-1.25zM553.1 67.1h1.25v1.25h-1.25zM594.5 51.9h1.25v1.25h-1.25zM535.6 71.7h1.25v1.25h-1.25zM553.1 56.6h1.25v1.25h-1.25zM577.0 56.6h1.25v1.25h-1.25zM513.8 98.5h1.25v1.25h-1.25zM511.6 61.2h1.25v1.25h-1.25zM577.0 46.1h1.25v1.25h-1.25zM603.2 43.8h1.25v1.25h-1.25zM511.6 50.8h1.25v1.25h-1.25zM487.7 83.4h1.25v1.25h-1.25zM579.2 65.9h1.25v1.25h-1.25zM520.4 85.7h1.25v1.25h-1.25zM561.8 70.5h1.25v1.25h-1.25zM537.8 70.5h1.25v1.25h-1.25zM579.2 55.4h1.25v1.25h-1.25zM520.4 75.2h1.25v1.25h-1.25zM561.8 60.1h1.25v1.25h-1.25zM487.7 62.4h1.25v1.25h-1.25zM520.4 54.3h1.25v1.25h-1.25zM546.5 84.5h1.25v1.25h-1.25zM592.3 47.3h1.25v1.25h-1.25zM546.5 74.0h1.25v1.25h-1.25zM496.4 76.4h1.25v1.25h-1.25zM633.7 32.1h1.25v1.25h-1.25zM529.1 78.7h1.25v1.25h-1.25zM478.9 70.5h1.25v1.25h-1.25zM544.3 69.4h1.25v1.25h-1.25zM585.8 54.3h1.25v1.25h-1.25zM568.3 58.9h1.25v1.25h-1.25zM544.3 58.9h1.25v1.25h-1.25zM526.9 63.6h1.25v1.25h-1.25zM502.9 63.6h1.25v1.25h-1.25zM509.5 57.7h1.25v1.25h-1.25zM553.1 72.9h1.25v1.25h-1.25zM594.5 57.7h1.25v1.25h-1.25zM535.6 77.5h1.25v1.25h-1.25zM553.1 62.4h1.25v1.25h-1.25zM577.0 62.4h1.25v1.25h-1.25zM594.5 47.3h1.25v1.25h-1.25zM535.6 67.1h1.25v1.25h-1.25zM494.2 82.2h1.25v1.25h-1.25zM603.2 49.6h1.25v1.25h-1.25zM577.0 51.9h1.25v1.25h-1.25zM485.5 58.9h1.25v1.25h-1.25zM601.0 44.9h1.25v1.25h-1.25zM494.2 50.8h1.25v1.25h-1.25zM601.0 34.5h1.25v1.25h-1.25zM537.8 76.4h1.25v1.25h-1.25zM520.4 81.0h1.25v1.25h-1.25zM607.6 39.1h1.25v1.25h-1.25zM561.8 65.9h1.25v1.25h-1.25zM537.8 65.9h1.25v1.25h-1.25zM487.7 68.2h1.25v1.25h-1.25zM487.7 57.7h1.25v1.25h-1.25zM559.6 50.8h1.25v1.25h-1.25zM592.3 53.1h1.25v1.25h-1.25zM518.2 55.4h1.25v1.25h-1.25zM592.3 42.6h1.25v1.25h-1.25zM544.3 75.2h1.25v1.25h-1.25zM585.8 60.1h1.25v1.25h-1.25zM544.3 64.7h1.25v1.25h-1.25zM568.3 64.7h1.25v1.25h-1.25zM585.8 49.6h1.25v1.25h-1.25zM550.9 69.4h1.25v1.25h-1.25zM568.3 54.3h1.25v1.25h-1.25zM544.3 54.3h1.25v1.25h-1.25zM550.9 58.9h1.25v1.25h-1.25zM526.9 58.9h1.25v1.25h-1.25zM553.1 78.7h1.25v1.25h-1.25zM553.1 68.2h1.25v1.25h-1.25zM594.5 53.1h1.25v1.25h-1.25zM535.6 72.9h1.25v1.25h-1.25zM511.6 72.9h1.25v1.25h-1.25zM577.0 57.7h1.25v1.25h-1.25zM553.1 57.7h1.25v1.25h-1.25zM535.6 62.4h1.25v1.25h-1.25zM511.6 62.4h1.25v1.25h-1.25zM601.0 50.8h1.25v1.25h-1.25zM583.6 55.4h1.25v1.25h-1.25zM607.6 55.4h1.25v1.25h-1.25zM601.0 40.3h1.25v1.25h-1.25zM494.2 46.1h1.25v1.25h-1.25zM583.6 44.9h1.25v1.25h-1.25zM487.7 74.0h1.25v1.25h-1.25zM566.1 49.6h1.25v1.25h-1.25zM607.6 34.5h1.25v1.25h-1.25zM487.7 63.6h1.25v1.25h-1.25zM559.6 67.1h1.25v1.25h-1.25zM559.6 56.6h1.25v1.25h-1.25zM542.2 61.2h1.25v1.25h-1.25zM592.3 48.4h1.25v1.25h-1.25zM478.9 82.2h1.25v1.25h-1.25zM544.3 81.0h1.25v1.25h-1.25zM544.3 70.5h1.25v1.25h-1.25zM585.8 55.4h1.25v1.25h-1.25zM526.9 75.2h1.25v1.25h-1.25zM550.9 75.2h1.25v1.25h-1.25zM568.3 60.1h1.25v1.25h-1.25zM544.3 60.1h1.25v1.25h-1.25zM585.8 44.9h1.25v1.25h-1.25zM550.9 64.7h1.25v1.25h-1.25zM509.5 69.4h1.25v1.25h-1.25zM550.9 54.3h1.25v1.25h-1.25zM476.8 46.1h1.25v1.25h-1.25zM574.9 47.3h1.25v1.25h-1.25zM553.1 63.6h1.25v1.25h-1.25zM577.0 63.6h1.25v1.25h-1.25zM535.6 68.2h1.25v1.25h-1.25zM511.6 68.2h1.25v1.25h-1.25zM601.0 56.6h1.25v1.25h-1.25zM583.6 61.2h1.25v1.25h-1.25zM601.0 46.1h1.25v1.25h-1.25zM583.6 50.8h1.25v1.25h-1.25zM607.6 50.8h1.25v1.25h-1.25zM566.1 55.4h1.25v1.25h-1.25zM607.6 40.3h1.25v1.25h-1.25zM542.2 77.5h1.25v1.25h-1.25zM518.2 77.5h1.25v1.25h-1.25zM559.6 62.4h1.25v1.25h-1.25zM498.6 41.4h1.25v1.25h-1.25zM542.2 67.1h1.25v1.25h-1.25zM524.7 71.7h1.25v1.25h-1.25zM500.7 71.7h1.25v1.25h-1.25zM542.2 56.6h1.25v1.25h-1.25zM592.3 54.3h1.25v1.25h-1.25zM518.2 56.6h1.25v1.25h-1.25zM592.3 43.8h1.25v1.25h-1.25zM483.3 65.9h1.25v1.25h-1.25zM478.9 88.0h1.25v1.25h-1.25zM500.7 50.8h1.25v1.25h-1.25zM524.7 50.8h1.25v1.25h-1.25zM526.9 81.0h1.25v1.25h-1.25zM568.3 65.9h1.25v1.25h-1.25zM544.3 65.9h1.25v1.25h-1.25zM550.9 70.5h1.25v1.25h-1.25zM502.9 70.5h1.25v1.25h-1.25zM568.3 55.4h1.25v1.25h-1.25zM550.9 60.1h1.25v1.25h-1.25zM553.1 90.3h1.25v1.25h-1.25zM598.8 53.1h1.25v1.25h-1.25zM574.9 53.1h1.25v1.25h-1.25zM598.8 42.6h1.25v1.25h-1.25zM581.4 47.3h1.25v1.25h-1.25zM535.6 74.0h1.25v1.25h-1.25zM566.1 71.7h1.25v1.25h-1.25zM583.6 56.6h1.25v1.25h-1.25zM601.0 41.4h1.25v1.25h-1.25zM566.1 61.2h1.25v1.25h-1.25zM607.6 46.1h1.25v1.25h-1.25zM625.0 31.0h1.25v1.25h-1.25zM566.1 50.8h1.25v1.25h-1.25zM540.0 53.1h1.25v1.25h-1.25zM559.6 78.7h1.25v1.25h-1.25zM474.6 57.7h1.25v1.25h-1.25zM518.2 83.4h1.25v1.25h-1.25zM559.6 68.2h1.25v1.25h-1.25zM559.6 57.7h1.25v1.25h-1.25zM524.7 77.5h1.25v1.25h-1.25zM542.2 62.4h1.25v1.25h-1.25zM559.6 47.3h1.25v1.25h-1.25zM500.7 67.1h1.25v1.25h-1.25zM592.3 49.6h1.25v1.25h-1.25zM590.1 44.9h1.25v1.25h-1.25zM544.3 71.7h1.25v1.25h-1.25zM568.3 71.7h1.25v1.25h-1.25zM550.9 76.4h1.25v1.25h-1.25zM476.8 78.7h1.25v1.25h-1.25zM550.9 65.9h1.25v1.25h-1.25zM526.9 65.9h1.25v1.25h-1.25zM476.8 68.2h1.25v1.25h-1.25zM574.9 58.9h1.25v1.25h-1.25zM557.4 63.6h1.25v1.25h-1.25zM581.4 63.6h1.25v1.25h-1.25zM574.9 48.4h1.25v1.25h-1.25zM598.8 48.4h1.25v1.25h-1.25zM557.4 53.1h1.25v1.25h-1.25zM581.4 53.1h1.25v1.25h-1.25zM535.6 79.9h1.25v1.25h-1.25zM533.4 75.2h1.25v1.25h-1.25zM601.0 47.3h1.25v1.25h-1.25zM540.0 69.4h1.25v1.25h-1.25zM566.1 67.1h1.25v1.25h-1.25zM583.6 51.9h1.25v1.25h-1.25zM566.1 56.6h1.25v1.25h-1.25zM583.6 41.4h1.25v1.25h-1.25zM607.6 41.4h1.25v1.25h-1.25zM559.6 84.5h1.25v1.25h-1.25zM559.6 74.0h1.25v1.25h-1.25zM559.6 63.6h1.25v1.25h-1.25zM524.7 83.4h1.25v1.25h-1.25zM542.2 68.2h1.25v1.25h-1.25zM559.6 53.1h1.25v1.25h-1.25zM524.7 72.9h1.25v1.25h-1.25zM542.2 57.7h1.25v1.25h-1.25zM590.1 61.2h1.25v1.25h-1.25zM590.1 50.8h1.25v1.25h-1.25zM544.3 77.5h1.25v1.25h-1.25zM572.7 55.4h1.25v1.25h-1.25zM590.1 40.3h1.25v1.25h-1.25zM476.8 84.5h1.25v1.25h-1.25zM596.7 44.9h1.25v1.25h-1.25zM476.8 74.0h1.25v1.25h-1.25zM526.9 71.7h1.25v1.25h-1.25zM614.1 29.8h1.25v1.25h-1.25zM574.9 64.7h1.25v1.25h-1.25zM557.4 69.4h1.25v1.25h-1.25zM574.9 54.3h1.25v1.25h-1.25zM616.3 39.1h1.25v1.25h-1.25zM557.4 58.9h1.25v1.25h-1.25zM581.4 58.9h1.25v1.25h-1.25zM598.8 43.8h1.25v1.25h-1.25zM622.8 43.8h1.25v1.25h-1.25zM581.4 48.4h1.25v1.25h-1.25zM557.4 48.4h1.25v1.25h-1.25zM581.4 38.0h1.25v1.25h-1.25zM533.4 81.0h1.25v1.25h-1.25zM533.4 70.5h1.25v1.25h-1.25zM540.0 75.2h1.25v1.25h-1.25zM516.0 75.2h1.25v1.25h-1.25zM566.1 62.4h1.25v1.25h-1.25zM540.0 64.7h1.25v1.25h-1.25zM498.6 69.4h1.25v1.25h-1.25zM566.1 51.9h1.25v1.25h-1.25zM540.0 54.3h1.25v1.25h-1.25zM516.0 43.8h1.25v1.25h-1.25zM559.6 69.4h1.25v1.25h-1.25zM524.7 78.7h1.25v1.25h-1.25zM542.2 63.6h1.25v1.25h-1.25zM518.2 63.6h1.25v1.25h-1.25zM590.1 56.6h1.25v1.25h-1.25zM548.7 61.2h1.25v1.25h-1.25zM572.7 61.2h1.25v1.25h-1.25zM590.1 46.1h1.25v1.25h-1.25zM550.9 88.0h1.25v1.25h-1.25zM572.7 50.8h1.25v1.25h-1.25zM596.7 50.8h1.25v1.25h-1.25zM522.5 53.1h1.25v1.25h-1.25zM555.2 55.4h1.25v1.25h-1.25zM476.8 79.9h1.25v1.25h-1.25zM596.7 40.3h1.25v1.25h-1.25zM481.1 47.3h1.25v1.25h-1.25zM507.3 77.5h1.25v1.25h-1.25zM574.9 60.1h1.25v1.25h-1.25zM598.8 60.1h1.25v1.25h-1.25zM557.4 64.7h1.25v1.25h-1.25zM598.8 49.6h1.25v1.25h-1.25zM581.4 54.3h1.25v1.25h-1.25zM489.8 61.2h1.25v1.25h-1.25zM581.4 43.8h1.25v1.25h-1.25zM533.4 76.4h1.25v1.25h-1.25zM533.4 65.9h1.25v1.25h-1.25zM540.0 70.5h1.25v1.25h-1.25zM566.1 68.2h1.25v1.25h-1.25zM533.4 55.4h1.25v1.25h-1.25zM492.0 70.5h1.25v1.25h-1.25zM492.0 60.1h1.25v1.25h-1.25zM540.0 49.6h1.25v1.25h-1.25zM587.9 53.1h1.25v1.25h-1.25zM564.0 53.1h1.25v1.25h-1.25zM542.2 79.9h1.25v1.25h-1.25zM587.9 42.6h1.25v1.25h-1.25zM570.5 47.3h1.25v1.25h-1.25zM524.7 74.0h1.25v1.25h-1.25zM529.1 51.9h1.25v1.25h-1.25zM500.7 74.0h1.25v1.25h-1.25zM548.7 67.1h1.25v1.25h-1.25zM590.1 51.9h1.25v1.25h-1.25zM555.2 71.7h1.25v1.25h-1.25zM572.7 56.6h1.25v1.25h-1.25zM548.7 56.6h1.25v1.25h-1.25zM555.2 61.2h1.25v1.25h-1.25zM596.7 46.1h1.25v1.25h-1.25zM614.1 31.0h1.25v1.25h-1.25zM531.3 83.4h1.25v1.25h-1.25zM557.4 81.0h1.25v1.25h-1.25zM557.4 70.5h1.25v1.25h-1.25zM531.3 72.9h1.25v1.25h-1.25zM598.8 55.4h1.25v1.25h-1.25zM574.9 55.4h1.25v1.25h-1.25zM513.8 77.5h1.25v1.25h-1.25zM581.4 60.1h1.25v1.25h-1.25zM557.4 60.1h1.25v1.25h-1.25zM489.8 67.1h1.25v1.25h-1.25zM581.4 49.6h1.25v1.25h-1.25zM579.2 44.9h1.25v1.25h-1.25zM629.4 42.6h1.25v1.25h-1.25zM533.4 71.7h1.25v1.25h-1.25zM540.0 76.4h1.25v1.25h-1.25zM540.0 65.9h1.25v1.25h-1.25zM498.6 70.5h1.25v1.25h-1.25zM564.0 69.4h1.25v1.25h-1.25zM605.4 54.3h1.25v1.25h-1.25zM564.0 58.9h1.25v1.25h-1.25zM587.9 58.9h1.25v1.25h-1.25zM605.4 43.8h1.25v1.25h-1.25zM546.5 63.6h1.25v1.25h-1.25zM570.5 63.6h1.25v1.25h-1.25zM587.9 48.4h1.25v1.25h-1.25zM605.4 33.3h1.25v1.25h-1.25zM570.5 53.1h1.25v1.25h-1.25zM587.9 38.0h1.25v1.25h-1.25zM483.3 84.5h1.25v1.25h-1.25zM548.7 72.9h1.25v1.25h-1.25zM572.7 62.4h1.25v1.25h-1.25zM548.7 62.4h1.25v1.25h-1.25zM590.1 47.3h1.25v1.25h-1.25zM555.2 67.1h1.25v1.25h-1.25zM481.1 69.4h1.25v1.25h-1.25zM572.7 51.9h1.25v1.25h-1.25zM596.7 51.9h1.25v1.25h-1.25zM505.1 69.4h1.25v1.25h-1.25zM555.2 56.6h1.25v1.25h-1.25zM614.1 47.3h1.25v1.25h-1.25zM596.7 41.4h1.25v1.25h-1.25zM555.2 46.1h1.25v1.25h-1.25zM557.4 86.8h1.25v1.25h-1.25zM603.2 39.1h1.25v1.25h-1.25zM557.4 65.9h1.25v1.25h-1.25zM531.3 68.2h1.25v1.25h-1.25zM513.8 72.9h1.25v1.25h-1.25zM513.8 62.4h1.25v1.25h-1.25zM579.2 61.2h1.25v1.25h-1.25zM489.8 51.9h1.25v1.25h-1.25zM579.2 50.8h1.25v1.25h-1.25zM561.8 55.4h1.25v1.25h-1.25zM537.8 55.4h1.25v1.25h-1.25zM540.0 82.2h1.25v1.25h-1.25zM516.0 82.2h1.25v1.25h-1.25zM540.0 71.7h1.25v1.25h-1.25zM564.0 64.7h1.25v1.25h-1.25zM605.4 49.6h1.25v1.25h-1.25zM564.0 54.3h1.25v1.25h-1.25zM529.1 74.0h1.25v1.25h-1.25zM605.4 39.1h1.25v1.25h-1.25zM570.5 58.9h1.25v1.25h-1.25zM587.9 54.3h1.25v1.25h-1.25zM546.5 58.9h1.25v1.25h-1.25zM570.5 48.4h1.25v1.25h-1.25zM478.9 55.4h1.25v1.25h-1.25zM548.7 78.7h1.25v1.25h-1.25zM590.1 63.6h1.25v1.25h-1.25zM548.7 68.2h1.25v1.25h-1.25zM572.7 68.2h1.25v1.25h-1.25zM522.5 70.5h1.25v1.25h-1.25zM555.2 72.9h1.25v1.25h-1.25zM572.7 57.7h1.25v1.25h-1.25zM555.2 62.4h1.25v1.25h-1.25zM555.2 51.9h1.25v1.25h-1.25zM594.5 42.6h1.25v1.25h-1.25zM603.2 44.9h1.25v1.25h-1.25zM507.3 63.6h1.25v1.25h-1.25zM513.8 68.2h1.25v1.25h-1.25zM579.2 56.6h1.25v1.25h-1.25zM561.8 61.2h1.25v1.25h-1.25zM629.4 43.8h1.25v1.25h-1.25zM561.8 50.8h1.25v1.25h-1.25zM629.4 33.3h1.25v1.25h-1.25zM546.5 85.7h1.25v1.25h-1.25zM564.0 70.5h1.25v1.25h-1.25zM605.4 55.4h1.25v1.25h-1.25zM546.5 75.2h1.25v1.25h-1.25zM564.0 60.1h1.25v1.25h-1.25zM570.5 64.7h1.25v1.25h-1.25zM546.5 64.7h1.25v1.25h-1.25zM587.9 49.6h1.25v1.25h-1.25zM529.1 69.4h1.25v1.25h-1.25zM496.4 67.1h1.25v1.25h-1.25zM570.5 54.3h1.25v1.25h-1.25zM546.5 54.3h1.25v1.25h-1.25zM529.1 48.4h1.25v1.25h-1.25zM522.5 76.4h1.25v1.25h-1.25zM548.7 74.0h1.25v1.25h-1.25zM481.1 81.0h1.25v1.25h-1.25zM522.5 65.9h1.25v1.25h-1.25zM572.7 63.6h1.25v1.25h-1.25zM555.2 68.2h1.25v1.25h-1.25zM505.1 70.5h1.25v1.25h-1.25zM505.1 49.6h1.25v1.25h-1.25zM594.5 48.4h1.25v1.25h-1.25zM620.6 46.1h1.25v1.25h-1.25zM603.2 50.8h1.25v1.25h-1.25zM577.0 53.1h1.25v1.25h-1.25zM531.3 79.9h1.25v1.25h-1.25zM594.5 38.0h1.25v1.25h-1.25zM553.1 53.1h1.25v1.25h-1.25zM603.2 40.3h1.25v1.25h-1.25zM594.5 27.5h1.25v1.25h-1.25zM489.8 74.0h1.25v1.25h-1.25zM494.2 51.9h1.25v1.25h-1.25zM603.2 29.8h1.25v1.25h-1.25zM561.8 67.1h1.25v1.25h-1.25zM579.2 51.9h1.25v1.25h-1.25zM561.8 56.6h1.25v1.25h-1.25zM487.7 58.9h1.25v1.25h-1.25zM564.0 65.9h1.25v1.25h-1.25zM546.5 70.5h1.25v1.25h-1.25zM587.9 55.4h1.25v1.25h-1.25zM564.0 55.4h1.25v1.25h-1.25zM529.1 75.2h1.25v1.25h-1.25zM546.5 60.1h1.25v1.25h-1.25zM570.5 60.1h1.25v1.25h-1.25zM478.9 67.1h1.25v1.25h-1.25zM570.5 49.6h1.25v1.25h-1.25zM585.8 50.8h1.25v1.25h-1.25zM496.4 51.9h1.25v1.25h-1.25zM548.7 79.9h1.25v1.25h-1.25zM481.1 86.8h1.25v1.25h-1.25zM555.2 84.5h1.25v1.25h-1.25zM618.5 42.6h1.25v1.25h-1.25zM481.1 65.9h1.25v1.25h-1.25zM607.9 29.4h1.25v1.25h-1.25zM610.7 27.4h1.25v1.25h-1.25zM611.8 27.2h1.25v1.25h-1.25zM619.4 30.6h1.25v1.25h-1.25zM621.4 29.9h1.25v1.25h-1.25zM622.9 33.4h1.25v1.25h-1.25zM625.4 30.4h1.25v1.25h-1.25zM626.4 32.4h1.25v1.25h-1.25zM625.4 37.9h1.25v1.25h-1.25zM626.9 38.8h1.25v1.25h-1.25zM622.4 40.4h1.25v1.25h-1.25zM623.4 45.4h1.25v1.25h-1.25zM632.4 45.1h1.25v1.25h-1.25zM636.4 44.4h1.25v1.25h-1.25zM626.4 49.9h1.25v1.25h-1.25zM616.4 48.9h1.25v1.25h-1.25zM596.4 53.4h1.25v1.25h-1.25zM599.4 53.9h1.25v1.25h-1.25zM598.4 56.4h1.25v1.25h-1.25zM603.9 57.4h1.25v1.25h-1.25zM607.1 57.9h1.25v1.25h-1.25zM592.4 57.9h1.25v1.25h-1.25zM591.4 60.6h1.25v1.25h-1.25zM597.4 60.7h1.25v1.25h-1.25zM606.4 61.4h1.25v1.25h-1.25zM609.0 60.4h1.25v1.25h-1.25zM607.6 40.3h1.25v1.25h-1.25zM607.6 39.1h1.25v1.25h-1.25zM607.6 38.0h1.25v1.25h-1.25zM607.6 36.8h1.25v1.25h-1.25zM607.6 35.6h1.25v1.25h-1.25zM609.8 42.6h1.25v1.25h-1.25zM609.8 39.1h1.25v1.25h-1.25zM609.8 36.8h1.25v1.25h-1.25zM609.8 35.6h1.25v1.25h-1.25zM609.8 34.5h1.25v1.25h-1.25zM611.9 41.4h1.25v1.25h-1.25zM611.9 40.3h1.25v1.25h-1.25zM611.9 39.1h1.25v1.25h-1.25zM611.9 38.0h1.25v1.25h-1.25zM611.9 34.5h1.25v1.25h-1.25zM614.1 42.6h1.25v1.25h-1.25zM614.1 41.4h1.25v1.25h-1.25zM614.1 36.8h1.25v1.25h-1.25zM614.1 35.6h1.25v1.25h-1.25zM614.1 34.5h1.25v1.25h-1.25z"/>
<line x1="475.20" y1="81.20" x2="636.50" y2="42.00" stroke="#333" stroke-width="0.85"/>
<text x="650.80" y="102.70" font-size="8.6" font-weight="normal" fill="#262626" text-anchor="start" textLength="23.90" lengthAdjust="spacingAndGlyphs">r=0.69</text>
<text x="650.80" y="111.80" font-size="8.6" font-weight="normal" fill="#262626" text-anchor="start" textLength="33.80" lengthAdjust="spacingAndGlyphs">p&lt;0.0001</text>
<text x="650.80" y="120.90" font-size="8.6" font-weight="normal" fill="#262626" text-anchor="start" textLength="27.30" lengthAdjust="spacingAndGlyphs">n=2051</text>
<text x="175.70" y="197.10" font-size="10.7" font-weight="bold" fill="#111" text-anchor="start" textLength="6.20" lengthAdjust="spacingAndGlyphs" stroke="#111" stroke-width="0.3">E</text>
<line x1="210.80" y1="201.50" x2="210.80" y2="318.40" stroke="#1a1a1a" stroke-width="1.3"/>
<line x1="205.90" y1="318.40" x2="210.80" y2="318.40" stroke="#1a1a1a" stroke-width="1.3"/>
<text x="204.10" y="321.40" font-size="9.7" font-weight="bold" fill="#111" text-anchor="end" textLength="3.70" lengthAdjust="spacingAndGlyphs">0</text>
<line x1="205.90" y1="295.02" x2="210.80" y2="295.02" stroke="#1a1a1a" stroke-width="1.3"/>
<text x="204.10" y="298.02" font-size="9.7" font-weight="bold" fill="#111" text-anchor="end" textLength="7.90" lengthAdjust="spacingAndGlyphs">20</text>
<line x1="205.90" y1="271.64" x2="210.80" y2="271.64" stroke="#1a1a1a" stroke-width="1.3"/>
<text x="204.10" y="274.64" font-size="9.7" font-weight="bold" fill="#111" text-anchor="end" textLength="7.90" lengthAdjust="spacingAndGlyphs">40</text>
<line x1="205.90" y1="248.26" x2="210.80" y2="248.26" stroke="#1a1a1a" stroke-width="1.3"/>
<text x="204.10" y="251.26" font-size="9.7" font-weight="bold" fill="#111" text-anchor="end" textLength="7.90" lengthAdjust="spacingAndGlyphs">60</text>
<line x1="205.90" y1="224.88" x2="210.80" y2="224.88" stroke="#1a1a1a" stroke-width="1.3"/>
<text x="204.10" y="227.88" font-size="9.7" font-weight="bold" fill="#111" text-anchor="end" textLength="7.90" lengthAdjust="spacingAndGlyphs">80</text>
<line x1="205.90" y1="201.50" x2="210.80" y2="201.50" stroke="#1a1a1a" stroke-width="1.3"/>
<text x="204.10" y="204.50" font-size="9.7" font-weight="bold" fill="#111" text-anchor="end" textLength="11.80" lengthAdjust="spacingAndGlyphs">100</text>
<line x1="206.00" y1="318.40" x2="386.80" y2="318.40" stroke="#1a1a1a" stroke-width="1.3"/>
<line x1="213.30" y1="318.40" x2="213.30" y2="323.40" stroke="#1a1a1a" stroke-width="1.3"/>
<text x="213.30" y="332.70" font-size="9.7" font-weight="bold" fill="#111" text-anchor="middle" textLength="3.90" lengthAdjust="spacingAndGlyphs">0</text>
<line x1="270.86" y1="318.40" x2="270.86" y2="323.40" stroke="#1a1a1a" stroke-width="1.3"/>
<text x="270.86" y="332.70" font-size="9.7" font-weight="bold" fill="#111" text-anchor="middle" textLength="8.10" lengthAdjust="spacingAndGlyphs">20</text>
<line x1="328.42" y1="318.40" x2="328.42" y2="323.40" stroke="#1a1a1a" stroke-width="1.3"/>
<text x="328.42" y="332.70" font-size="9.7" font-weight="bold" fill="#111" text-anchor="middle" textLength="8.10" lengthAdjust="spacingAndGlyphs">40</text>
<line x1="385.98" y1="318.40" x2="385.98" y2="323.40" stroke="#1a1a1a" stroke-width="1.3"/>
<text x="385.98" y="332.70" font-size="9.7" font-weight="bold" fill="#111" text-anchor="middle" textLength="8.10" lengthAdjust="spacingAndGlyphs">60</text>
<text x="244.20" y="348.60" font-size="10.3" font-weight="bold" fill="#111" text-anchor="start" textLength="107.80" lengthAdjust="spacingAndGlyphs">Cups of black tea per week</text>
<text x="0" y="0" font-size="10.0" font-weight="bold" fill="#111" stroke="#111" stroke-width="0.25" text-anchor="middle" textLength="17.5" lengthAdjust="spacingAndGlyphs" transform="translate(186.80,259.00) rotate(-90)">AAO</text>
<path fill="#1e1e1e" d="M212.6 282.7h1.4v1.4h-1.4zM212.6 281.5h1.4v1.4h-1.4zM212.6 280.4h1.4v1.4h-1.4zM212.6 278.0h1.4v1.4h-1.4zM212.6 274.5h1.4v1.4h-1.4zM212.6 273.3h1.4v1.4h-1.4zM212.6 272.2h1.4v1.4h-1.4zM212.6 271.0h1.4v1.4h-1.4zM212.6 269.8h1.4v1.4h-1.4zM212.6 268.7h1.4v1.4h-1.4zM212.6 267.5h1.4v1.4h-1.4zM212.6 266.3h1.4v1.4h-1.4zM212.6 265.2h1.4v1.4h-1.4zM212.6 264.0h1.4v1.4h-1.4zM212.6 262.8h1.4v1.4h-1.4zM212.6 261.6h1.4v1.4h-1.4zM212.6 260.5h1.4v1.4h-1.4zM212.6 259.3h1.4v1.4h-1.4zM212.6 258.1h1.4v1.4h-1.4zM212.6 257.0h1.4v1.4h-1.4zM212.6 255.8h1.4v1.4h-1.4zM212.6 254.6h1.4v1.4h-1.4zM212.6 253.5h1.4v1.4h-1.4zM212.6 252.3h1.4v1.4h-1.4zM212.6 251.1h1.4v1.4h-1.4zM212.6 249.9h1.4v1.4h-1.4zM212.6 248.8h1.4v1.4h-1.4zM212.6 247.6h1.4v1.4h-1.4zM212.6 246.4h1.4v1.4h-1.4zM212.6 245.3h1.4v1.4h-1.4zM212.6 244.1h1.4v1.4h-1.4zM212.6 242.9h1.4v1.4h-1.4zM212.6 241.8h1.4v1.4h-1.4zM212.6 240.6h1.4v1.4h-1.4zM212.6 239.4h1.4v1.4h-1.4zM212.6 238.2h1.4v1.4h-1.4zM212.6 237.1h1.4v1.4h-1.4zM212.6 235.9h1.4v1.4h-1.4zM212.6 234.7h1.4v1.4h-1.4zM212.6 233.6h1.4v1.4h-1.4zM212.6 232.4h1.4v1.4h-1.4zM212.6 231.2h1.4v1.4h-1.4zM212.6 230.1h1.4v1.4h-1.4zM212.6 228.9h1.4v1.4h-1.4zM212.6 227.7h1.4v1.4h-1.4zM212.6 226.5h1.4v1.4h-1.4zM212.6 225.4h1.4v1.4h-1.4zM212.6 224.2h1.4v1.4h-1.4zM212.6 223.0h1.4v1.4h-1.4zM212.6 221.9h1.4v1.4h-1.4zM212.6 220.7h1.4v1.4h-1.4zM212.6 219.5h1.4v1.4h-1.4zM212.6 218.4h1.4v1.4h-1.4zM212.6 217.2h1.4v1.4h-1.4zM212.6 216.0h1.4v1.4h-1.4zM212.6 214.8h1.4v1.4h-1.4zM212.6 213.7h1.4v1.4h-1.4zM212.6 212.5h1.4v1.4h-1.4zM215.5 273.3h1.4v1.4h-1.4zM215.5 268.7h1.4v1.4h-1.4zM215.5 266.3h1.4v1.4h-1.4zM215.5 262.8h1.4v1.4h-1.4zM215.5 261.6h1.4v1.4h-1.4zM215.5 260.5h1.4v1.4h-1.4zM215.5 259.3h1.4v1.4h-1.4zM215.5 258.1h1.4v1.4h-1.4zM215.5 257.0h1.4v1.4h-1.4zM215.5 255.8h1.4v1.4h-1.4zM215.5 254.6h1.4v1.4h-1.4zM215.5 253.5h1.4v1.4h-1.4zM215.5 252.3h1.4v1.4h-1.4zM215.5 251.1h1.4v1.4h-1.4zM215.5 249.9h1.4v1.4h-1.4zM215.5 248.8h1.4v1.4h-1.4zM215.5 247.6h1.4v1.4h-1.4zM215.5 246.4h1.4v1.4h-1.4zM215.5 245.3h1.4v1.4h-1.4zM215.5 244.1h1.4v1.4h-1.4zM215.5 242.9h1.4v1.4h-1.4zM215.5 241.8h1.4v1.4h-1.4zM215.5 240.6h1.4v1.4h-1.4zM215.5 239.4h1.4v1.4h-1.4zM215.5 238.2h1.4v1.4h-1.4zM215.5 235.9h1.4v1.4h-1.4zM215.5 234.7h1.4v1.4h-1.4zM215.5 233.6h1.4v1.4h-1.4zM215.5 231.2h1.4v1.4h-1.4zM215.5 230.1h1.4v1.4h-1.4zM215.5 228.9h1.4v1.4h-1.4zM215.5 227.7h1.4v1.4h-1.4zM215.5 225.4h1.4v1.4h-1.4zM215.5 224.2h1.4v1.4h-1.4zM215.5 223.0h1.4v1.4h-1.4zM215.5 219.5h1.4v1.4h-1.4zM218.4 273.3h1.4v1.4h-1.4zM218.4 272.2h1.4v1.4h-1.4zM218.4 267.5h1.4v1.4h-1.4zM218.4 265.2h1.4v1.4h-1.4zM218.4 264.0h1.4v1.4h-1.4zM218.4 262.8h1.4v1.4h-1.4zM218.4 261.6h1.4v1.4h-1.4zM218.4 260.5h1.4v1.4h-1.4zM218.4 259.3h1.4v1.4h-1.4zM218.4 258.1h1.4v1.4h-1.4zM218.4 257.0h1.4v1.4h-1.4zM218.4 255.8h1.4v1.4h-1.4zM218.4 254.6h1.4v1.4h-1.4zM218.4 253.5h1.4v1.4h-1.4zM218.4 252.3h1.4v1.4h-1.4zM218.4 251.1h1.4v1.4h-1.4zM218.4 249.9h1.4v1.4h-1.4zM218.4 248.8h1.4v1.4h-1.4zM218.4 247.6h1.4v1.4h-1.4zM218.4 246.4h1.4v1.4h-1.4zM218.4 245.3h1.4v1.4h-1.4zM218.4 244.1h1.4v1.4h-1.4zM218.4 242.9h1.4v1.4h-1.4zM218.4 241.8h1.4v1.4h-1.4zM218.4 240.6h1.4v1.4h-1.4zM218.4 239.4h1.4v1.4h-1.4zM218.4 238.2h1.4v1.4h-1.4zM218.4 237.1h1.4v1.4h-1.4zM218.4 235.9h1.4v1.4h-1.4zM218.4 234.7h1.4v1.4h-1.4zM218.4 233.6h1.4v1.4h-1.4zM218.4 232.4h1.4v1.4h-1.4zM218.4 231.2h1.4v1.4h-1.4zM218.4 228.9h1.4v1.4h-1.4zM221.2 273.3h1.4v1.4h-1.4zM221.2 266.3h1.4v1.4h-1.4zM221.2 265.2h1.4v1.4h-1.4zM221.2 262.8h1.4v1.4h-1.4zM221.2 260.5h1.4v1.4h-1.4zM221.2 259.3h1.4v1.4h-1.4zM221.2 258.1h1.4v1.4h-1.4zM221.2 257.0h1.4v1.4h-1.4zM221.2 255.8h1.4v1.4h-1.4zM221.2 254.6h1.4v1.4h-1.4zM221.2 253.5h1.4v1.4h-1.4zM221.2 252.3h1.4v1.4h-1.4zM221.2 251.1h1.4v1.4h-1.4zM221.2 249.9h1.4v1.4h-1.4zM221.2 248.8h1.4v1.4h-1.4zM221.2 247.6h1.4v1.4h-1.4zM221.2 246.4h1.4v1.4h-1.4zM221.2 245.3h1.4v1.4h-1.4zM221.2 244.1h1.4v1.4h-1.4zM221.2 242.9h1.4v1.4h-1.4zM221.2 241.8h1.4v1.4h-1.4zM221.2 240.6h1.4v1.4h-1.4zM221.2 239.4h1.4v1.4h-1.4zM221.2 238.2h1.4v1.4h-1.4zM221.2 237.1h1.4v1.4h-1.4zM221.2 235.9h1.4v1.4h-1.4zM221.2 234.7h1.4v1.4h-1.4zM221.2 233.6h1.4v1.4h-1.4zM221.2 232.4h1.4v1.4h-1.4zM221.2 231.2h1.4v1.4h-1.4zM221.2 224.2h1.4v1.4h-1.4zM221.2 223.0h1.4v1.4h-1.4zM221.2 219.5h1.4v1.4h-1.4zM221.2 218.4h1.4v1.4h-1.4zM224.1 271.0h1.4v1.4h-1.4zM224.1 264.0h1.4v1.4h-1.4zM224.1 261.6h1.4v1.4h-1.4zM224.1 260.5h1.4v1.4h-1.4zM224.1 259.3h1.4v1.4h-1.4zM224.1 258.1h1.4v1.4h-1.4zM224.1 257.0h1.4v1.4h-1.4zM224.1 255.8h1.4v1.4h-1.4zM224.1 254.6h1.4v1.4h-1.4zM224.1 253.5h1.4v1.4h-1.4zM224.1 252.3h1.4v1.4h-1.4zM224.1 251.1h1.4v1.4h-1.4zM224.1 249.9h1.4v1.4h-1.4zM224.1 248.8h1.4v1.4h-1.4zM224.1 247.6h1.4v1.4h-1.4zM224.1 246.4h1.4v1.4h-1.4zM224.1 245.3h1.4v1.4h-1.4zM224.1 244.1h1.4v1.4h-1.4zM224.1 242.9h1.4v1.4h-1.4zM224.1 241.8h1.4v1.4h-1.4zM224.1 240.6h1.4v1.4h-1.4zM224.1 239.4h1.4v1.4h-1.4zM224.1 238.2h1.4v1.4h-1.4zM224.1 237.1h1.4v1.4h-1.4zM224.1 235.9h1.4v1.4h-1.4zM224.1 234.7h1.4v1.4h-1.4zM224.1 233.6h1.4v1.4h-1.4zM224.1 232.4h1.4v1.4h-1.4zM224.1 231.2h1.4v1.4h-1.4zM224.1 230.1h1.4v1.4h-1.4zM224.1 228.9h1.4v1.4h-1.4zM224.1 227.7h1.4v1.4h-1.4zM224.1 226.5h1.4v1.4h-1.4zM224.1 223.0h1.4v1.4h-1.4zM224.1 221.9h1.4v1.4h-1.4zM224.1 219.5h1.4v1.4h-1.4zM227.0 269.8h1.4v1.4h-1.4zM227.0 268.7h1.4v1.4h-1.4zM227.0 267.5h1.4v1.4h-1.4zM227.0 266.3h1.4v1.4h-1.4zM227.0 265.2h1.4v1.4h-1.4zM227.0 264.0h1.4v1.4h-1.4zM227.0 262.8h1.4v1.4h-1.4zM227.0 261.6h1.4v1.4h-1.4zM227.0 259.3h1.4v1.4h-1.4zM227.0 258.1h1.4v1.4h-1.4zM227.0 257.0h1.4v1.4h-1.4zM227.0 255.8h1.4v1.4h-1.4zM227.0 254.6h1.4v1.4h-1.4zM227.0 253.5h1.4v1.4h-1.4zM227.0 252.3h1.4v1.4h-1.4zM227.0 251.1h1.4v1.4h-1.4zM227.0 249.9h1.4v1.4h-1.4zM227.0 248.8h1.4v1.4h-1.4zM227.0 247.6h1.4v1.4h-1.4zM227.0 246.4h1.4v1.4h-1.4zM227.0 245.3h1.4v1.4h-1.4zM227.0 244.1h1.4v1.4h-1.4zM227.0 242.9h1.4v1.4h-1.4zM227.0 241.8h1.4v1.4h-1.4zM227.0 240.6h1.4v1.4h-1.4zM227.0 239.4h1.4v1.4h-1.4zM227.0 238.2h1.4v1.4h-1.4zM227.0 237.1h1.4v1.4h-1.4zM227.0 235.9h1.4v1.4h-1.4zM227.0 234.7h1.4v1.4h-1.4zM227.0 233.6h1.4v1.4h-1.4zM227.0 232.4h1.4v1.4h-1.4zM227.0 231.2h1.4v1.4h-1.4zM227.0 230.1h1.4v1.4h-1.4zM227.0 228.9h1.4v1.4h-1.4zM227.0 225.4h1.4v1.4h-1.4zM227.0 224.2h1.4v1.4h-1.4zM227.0 223.0h1.4v1.4h-1.4zM227.0 220.7h1.4v1.4h-1.4zM227.0 219.5h1.4v1.4h-1.4zM229.9 274.5h1.4v1.4h-1.4zM229.9 273.3h1.4v1.4h-1.4zM229.9 267.5h1.4v1.4h-1.4zM229.9 266.3h1.4v1.4h-1.4zM229.9 265.2h1.4v1.4h-1.4zM229.9 262.8h1.4v1.4h-1.4zM229.9 261.6h1.4v1.4h-1.4zM229.9 260.5h1.4v1.4h-1.4zM229.9 259.3h1.4v1.4h-1.4zM229.9 258.1h1.4v1.4h-1.4zM229.9 257.0h1.4v1.4h-1.4zM229.9 255.8h1.4v1.4h-1.4zM229.9 254.6h1.4v1.4h-1.4zM229.9 253.5h1.4v1.4h-1.4zM229.9 252.3h1.4v1.4h-1.4zM229.9 251.1h1.4v1.4h-1.4zM229.9 249.9h1.4v1.4h-1.4zM229.9 248.8h1.4v1.4h-1.4zM229.9 247.6h1.4v1.4h-1.4zM229.9 246.4h1.4v1.4h-1.4zM229.9 245.3h1.4v1.4h-1.4zM229.9 244.1h1.4v1.4h-1.4zM229.9 242.9h1.4v1.4h-1.4zM229.9 241.8h1.4v1.4h-1.4zM229.9 240.6h1.4v1.4h-1.4zM229.9 239.4h1.4v1.4h-1.4zM229.9 238.2h1.4v1.4h-1.4zM229.9 237.1h1.4v1.4h-1.4zM229.9 235.9h1.4v1.4h-1.4zM229.9 234.7h1.4v1.4h-1.4zM229.9 233.6h1.4v1.4h-1.4zM229.9 232.4h1.4v1.4h-1.4zM229.9 231.2h1.4v1.4h-1.4zM229.9 230.1h1.4v1.4h-1.4zM229.9 228.9h1.4v1.4h-1.4zM229.9 227.7h1.4v1.4h-1.4zM229.9 226.5h1.4v1.4h-1.4zM229.9 224.2h1.4v1.4h-1.4zM229.9 223.0h1.4v1.4h-1.4zM229.9 221.9h1.4v1.4h-1.4zM229.9 218.4h1.4v1.4h-1.4zM232.7 275.7h1.4v1.4h-1.4zM232.7 266.3h1.4v1.4h-1.4zM232.7 265.2h1.4v1.4h-1.4zM232.7 264.0h1.4v1.4h-1.4zM232.7 262.8h1.4v1.4h-1.4zM232.7 261.6h1.4v1.4h-1.4zM232.7 260.5h1.4v1.4h-1.4zM232.7 259.3h1.4v1.4h-1.4zM232.7 258.1h1.4v1.4h-1.4zM232.7 257.0h1.4v1.4h-1.4zM232.7 255.8h1.4v1.4h-1.4zM232.7 254.6h1.4v1.4h-1.4zM232.7 253.5h1.4v1.4h-1.4zM232.7 252.3h1.4v1.4h-1.4zM232.7 251.1h1.4v1.4h-1.4zM232.7 249.9h1.4v1.4h-1.4zM232.7 248.8h1.4v1.4h-1.4zM232.7 247.6h1.4v1.4h-1.4zM232.7 246.4h1.4v1.4h-1.4zM232.7 245.3h1.4v1.4h-1.4zM232.7 244.1h1.4v1.4h-1.4zM232.7 242.9h1.4v1.4h-1.4zM232.7 241.8h1.4v1.4h-1.4zM232.7 240.6h1.4v1.4h-1.4zM232.7 239.4h1.4v1.4h-1.4zM232.7 238.2h1.4v1.4h-1.4zM232.7 237.1h1.4v1.4h-1.4zM232.7 234.7h1.4v1.4h-1.4zM232.7 233.6h1.4v1.4h-1.4zM232.7 232.4h1.4v1.4h-1.4zM232.7 231.2h1.4v1.4h-1.4zM232.7 228.9h1.4v1.4h-1.4zM232.7 226.5h1.4v1.4h-1.4zM232.7 225.4h1.4v1.4h-1.4zM232.7 221.9h1.4v1.4h-1.4zM232.7 219.5h1.4v1.4h-1.4zM235.6 273.3h1.4v1.4h-1.4zM235.6 259.3h1.4v1.4h-1.4zM235.6 257.0h1.4v1.4h-1.4zM235.6 255.8h1.4v1.4h-1.4zM235.6 253.5h1.4v1.4h-1.4zM235.6 251.1h1.4v1.4h-1.4zM235.6 248.8h1.4v1.4h-1.4zM235.6 247.6h1.4v1.4h-1.4zM235.6 246.4h1.4v1.4h-1.4zM235.6 245.3h1.4v1.4h-1.4zM235.6 244.1h1.4v1.4h-1.4zM235.6 242.9h1.4v1.4h-1.4zM235.6 241.8h1.4v1.4h-1.4zM235.6 240.6h1.4v1.4h-1.4zM235.6 239.4h1.4v1.4h-1.4zM235.6 238.2h1.4v1.4h-1.4zM235.6 237.1h1.4v1.4h-1.4zM235.6 233.6h1.4v1.4h-1.4zM235.6 231.2h1.4v1.4h-1.4zM235.6 226.5h1.4v1.4h-1.4zM235.6 224.2h1.4v1.4h-1.4zM235.6 223.0h1.4v1.4h-1.4zM238.5 252.3h1.4v1.4h-1.4zM238.5 251.1h1.4v1.4h-1.4zM238.5 247.6h1.4v1.4h-1.4zM238.5 238.2h1.4v1.4h-1.4zM241.4 271.0h1.4v1.4h-1.4zM241.4 269.8h1.4v1.4h-1.4zM241.4 267.5h1.4v1.4h-1.4zM241.4 264.0h1.4v1.4h-1.4zM241.4 261.6h1.4v1.4h-1.4zM241.4 260.5h1.4v1.4h-1.4zM241.4 259.3h1.4v1.4h-1.4zM241.4 258.1h1.4v1.4h-1.4zM241.4 257.0h1.4v1.4h-1.4zM241.4 255.8h1.4v1.4h-1.4zM241.4 254.6h1.4v1.4h-1.4zM241.4 253.5h1.4v1.4h-1.4zM241.4 252.3h1.4v1.4h-1.4zM241.4 251.1h1.4v1.4h-1.4zM241.4 249.9h1.4v1.4h-1.4zM241.4 248.8h1.4v1.4h-1.4zM241.4 247.6h1.4v1.4h-1.4zM241.4 246.4h1.4v1.4h-1.4zM241.4 245.3h1.4v1.4h-1.4zM241.4 244.1h1.4v1.4h-1.4zM241.4 242.9h1.4v1.4h-1.4zM241.4 241.8h1.4v1.4h-1.4zM241.4 240.6h1.4v1.4h-1.4zM241.4 239.4h1.4v1.4h-1.4zM241.4 238.2h1.4v1.4h-1.4zM241.4 237.1h1.4v1.4h-1.4zM241.4 235.9h1.4v1.4h-1.4zM241.4 234.7h1.4v1.4h-1.4zM241.4 233.6h1.4v1.4h-1.4zM241.4 232.4h1.4v1.4h-1.4zM241.4 231.2h1.4v1.4h-1.4zM241.4 225.4h1.4v1.4h-1.4zM241.4 224.2h1.4v1.4h-1.4zM247.1 264.0h1.4v1.4h-1.4zM247.1 262.8h1.4v1.4h-1.4zM247.1 260.5h1.4v1.4h-1.4zM247.1 258.1h1.4v1.4h-1.4zM247.1 257.0h1.4v1.4h-1.4zM247.1 255.8h1.4v1.4h-1.4zM247.1 254.6h1.4v1.4h-1.4zM247.1 253.5h1.4v1.4h-1.4zM247.1 252.3h1.4v1.4h-1.4zM247.1 251.1h1.4v1.4h-1.4zM247.1 249.9h1.4v1.4h-1.4zM247.1 247.6h1.4v1.4h-1.4zM247.1 245.3h1.4v1.4h-1.4zM247.1 244.1h1.4v1.4h-1.4zM247.1 241.8h1.4v1.4h-1.4zM247.1 240.6h1.4v1.4h-1.4zM247.1 239.4h1.4v1.4h-1.4zM247.1 238.2h1.4v1.4h-1.4zM247.1 237.1h1.4v1.4h-1.4zM247.1 235.9h1.4v1.4h-1.4zM247.1 232.4h1.4v1.4h-1.4zM252.9 274.5h1.4v1.4h-1.4zM252.9 269.8h1.4v1.4h-1.4zM252.9 267.5h1.4v1.4h-1.4zM252.9 266.3h1.4v1.4h-1.4zM252.9 265.2h1.4v1.4h-1.4zM252.9 264.0h1.4v1.4h-1.4zM252.9 261.6h1.4v1.4h-1.4zM252.9 260.5h1.4v1.4h-1.4zM252.9 259.3h1.4v1.4h-1.4zM252.9 258.1h1.4v1.4h-1.4zM252.9 257.0h1.4v1.4h-1.4zM252.9 255.8h1.4v1.4h-1.4zM252.9 254.6h1.4v1.4h-1.4zM252.9 253.5h1.4v1.4h-1.4zM252.9 252.3h1.4v1.4h-1.4zM252.9 251.1h1.4v1.4h-1.4zM252.9 249.9h1.4v1.4h-1.4zM252.9 248.8h1.4v1.4h-1.4zM252.9 247.6h1.4v1.4h-1.4zM252.9 246.4h1.4v1.4h-1.4zM252.9 245.3h1.4v1.4h-1.4zM252.9 244.1h1.4v1.4h-1.4zM252.9 242.9h1.4v1.4h-1.4zM252.9 241.8h1.4v1.4h-1.4zM252.9 240.6h1.4v1.4h-1.4zM252.9 239.4h1.4v1.4h-1.4zM252.9 238.2h1.4v1.4h-1.4zM252.9 237.1h1.4v1.4h-1.4zM252.9 235.9h1.4v1.4h-1.4zM252.9 234.7h1.4v1.4h-1.4zM252.9 233.6h1.4v1.4h-1.4zM252.9 232.4h1.4v1.4h-1.4zM252.9 228.9h1.4v1.4h-1.4zM252.9 227.7h1.4v1.4h-1.4zM252.9 224.2h1.4v1.4h-1.4zM252.9 223.0h1.4v1.4h-1.4zM255.8 275.7h1.4v1.4h-1.4zM255.8 274.5h1.4v1.4h-1.4zM255.8 266.3h1.4v1.4h-1.4zM255.8 265.2h1.4v1.4h-1.4zM255.8 262.8h1.4v1.4h-1.4zM255.8 259.3h1.4v1.4h-1.4zM255.8 257.0h1.4v1.4h-1.4zM255.8 254.6h1.4v1.4h-1.4zM255.8 253.5h1.4v1.4h-1.4zM255.8 252.3h1.4v1.4h-1.4zM255.8 251.1h1.4v1.4h-1.4zM255.8 248.8h1.4v1.4h-1.4zM255.8 246.4h1.4v1.4h-1.4zM255.8 245.3h1.4v1.4h-1.4zM255.8 241.8h1.4v1.4h-1.4zM255.8 240.6h1.4v1.4h-1.4zM255.8 239.4h1.4v1.4h-1.4zM255.8 237.1h1.4v1.4h-1.4zM255.8 234.7h1.4v1.4h-1.4zM255.8 232.4h1.4v1.4h-1.4zM255.8 230.1h1.4v1.4h-1.4zM255.8 228.9h1.4v1.4h-1.4zM255.8 223.0h1.4v1.4h-1.4zM258.6 265.2h1.4v1.4h-1.4zM258.6 264.0h1.4v1.4h-1.4zM258.6 257.0h1.4v1.4h-1.4zM258.6 255.8h1.4v1.4h-1.4zM258.6 254.6h1.4v1.4h-1.4zM258.6 249.9h1.4v1.4h-1.4zM258.6 248.8h1.4v1.4h-1.4zM258.6 237.1h1.4v1.4h-1.4zM264.4 266.3h1.4v1.4h-1.4zM264.4 253.5h1.4v1.4h-1.4zM264.4 252.3h1.4v1.4h-1.4zM264.4 251.1h1.4v1.4h-1.4zM264.4 249.9h1.4v1.4h-1.4zM264.4 241.8h1.4v1.4h-1.4zM264.4 238.2h1.4v1.4h-1.4zM264.4 237.1h1.4v1.4h-1.4zM264.4 235.9h1.4v1.4h-1.4zM264.4 233.6h1.4v1.4h-1.4zM264.4 227.7h1.4v1.4h-1.4zM264.4 224.2h1.4v1.4h-1.4zM270.2 264.0h1.4v1.4h-1.4zM270.2 259.3h1.4v1.4h-1.4zM270.2 258.1h1.4v1.4h-1.4zM270.2 257.0h1.4v1.4h-1.4zM270.2 255.8h1.4v1.4h-1.4zM270.2 254.6h1.4v1.4h-1.4zM270.2 253.5h1.4v1.4h-1.4zM270.2 252.3h1.4v1.4h-1.4zM270.2 251.1h1.4v1.4h-1.4zM270.2 249.9h1.4v1.4h-1.4zM270.2 247.6h1.4v1.4h-1.4zM270.2 245.3h1.4v1.4h-1.4zM270.2 244.1h1.4v1.4h-1.4zM270.2 242.9h1.4v1.4h-1.4zM270.2 241.8h1.4v1.4h-1.4zM270.2 240.6h1.4v1.4h-1.4zM270.2 239.4h1.4v1.4h-1.4zM270.2 238.2h1.4v1.4h-1.4zM270.2 237.1h1.4v1.4h-1.4zM270.2 235.9h1.4v1.4h-1.4zM270.2 234.7h1.4v1.4h-1.4zM270.2 233.6h1.4v1.4h-1.4zM270.2 231.2h1.4v1.4h-1.4zM273.0 264.0h1.4v1.4h-1.4zM273.0 262.8h1.4v1.4h-1.4zM273.0 260.5h1.4v1.4h-1.4zM273.0 259.3h1.4v1.4h-1.4zM273.0 258.1h1.4v1.4h-1.4zM273.0 257.0h1.4v1.4h-1.4zM273.0 255.8h1.4v1.4h-1.4zM273.0 254.6h1.4v1.4h-1.4zM273.0 253.5h1.4v1.4h-1.4zM273.0 252.3h1.4v1.4h-1.4zM273.0 251.1h1.4v1.4h-1.4zM273.0 248.8h1.4v1.4h-1.4zM273.0 247.6h1.4v1.4h-1.4zM273.0 245.3h1.4v1.4h-1.4zM273.0 244.1h1.4v1.4h-1.4zM273.0 242.9h1.4v1.4h-1.4zM273.0 241.8h1.4v1.4h-1.4zM273.0 240.6h1.4v1.4h-1.4zM273.0 238.2h1.4v1.4h-1.4zM273.0 237.1h1.4v1.4h-1.4zM273.0 234.7h1.4v1.4h-1.4zM273.0 233.6h1.4v1.4h-1.4zM276.1 271.9h1.4v1.4h-1.4zM276.5 241.0h1.4v1.4h-1.4zM281.9 238.1h1.4v1.4h-1.4zM285.0 224.3h1.4v1.4h-1.4zM285.0 236.4h1.4v1.4h-1.4zM285.0 239.8h1.4v1.4h-1.4zM285.0 244.1h1.4v1.4h-1.4zM285.0 246.5h1.4v1.4h-1.4zM285.0 253.8h1.4v1.4h-1.4zM285.0 262.3h1.4v1.4h-1.4zM285.0 265.4h1.4v1.4h-1.4zM285.0 273.8h1.4v1.4h-1.4zM293.0 218.1h1.4v1.4h-1.4zM293.0 233.8h1.4v1.4h-1.4zM293.0 236.3h1.4v1.4h-1.4zM293.0 239.8h1.4v1.4h-1.4zM293.0 242.3h1.4v1.4h-1.4zM293.0 245.3h1.4v1.4h-1.4zM293.0 249.3h1.4v1.4h-1.4zM293.0 252.3h1.4v1.4h-1.4zM293.0 256.2h1.4v1.4h-1.4zM293.0 265.9h1.4v1.4h-1.4zM299.0 233.3h1.4v1.4h-1.4zM299.0 235.8h1.4v1.4h-1.4zM299.0 238.3h1.4v1.4h-1.4zM299.0 240.8h1.4v1.4h-1.4zM299.0 243.3h1.4v1.4h-1.4zM299.0 246.3h1.4v1.4h-1.4zM299.0 248.8h1.4v1.4h-1.4zM299.0 251.3h1.4v1.4h-1.4zM299.0 267.6h1.4v1.4h-1.4zM299.0 271.4h1.4v1.4h-1.4zM313.5 229.6h1.4v1.4h-1.4zM313.5 239.8h1.4v1.4h-1.4zM313.5 242.9h1.4v1.4h-1.4zM313.5 245.8h1.4v1.4h-1.4zM313.5 247.3h1.4v1.4h-1.4zM313.5 253.8h1.4v1.4h-1.4zM313.5 256.2h1.4v1.4h-1.4zM313.5 260.3h1.4v1.4h-1.4zM313.5 265.4h1.4v1.4h-1.4zM327.7 247.3h1.4v1.4h-1.4zM327.7 255.7h1.4v1.4h-1.4zM333.8 244.1h1.4v1.4h-1.4zM333.8 252.6h1.4v1.4h-1.4zM356.7 256.9h1.4v1.4h-1.4zM356.7 266.6h1.4v1.4h-1.4zM373.6 226.5h1.4v1.4h-1.4zM373.6 238.1h1.4v1.4h-1.4zM212.6 294.4h1.4v1.4h-1.4zM212.6 293.2h1.4v1.4h-1.4zM212.6 292.1h1.4v1.4h-1.4zM212.6 289.7h1.4v1.4h-1.4zM212.6 288.6h1.4v1.4h-1.4zM212.6 287.4h1.4v1.4h-1.4zM212.6 286.2h1.4v1.4h-1.4zM212.6 285.0h1.4v1.4h-1.4zM212.6 283.9h1.4v1.4h-1.4zM212.6 282.7h1.4v1.4h-1.4zM212.6 281.5h1.4v1.4h-1.4zM212.6 280.4h1.4v1.4h-1.4zM212.6 279.2h1.4v1.4h-1.4zM212.6 278.0h1.4v1.4h-1.4zM212.6 276.9h1.4v1.4h-1.4zM212.6 275.7h1.4v1.4h-1.4zM212.6 274.5h1.4v1.4h-1.4zM224.5 297.3h1.4v1.4h-1.4zM221.0 284.4h1.4v1.4h-1.4zM224.5 285.1h1.4v1.4h-1.4zM227.1 285.6h1.4v1.4h-1.4z"/>
<line x1="213.00" y1="248.50" x2="374.30" y2="248.50" stroke="#333" stroke-width="0.85"/>
<text x="387.00" y="289.50" font-size="8.6" font-weight="normal" fill="#262626" text-anchor="start" textLength="25.50" lengthAdjust="spacingAndGlyphs">r=-0.01</text>
<text x="387.00" y="298.60" font-size="8.6" font-weight="normal" fill="#262626" text-anchor="start" textLength="35.20" lengthAdjust="spacingAndGlyphs">p=0.3885</text>
<text x="387.00" y="307.70" font-size="8.6" font-weight="normal" fill="#262626" text-anchor="start" textLength="27.30" lengthAdjust="spacingAndGlyphs">n=3781</text>
<text x="439.20" y="197.10" font-size="10.7" font-weight="bold" fill="#111" text-anchor="start" textLength="5.80" lengthAdjust="spacingAndGlyphs" stroke="#111" stroke-width="0.3">F</text>
<line x1="474.20" y1="201.30" x2="474.20" y2="314.70" stroke="#1a1a1a" stroke-width="1.3"/>
<line x1="469.30" y1="314.70" x2="474.20" y2="314.70" stroke="#1a1a1a" stroke-width="1.3"/>
<text x="468.10" y="317.70" font-size="9.7" font-weight="bold" fill="#111" text-anchor="end" textLength="3.70" lengthAdjust="spacingAndGlyphs">0</text>
<line x1="469.30" y1="292.02" x2="474.20" y2="292.02" stroke="#1a1a1a" stroke-width="1.3"/>
<text x="468.10" y="295.02" font-size="9.7" font-weight="bold" fill="#111" text-anchor="end" textLength="7.90" lengthAdjust="spacingAndGlyphs">20</text>
<line x1="469.30" y1="269.34" x2="474.20" y2="269.34" stroke="#1a1a1a" stroke-width="1.3"/>
<text x="468.10" y="272.34" font-size="9.7" font-weight="bold" fill="#111" text-anchor="end" textLength="7.90" lengthAdjust="spacingAndGlyphs">40</text>
<line x1="469.30" y1="246.66" x2="474.20" y2="246.66" stroke="#1a1a1a" stroke-width="1.3"/>
<text x="468.10" y="249.66" font-size="9.7" font-weight="bold" fill="#111" text-anchor="end" textLength="7.90" lengthAdjust="spacingAndGlyphs">60</text>
<line x1="469.30" y1="223.98" x2="474.20" y2="223.98" stroke="#1a1a1a" stroke-width="1.3"/>
<text x="468.10" y="226.98" font-size="9.7" font-weight="bold" fill="#111" text-anchor="end" textLength="7.90" lengthAdjust="spacingAndGlyphs">80</text>
<line x1="469.30" y1="201.30" x2="474.20" y2="201.30" stroke="#1a1a1a" stroke-width="1.3"/>
<text x="468.10" y="204.30" font-size="9.7" font-weight="bold" fill="#111" text-anchor="end" textLength="11.80" lengthAdjust="spacingAndGlyphs">100</text>
<line x1="469.50" y1="314.70" x2="645.80" y2="314.70" stroke="#1a1a1a" stroke-width="1.3"/>
<line x1="474.30" y1="314.70" x2="474.30" y2="319.70" stroke="#1a1a1a" stroke-width="1.3"/>
<text x="474.30" y="329.30" font-size="9.7" font-weight="bold" fill="#111" text-anchor="middle" textLength="3.90" lengthAdjust="spacingAndGlyphs">0</text>
<line x1="517.12" y1="314.70" x2="517.12" y2="319.70" stroke="#1a1a1a" stroke-width="1.3"/>
<text x="517.12" y="329.30" font-size="9.7" font-weight="bold" fill="#111" text-anchor="middle" textLength="8.10" lengthAdjust="spacingAndGlyphs">20</text>
<line x1="559.94" y1="314.70" x2="559.94" y2="319.70" stroke="#1a1a1a" stroke-width="1.3"/>
<text x="559.94" y="329.30" font-size="9.7" font-weight="bold" fill="#111" text-anchor="middle" textLength="8.10" lengthAdjust="spacingAndGlyphs">40</text>
<line x1="602.76" y1="314.70" x2="602.76" y2="319.70" stroke="#1a1a1a" stroke-width="1.3"/>
<text x="602.76" y="329.30" font-size="9.7" font-weight="bold" fill="#111" text-anchor="middle" textLength="8.10" lengthAdjust="spacingAndGlyphs">60</text>
<line x1="645.58" y1="314.70" x2="645.58" y2="319.70" stroke="#1a1a1a" stroke-width="1.3"/>
<text x="645.58" y="329.30" font-size="9.7" font-weight="bold" fill="#111" text-anchor="middle" textLength="8.10" lengthAdjust="spacingAndGlyphs">80</text>
<text x="471.80" y="344.40" font-size="10.3" font-weight="bold" fill="#111" text-anchor="start" textLength="176.60" lengthAdjust="spacingAndGlyphs">Black tea drinking duration until AAO (years)</text>
<text x="0" y="0" font-size="10.0" font-weight="bold" fill="#111" stroke="#111" stroke-width="0.25" text-anchor="middle" textLength="17.5" lengthAdjust="spacingAndGlyphs" transform="translate(451.30,257.20) rotate(-90)">AAO</text>
<path fill="#1e1e1e" d="M574.3 254.0h1.25v1.25h-1.25zM591.4 239.2h1.25v1.25h-1.25zM574.3 243.8h1.25v1.25h-1.25zM600.0 241.5h1.25v1.25h-1.25zM591.4 229.0h1.25v1.25h-1.25zM574.3 233.6h1.25v1.25h-1.25zM600.0 221.1h1.25v1.25h-1.25zM510.1 227.9h1.25v1.25h-1.25zM492.9 232.4h1.25v1.25h-1.25zM559.3 257.4h1.25v1.25h-1.25zM576.4 242.6h1.25v1.25h-1.25zM535.8 247.2h1.25v1.25h-1.25zM576.4 232.4h1.25v1.25h-1.25zM486.5 229.0h1.25v1.25h-1.25zM527.2 265.3h1.25v1.25h-1.25zM544.3 250.6h1.25v1.25h-1.25zM527.2 255.1h1.25v1.25h-1.25zM495.1 242.6h1.25v1.25h-1.25zM527.2 244.9h1.25v1.25h-1.25zM565.7 246.0h1.25v1.25h-1.25zM542.2 246.0h1.25v1.25h-1.25zM582.9 231.3h1.25v1.25h-1.25zM478.0 237.0h1.25v1.25h-1.25zM565.7 235.8h1.25v1.25h-1.25zM548.6 240.4h1.25v1.25h-1.25zM480.1 266.4h1.25v1.25h-1.25zM548.6 220.0h1.25v1.25h-1.25zM600.0 247.2h1.25v1.25h-1.25zM574.3 249.4h1.25v1.25h-1.25zM591.4 234.7h1.25v1.25h-1.25zM533.6 254.0h1.25v1.25h-1.25zM550.8 249.4h1.25v1.25h-1.25zM600.0 237.0h1.25v1.25h-1.25zM550.8 239.2h1.25v1.25h-1.25zM492.9 258.5h1.25v1.25h-1.25zM484.4 246.0h1.25v1.25h-1.25zM510.1 233.6h1.25v1.25h-1.25zM559.3 273.3h1.25v1.25h-1.25zM533.6 233.6h1.25v1.25h-1.25zM559.3 252.8h1.25v1.25h-1.25zM486.5 255.1h1.25v1.25h-1.25zM604.3 216.6h1.25v1.25h-1.25zM486.5 244.9h1.25v1.25h-1.25zM486.5 234.7h1.25v1.25h-1.25zM589.3 240.4h1.25v1.25h-1.25zM478.0 273.3h1.25v1.25h-1.25zM495.1 258.5h1.25v1.25h-1.25zM478.0 263.0h1.25v1.25h-1.25zM582.9 247.2h1.25v1.25h-1.25zM565.7 251.7h1.25v1.25h-1.25zM525.1 246.0h1.25v1.25h-1.25zM565.7 231.3h1.25v1.25h-1.25zM480.1 272.1h1.25v1.25h-1.25zM591.4 250.6h1.25v1.25h-1.25zM591.4 240.4h1.25v1.25h-1.25zM533.6 259.6h1.25v1.25h-1.25zM574.3 244.9h1.25v1.25h-1.25zM550.8 244.9h1.25v1.25h-1.25zM510.1 249.4h1.25v1.25h-1.25zM533.6 239.2h1.25v1.25h-1.25zM597.9 238.1h1.25v1.25h-1.25zM492.9 243.8h1.25v1.25h-1.25zM621.4 227.9h1.25v1.25h-1.25zM576.4 254.0h1.25v1.25h-1.25zM535.8 258.5h1.25v1.25h-1.25zM490.8 218.8h1.25v1.25h-1.25zM557.2 243.8h1.25v1.25h-1.25zM630.0 221.1h1.25v1.25h-1.25zM499.4 242.6h1.25v1.25h-1.25zM582.9 252.8h1.25v1.25h-1.25zM542.2 257.4h1.25v1.25h-1.25zM565.7 257.4h1.25v1.25h-1.25zM582.9 242.6h1.25v1.25h-1.25zM501.5 261.9h1.25v1.25h-1.25zM565.7 247.2h1.25v1.25h-1.25zM582.9 232.4h1.25v1.25h-1.25zM548.6 251.7h1.25v1.25h-1.25zM501.5 251.7h1.25v1.25h-1.25zM548.6 241.5h1.25v1.25h-1.25zM507.9 246.0h1.25v1.25h-1.25zM612.8 230.2h1.25v1.25h-1.25zM574.3 260.8h1.25v1.25h-1.25zM484.4 257.4h1.25v1.25h-1.25zM550.8 240.4h1.25v1.25h-1.25zM574.3 240.4h1.25v1.25h-1.25zM484.4 247.2h1.25v1.25h-1.25zM580.7 248.3h1.25v1.25h-1.25zM621.4 233.6h1.25v1.25h-1.25zM580.7 238.1h1.25v1.25h-1.25zM563.6 242.6h1.25v1.25h-1.25zM580.7 227.9h1.25v1.25h-1.25zM490.8 234.7h1.25v1.25h-1.25zM557.2 249.4h1.25v1.25h-1.25zM589.3 251.7h1.25v1.25h-1.25zM557.2 239.2h1.25v1.25h-1.25zM589.3 241.5h1.25v1.25h-1.25zM540.0 243.8h1.25v1.25h-1.25zM522.9 248.3h1.25v1.25h-1.25zM582.9 248.3h1.25v1.25h-1.25zM548.6 267.6h1.25v1.25h-1.25zM522.9 227.9h1.25v1.25h-1.25zM542.2 252.8h1.25v1.25h-1.25zM565.7 252.8h1.25v1.25h-1.25zM582.9 238.1h1.25v1.25h-1.25zM548.6 257.4h1.25v1.25h-1.25zM475.8 259.6h1.25v1.25h-1.25zM565.7 242.6h1.25v1.25h-1.25zM501.5 247.2h1.25v1.25h-1.25zM525.1 247.2h1.25v1.25h-1.25zM548.6 247.2h1.25v1.25h-1.25zM548.6 237.0h1.25v1.25h-1.25zM475.8 229.0h1.25v1.25h-1.25zM550.8 266.4h1.25v1.25h-1.25zM595.7 230.2h1.25v1.25h-1.25zM510.1 271.0h1.25v1.25h-1.25zM550.8 256.2h1.25v1.25h-1.25zM533.6 260.8h1.25v1.25h-1.25zM510.1 260.8h1.25v1.25h-1.25zM510.1 250.6h1.25v1.25h-1.25zM533.6 250.6h1.25v1.25h-1.25zM492.9 255.1h1.25v1.25h-1.25zM580.7 254.0h1.25v1.25h-1.25zM492.9 244.9h1.25v1.25h-1.25zM580.7 243.8h1.25v1.25h-1.25zM531.5 235.8h1.25v1.25h-1.25zM621.4 218.8h1.25v1.25h-1.25zM563.6 238.1h1.25v1.25h-1.25zM557.2 255.1h1.25v1.25h-1.25zM540.0 259.6h1.25v1.25h-1.25zM557.2 244.9h1.25v1.25h-1.25zM557.2 234.7h1.25v1.25h-1.25zM522.9 254.0h1.25v1.25h-1.25zM589.3 237.0h1.25v1.25h-1.25zM516.5 239.2h1.25v1.25h-1.25zM499.4 243.8h1.25v1.25h-1.25zM499.4 223.4h1.25v1.25h-1.25zM565.7 248.3h1.25v1.25h-1.25zM548.6 252.8h1.25v1.25h-1.25zM501.5 242.6h1.25v1.25h-1.25zM578.6 230.2h1.25v1.25h-1.25zM484.4 258.5h1.25v1.25h-1.25zM555.0 220.0h1.25v1.25h-1.25zM621.4 234.7h1.25v1.25h-1.25zM580.7 239.2h1.25v1.25h-1.25zM563.6 243.8h1.25v1.25h-1.25zM557.2 271.0h1.25v1.25h-1.25zM540.0 265.3h1.25v1.25h-1.25zM557.2 250.6h1.25v1.25h-1.25zM540.0 255.1h1.25v1.25h-1.25zM516.5 255.1h1.25v1.25h-1.25zM522.9 259.6h1.25v1.25h-1.25zM589.3 242.6h1.25v1.25h-1.25zM499.4 239.2h1.25v1.25h-1.25zM522.9 239.2h1.25v1.25h-1.25zM542.2 264.2h1.25v1.25h-1.25zM522.9 229.0h1.25v1.25h-1.25zM587.1 227.9h1.25v1.25h-1.25zM565.7 254.0h1.25v1.25h-1.25zM501.5 258.5h1.25v1.25h-1.25zM548.6 248.3h1.25v1.25h-1.25zM507.9 252.8h1.25v1.25h-1.25zM572.2 251.7h1.25v1.25h-1.25zM555.0 256.2h1.25v1.25h-1.25zM595.7 241.5h1.25v1.25h-1.25zM572.2 241.5h1.25v1.25h-1.25zM555.0 246.0h1.25v1.25h-1.25zM578.6 246.0h1.25v1.25h-1.25zM505.8 238.1h1.25v1.25h-1.25zM484.4 264.2h1.25v1.25h-1.25zM531.5 257.4h1.25v1.25h-1.25zM490.8 261.9h1.25v1.25h-1.25zM580.7 244.9h1.25v1.25h-1.25zM537.9 251.7h1.25v1.25h-1.25zM490.8 251.7h1.25v1.25h-1.25zM580.7 234.7h1.25v1.25h-1.25zM604.3 234.7h1.25v1.25h-1.25zM497.2 256.2h1.25v1.25h-1.25zM563.6 239.2h1.25v1.25h-1.25zM490.8 241.5h1.25v1.25h-1.25zM514.4 241.5h1.25v1.25h-1.25zM557.2 276.7h1.25v1.25h-1.25zM473.7 246.0h1.25v1.25h-1.25zM557.2 256.2h1.25v1.25h-1.25zM557.2 246.0h1.25v1.25h-1.25zM516.5 250.6h1.25v1.25h-1.25zM587.1 233.6h1.25v1.25h-1.25zM570.0 238.1h1.25v1.25h-1.25zM593.6 238.1h1.25v1.25h-1.25zM548.6 264.2h1.25v1.25h-1.25zM475.8 256.2h1.25v1.25h-1.25zM507.9 258.5h1.25v1.25h-1.25zM572.2 257.4h1.25v1.25h-1.25zM555.0 261.9h1.25v1.25h-1.25zM572.2 247.2h1.25v1.25h-1.25zM612.8 232.4h1.25v1.25h-1.25zM555.0 251.7h1.25v1.25h-1.25zM619.3 237.0h1.25v1.25h-1.25zM578.6 241.5h1.25v1.25h-1.25zM488.7 238.1h1.25v1.25h-1.25zM580.7 250.6h1.25v1.25h-1.25zM490.8 257.4h1.25v1.25h-1.25zM563.6 244.9h1.25v1.25h-1.25zM537.9 247.2h1.25v1.25h-1.25zM497.2 251.7h1.25v1.25h-1.25zM514.4 237.0h1.25v1.25h-1.25zM540.0 266.4h1.25v1.25h-1.25zM602.1 225.6h1.25v1.25h-1.25zM516.5 256.2h1.25v1.25h-1.25zM540.0 256.2h1.25v1.25h-1.25zM482.2 255.1h1.25v1.25h-1.25zM587.1 239.2h1.25v1.25h-1.25zM482.2 244.9h1.25v1.25h-1.25zM570.0 243.8h1.25v1.25h-1.25zM520.8 246.0h1.25v1.25h-1.25zM593.6 233.6h1.25v1.25h-1.25zM570.0 233.6h1.25v1.25h-1.25zM503.6 230.2h1.25v1.25h-1.25zM578.6 247.2h1.25v1.25h-1.25zM555.0 247.2h1.25v1.25h-1.25zM505.8 249.4h1.25v1.25h-1.25zM529.3 239.2h1.25v1.25h-1.25zM555.0 237.0h1.25v1.25h-1.25zM505.8 239.2h1.25v1.25h-1.25zM490.8 263.0h1.25v1.25h-1.25zM563.6 250.6h1.25v1.25h-1.25zM490.8 252.8h1.25v1.25h-1.25zM585.0 246.0h1.25v1.25h-1.25zM561.5 246.0h1.25v1.25h-1.25zM602.1 231.3h1.25v1.25h-1.25zM585.0 235.8h1.25v1.25h-1.25zM544.3 240.4h1.25v1.25h-1.25zM522.9 266.4h1.25v1.25h-1.25zM544.3 230.2h1.25v1.25h-1.25zM527.2 234.7h1.25v1.25h-1.25zM587.1 244.9h1.25v1.25h-1.25zM587.1 234.7h1.25v1.25h-1.25zM552.9 254.0h1.25v1.25h-1.25zM503.6 246.0h1.25v1.25h-1.25zM617.1 222.2h1.25v1.25h-1.25zM572.2 248.3h1.25v1.25h-1.25zM555.0 252.8h1.25v1.25h-1.25zM529.3 255.1h1.25v1.25h-1.25zM488.7 259.6h1.25v1.25h-1.25zM555.0 242.6h1.25v1.25h-1.25zM529.3 244.9h1.25v1.25h-1.25zM505.8 244.9h1.25v1.25h-1.25zM488.7 249.4h1.25v1.25h-1.25zM576.4 238.1h1.25v1.25h-1.25zM473.7 273.3h1.25v1.25h-1.25zM537.9 258.5h1.25v1.25h-1.25zM490.8 258.5h1.25v1.25h-1.25zM561.5 261.9h1.25v1.25h-1.25zM561.5 251.7h1.25v1.25h-1.25zM602.1 237.0h1.25v1.25h-1.25zM544.3 256.2h1.25v1.25h-1.25zM585.0 241.5h1.25v1.25h-1.25zM567.9 246.0h1.25v1.25h-1.25zM585.0 231.3h1.25v1.25h-1.25zM567.9 235.8h1.25v1.25h-1.25zM527.2 240.4h1.25v1.25h-1.25zM478.0 242.6h1.25v1.25h-1.25zM544.3 225.6h1.25v1.25h-1.25zM587.1 250.6h1.25v1.25h-1.25zM587.1 240.4h1.25v1.25h-1.25zM593.6 244.9h1.25v1.25h-1.25zM570.0 244.9h1.25v1.25h-1.25zM552.9 249.4h1.25v1.25h-1.25zM503.6 251.7h1.25v1.25h-1.25zM552.9 229.0h1.25v1.25h-1.25zM529.3 260.8h1.25v1.25h-1.25zM488.7 255.1h1.25v1.25h-1.25zM576.4 243.8h1.25v1.25h-1.25zM535.8 248.3h1.25v1.25h-1.25zM576.4 233.6h1.25v1.25h-1.25zM537.9 274.4h1.25v1.25h-1.25zM625.7 231.3h1.25v1.25h-1.25zM559.3 238.1h1.25v1.25h-1.25zM497.2 268.7h1.25v1.25h-1.25zM561.5 257.4h1.25v1.25h-1.25zM544.3 261.9h1.25v1.25h-1.25zM561.5 247.2h1.25v1.25h-1.25zM544.3 251.7h1.25v1.25h-1.25zM585.0 237.0h1.25v1.25h-1.25zM567.9 241.5h1.25v1.25h-1.25zM495.1 243.8h1.25v1.25h-1.25zM478.0 248.3h1.25v1.25h-1.25zM527.2 235.8h1.25v1.25h-1.25zM503.6 267.6h1.25v1.25h-1.25zM615.0 224.5h1.25v1.25h-1.25zM552.9 255.1h1.25v1.25h-1.25zM593.6 240.4h1.25v1.25h-1.25zM503.6 247.2h1.25v1.25h-1.25zM520.8 232.4h1.25v1.25h-1.25zM503.6 237.0h1.25v1.25h-1.25zM591.4 235.8h1.25v1.25h-1.25zM600.0 227.9h1.25v1.25h-1.25zM529.3 256.2h1.25v1.25h-1.25zM576.4 259.6h1.25v1.25h-1.25zM512.2 250.6h1.25v1.25h-1.25zM576.4 249.4h1.25v1.25h-1.25zM559.3 254.0h1.25v1.25h-1.25zM535.8 254.0h1.25v1.25h-1.25zM576.4 239.2h1.25v1.25h-1.25zM625.7 226.8h1.25v1.25h-1.25zM561.5 252.8h1.25v1.25h-1.25zM544.3 257.4h1.25v1.25h-1.25zM561.5 242.6h1.25v1.25h-1.25zM585.0 242.6h1.25v1.25h-1.25zM567.9 247.2h1.25v1.25h-1.25zM585.0 232.4h1.25v1.25h-1.25zM478.0 243.8h1.25v1.25h-1.25zM632.1 225.6h1.25v1.25h-1.25zM570.0 256.2h1.25v1.25h-1.25zM552.9 260.8h1.25v1.25h-1.25zM520.8 248.3h1.25v1.25h-1.25zM552.9 250.6h1.25v1.25h-1.25zM617.1 239.2h1.25v1.25h-1.25zM574.3 246.0h1.25v1.25h-1.25zM591.4 231.3h1.25v1.25h-1.25zM600.0 233.6h1.25v1.25h-1.25zM535.8 259.6h1.25v1.25h-1.25zM559.3 249.4h1.25v1.25h-1.25zM559.3 239.2h1.25v1.25h-1.25zM561.5 258.5h1.25v1.25h-1.25zM567.9 252.8h1.25v1.25h-1.25zM544.3 242.6h1.25v1.25h-1.25zM582.9 243.8h1.25v1.25h-1.25zM478.0 249.4h1.25v1.25h-1.25zM565.7 238.1h1.25v1.25h-1.25zM542.2 238.1h1.25v1.25h-1.25zM542.2 227.9h1.25v1.25h-1.25zM615.0 225.6h1.25v1.25h-1.25zM525.1 232.4h1.25v1.25h-1.25zM501.5 232.4h1.25v1.25h-1.25zM550.8 261.9h1.25v1.25h-1.25zM550.8 251.7h1.25v1.25h-1.25zM574.3 251.7h1.25v1.25h-1.25zM510.1 256.2h1.25v1.25h-1.25zM574.3 241.5h1.25v1.25h-1.25zM600.0 239.2h1.25v1.25h-1.25zM510.1 246.0h1.25v1.25h-1.25zM600.0 229.0h1.25v1.25h-1.25zM550.8 231.3h1.25v1.25h-1.25zM510.1 235.8h1.25v1.25h-1.25zM559.3 265.3h1.25v1.25h-1.25zM576.4 250.6h1.25v1.25h-1.25zM492.9 230.2h1.25v1.25h-1.25zM559.3 255.1h1.25v1.25h-1.25zM576.4 240.4h1.25v1.25h-1.25zM559.3 244.9h1.25v1.25h-1.25zM486.5 247.2h1.25v1.25h-1.25zM535.8 234.7h1.25v1.25h-1.25zM557.2 230.2h1.25v1.25h-1.25zM589.3 232.4h1.25v1.25h-1.25zM478.0 255.1h1.25v1.25h-1.25zM582.9 239.2h1.25v1.25h-1.25zM478.0 244.9h1.25v1.25h-1.25zM565.7 243.8h1.25v1.25h-1.25zM525.1 238.1h1.25v1.25h-1.25zM480.1 264.2h1.25v1.25h-1.25zM548.6 227.9h1.25v1.25h-1.25zM574.3 247.2h1.25v1.25h-1.25zM550.8 247.2h1.25v1.25h-1.25zM591.4 232.4h1.25v1.25h-1.25zM510.1 251.7h1.25v1.25h-1.25zM600.0 234.7h1.25v1.25h-1.25zM574.3 237.0h1.25v1.25h-1.25zM492.9 246.0h1.25v1.25h-1.25zM484.4 233.6h1.25v1.25h-1.25zM533.6 231.3h1.25v1.25h-1.25zM518.6 275.5h1.25v1.25h-1.25zM518.6 265.3h1.25v1.25h-1.25zM559.3 250.6h1.25v1.25h-1.25zM486.5 252.8h1.25v1.25h-1.25zM518.6 255.1h1.25v1.25h-1.25zM630.0 223.4h1.25v1.25h-1.25zM582.9 244.9h1.25v1.25h-1.25zM525.1 254.0h1.25v1.25h-1.25zM565.7 239.2h1.25v1.25h-1.25zM548.6 243.8h1.25v1.25h-1.25zM525.1 243.8h1.25v1.25h-1.25zM548.6 233.6h1.25v1.25h-1.25zM501.5 233.6h1.25v1.25h-1.25zM507.9 238.1h1.25v1.25h-1.25zM591.4 248.3h1.25v1.25h-1.25zM550.8 252.8h1.25v1.25h-1.25zM591.4 238.1h1.25v1.25h-1.25zM484.4 259.6h1.25v1.25h-1.25zM574.3 242.6h1.25v1.25h-1.25zM597.9 235.8h1.25v1.25h-1.25zM492.9 241.5h1.25v1.25h-1.25zM580.7 230.2h1.25v1.25h-1.25zM518.6 271.0h1.25v1.25h-1.25zM486.5 258.5h1.25v1.25h-1.25zM540.0 246.0h1.25v1.25h-1.25zM516.5 246.0h1.25v1.25h-1.25zM630.0 229.0h1.25v1.25h-1.25zM542.2 275.5h1.25v1.25h-1.25zM565.7 255.1h1.25v1.25h-1.25zM582.9 240.4h1.25v1.25h-1.25zM501.5 259.6h1.25v1.25h-1.25zM565.7 244.9h1.25v1.25h-1.25zM475.8 251.7h1.25v1.25h-1.25zM525.1 249.4h1.25v1.25h-1.25zM548.6 249.4h1.25v1.25h-1.25zM507.9 243.8h1.25v1.25h-1.25zM533.6 263.0h1.25v1.25h-1.25zM574.3 248.3h1.25v1.25h-1.25zM484.4 255.1h1.25v1.25h-1.25zM510.1 252.8h1.25v1.25h-1.25zM533.6 252.8h1.25v1.25h-1.25zM492.9 257.4h1.25v1.25h-1.25zM533.6 242.6h1.25v1.25h-1.25zM597.9 241.5h1.25v1.25h-1.25zM580.7 246.0h1.25v1.25h-1.25zM597.9 231.3h1.25v1.25h-1.25zM486.5 274.4h1.25v1.25h-1.25zM580.7 235.8h1.25v1.25h-1.25zM604.3 225.6h1.25v1.25h-1.25zM473.7 226.8h1.25v1.25h-1.25zM540.0 251.7h1.25v1.25h-1.25zM522.9 256.2h1.25v1.25h-1.25zM499.4 246.0h1.25v1.25h-1.25zM478.0 272.1h1.25v1.25h-1.25zM542.2 271.0h1.25v1.25h-1.25zM499.4 235.8h1.25v1.25h-1.25zM525.1 275.5h1.25v1.25h-1.25zM548.6 265.3h1.25v1.25h-1.25zM565.7 250.6h1.25v1.25h-1.25zM542.2 250.6h1.25v1.25h-1.25zM482.2 230.2h1.25v1.25h-1.25zM548.6 255.1h1.25v1.25h-1.25zM548.6 244.9h1.25v1.25h-1.25zM507.9 249.4h1.25v1.25h-1.25zM548.6 234.7h1.25v1.25h-1.25zM525.1 234.7h1.25v1.25h-1.25zM507.9 239.2h1.25v1.25h-1.25zM595.7 238.1h1.25v1.25h-1.25zM572.2 238.1h1.25v1.25h-1.25zM533.6 258.5h1.25v1.25h-1.25zM484.4 250.6h1.25v1.25h-1.25zM492.9 252.8h1.25v1.25h-1.25zM531.5 243.8h1.25v1.25h-1.25zM604.3 241.5h1.25v1.25h-1.25zM563.6 246.0h1.25v1.25h-1.25zM490.8 248.3h1.25v1.25h-1.25zM604.3 231.3h1.25v1.25h-1.25zM580.7 231.3h1.25v1.25h-1.25zM537.9 238.1h1.25v1.25h-1.25zM490.8 238.1h1.25v1.25h-1.25zM473.7 242.6h1.25v1.25h-1.25zM540.0 267.6h1.25v1.25h-1.25zM557.2 252.8h1.25v1.25h-1.25zM634.2 218.8h1.25v1.25h-1.25zM589.3 244.9h1.25v1.25h-1.25zM540.0 247.2h1.25v1.25h-1.25zM516.5 237.0h1.25v1.25h-1.25zM542.2 256.2h1.25v1.25h-1.25zM507.9 265.3h1.25v1.25h-1.25zM548.6 250.6h1.25v1.25h-1.25zM501.5 250.6h1.25v1.25h-1.25zM475.8 242.6h1.25v1.25h-1.25zM595.7 243.8h1.25v1.25h-1.25zM555.0 248.3h1.25v1.25h-1.25zM578.6 248.3h1.25v1.25h-1.25zM595.7 233.6h1.25v1.25h-1.25zM572.2 233.6h1.25v1.25h-1.25zM555.0 238.1h1.25v1.25h-1.25zM578.6 238.1h1.25v1.25h-1.25zM533.6 264.2h1.25v1.25h-1.25zM505.8 240.4h1.25v1.25h-1.25zM580.7 257.4h1.25v1.25h-1.25zM580.7 247.2h1.25v1.25h-1.25zM597.9 232.4h1.25v1.25h-1.25zM563.6 251.7h1.25v1.25h-1.25zM514.4 254.0h1.25v1.25h-1.25zM580.7 237.0h1.25v1.25h-1.25zM557.2 258.5h1.25v1.25h-1.25zM540.0 263.0h1.25v1.25h-1.25zM557.2 248.3h1.25v1.25h-1.25zM540.0 252.8h1.25v1.25h-1.25zM540.0 242.6h1.25v1.25h-1.25zM587.1 246.0h1.25v1.25h-1.25zM482.2 251.7h1.25v1.25h-1.25zM499.4 237.0h1.25v1.25h-1.25zM587.1 235.8h1.25v1.25h-1.25zM542.2 261.9h1.25v1.25h-1.25zM546.5 240.4h1.25v1.25h-1.25zM482.2 231.3h1.25v1.25h-1.25zM475.8 258.5h1.25v1.25h-1.25zM475.8 248.3h1.25v1.25h-1.25zM595.7 249.4h1.25v1.25h-1.25zM572.2 249.4h1.25v1.25h-1.25zM578.6 254.0h1.25v1.25h-1.25zM555.0 254.0h1.25v1.25h-1.25zM619.3 239.2h1.25v1.25h-1.25zM555.0 243.8h1.25v1.25h-1.25zM529.3 246.0h1.25v1.25h-1.25zM595.7 229.0h1.25v1.25h-1.25zM572.2 229.0h1.25v1.25h-1.25zM505.8 235.8h1.25v1.25h-1.25zM531.5 275.5h1.25v1.25h-1.25zM512.2 230.2h1.25v1.25h-1.25zM531.5 255.1h1.25v1.25h-1.25zM514.4 259.6h1.25v1.25h-1.25zM580.7 242.6h1.25v1.25h-1.25zM563.6 247.2h1.25v1.25h-1.25zM537.9 249.4h1.25v1.25h-1.25zM531.5 234.7h1.25v1.25h-1.25zM497.2 254.0h1.25v1.25h-1.25zM497.2 243.8h1.25v1.25h-1.25zM473.7 243.8h1.25v1.25h-1.25zM540.0 268.7h1.25v1.25h-1.25zM516.5 268.7h1.25v1.25h-1.25zM557.2 254.0h1.25v1.25h-1.25zM561.5 232.4h1.25v1.25h-1.25zM540.0 248.3h1.25v1.25h-1.25zM522.9 242.6h1.25v1.25h-1.25zM570.0 246.0h1.25v1.25h-1.25zM610.7 231.3h1.25v1.25h-1.25zM593.6 235.8h1.25v1.25h-1.25zM552.9 240.4h1.25v1.25h-1.25zM520.8 227.9h1.25v1.25h-1.25zM503.6 232.4h1.25v1.25h-1.25zM572.2 255.1h1.25v1.25h-1.25zM555.0 259.6h1.25v1.25h-1.25zM572.2 244.9h1.25v1.25h-1.25zM555.0 249.4h1.25v1.25h-1.25zM595.7 234.7h1.25v1.25h-1.25zM512.2 256.2h1.25v1.25h-1.25zM505.8 241.5h1.25v1.25h-1.25zM531.5 250.6h1.25v1.25h-1.25zM563.6 252.8h1.25v1.25h-1.25zM531.5 240.4h1.25v1.25h-1.25zM537.9 244.9h1.25v1.25h-1.25zM602.1 243.8h1.25v1.25h-1.25zM473.7 249.4h1.25v1.25h-1.25zM497.2 249.4h1.25v1.25h-1.25zM537.9 234.7h1.25v1.25h-1.25zM602.1 233.6h1.25v1.25h-1.25zM585.0 238.1h1.25v1.25h-1.25zM561.5 238.1h1.25v1.25h-1.25zM540.0 264.2h1.25v1.25h-1.25zM567.9 232.4h1.25v1.25h-1.25zM544.3 232.4h1.25v1.25h-1.25zM546.5 261.9h1.25v1.25h-1.25zM587.1 247.2h1.25v1.25h-1.25zM546.5 251.7h1.25v1.25h-1.25zM587.1 237.0h1.25v1.25h-1.25zM552.9 256.2h1.25v1.25h-1.25zM570.0 241.5h1.25v1.25h-1.25zM475.8 269.8h1.25v1.25h-1.25zM593.6 231.3h1.25v1.25h-1.25zM480.1 238.1h1.25v1.25h-1.25zM572.2 260.8h1.25v1.25h-1.25zM480.1 227.9h1.25v1.25h-1.25zM505.8 267.6h1.25v1.25h-1.25zM572.2 250.6h1.25v1.25h-1.25zM529.3 257.4h1.25v1.25h-1.25zM505.8 257.4h1.25v1.25h-1.25zM572.2 240.4h1.25v1.25h-1.25zM578.6 244.9h1.25v1.25h-1.25zM555.0 244.9h1.25v1.25h-1.25zM576.4 230.2h1.25v1.25h-1.25zM531.5 256.2h1.25v1.25h-1.25zM488.7 221.1h1.25v1.25h-1.25zM537.9 260.8h1.25v1.25h-1.25zM563.6 258.5h1.25v1.25h-1.25zM537.9 250.6h1.25v1.25h-1.25zM497.2 255.1h1.25v1.25h-1.25zM561.5 254.0h1.25v1.25h-1.25zM561.5 243.8h1.25v1.25h-1.25zM585.0 243.8h1.25v1.25h-1.25zM602.1 229.0h1.25v1.25h-1.25zM585.0 233.6h1.25v1.25h-1.25zM546.5 267.6h1.25v1.25h-1.25zM478.0 234.7h1.25v1.25h-1.25zM520.8 259.6h1.25v1.25h-1.25zM570.0 247.2h1.25v1.25h-1.25zM546.5 247.2h1.25v1.25h-1.25zM587.1 232.4h1.25v1.25h-1.25zM480.1 254.0h1.25v1.25h-1.25zM520.8 249.4h1.25v1.25h-1.25zM570.0 237.0h1.25v1.25h-1.25zM546.5 237.0h1.25v1.25h-1.25zM520.8 239.2h1.25v1.25h-1.25zM552.9 241.5h1.25v1.25h-1.25zM503.6 233.6h1.25v1.25h-1.25zM555.0 250.6h1.25v1.25h-1.25zM578.6 250.6h1.25v1.25h-1.25zM488.7 247.2h1.25v1.25h-1.25zM576.4 235.8h1.25v1.25h-1.25zM531.5 261.9h1.25v1.25h-1.25zM559.3 240.4h1.25v1.25h-1.25zM518.6 234.7h1.25v1.25h-1.25zM486.5 222.2h1.25v1.25h-1.25zM559.3 220.0h1.25v1.25h-1.25zM585.0 249.4h1.25v1.25h-1.25zM585.0 239.2h1.25v1.25h-1.25zM567.9 243.8h1.25v1.25h-1.25zM546.5 263.0h1.25v1.25h-1.25zM478.0 230.2h1.25v1.25h-1.25zM570.0 252.8h1.25v1.25h-1.25zM546.5 252.8h1.25v1.25h-1.25zM552.9 257.4h1.25v1.25h-1.25zM570.0 242.6h1.25v1.25h-1.25zM623.5 230.2h1.25v1.25h-1.25zM600.0 230.2h1.25v1.25h-1.25zM505.8 258.5h1.25v1.25h-1.25zM529.3 258.5h1.25v1.25h-1.25zM574.3 222.2h1.25v1.25h-1.25zM505.8 248.3h1.25v1.25h-1.25zM488.7 252.8h1.25v1.25h-1.25zM576.4 251.7h1.25v1.25h-1.25zM512.2 242.6h1.25v1.25h-1.25zM576.4 241.5h1.25v1.25h-1.25zM518.6 250.6h1.25v1.25h-1.25zM535.8 225.6h1.25v1.25h-1.25zM561.5 255.1h1.25v1.25h-1.25zM602.1 240.4h1.25v1.25h-1.25zM567.9 259.6h1.25v1.25h-1.25zM585.0 244.9h1.25v1.25h-1.25zM561.5 234.7h1.25v1.25h-1.25zM527.2 254.0h1.25v1.25h-1.25zM567.9 239.2h1.25v1.25h-1.25zM495.1 241.5h1.25v1.25h-1.25zM527.2 243.8h1.25v1.25h-1.25zM527.2 233.6h1.25v1.25h-1.25zM503.6 275.5h1.25v1.25h-1.25zM570.0 248.3h1.25v1.25h-1.25zM480.1 255.1h1.25v1.25h-1.25zM480.1 244.9h1.25v1.25h-1.25zM591.4 233.6h1.25v1.25h-1.25zM617.1 231.3h1.25v1.25h-1.25zM574.3 238.1h1.25v1.25h-1.25zM488.7 268.7h1.25v1.25h-1.25zM576.4 247.2h1.25v1.25h-1.25zM576.4 237.0h1.25v1.25h-1.25zM559.3 241.5h1.25v1.25h-1.25zM608.6 239.2h1.25v1.25h-1.25zM602.1 246.0h1.25v1.25h-1.25zM585.0 240.4h1.25v1.25h-1.25zM567.9 244.9h1.25v1.25h-1.25zM544.3 244.9h1.25v1.25h-1.25zM527.2 249.4h1.25v1.25h-1.25zM582.9 235.8h1.25v1.25h-1.25zM546.5 264.2h1.25v1.25h-1.25zM552.9 258.5h1.25v1.25h-1.25z"/>
<line x1="475.80" y1="255.30" x2="634.70" y2="236.40" stroke="#333" stroke-width="0.85"/>
<text x="646.50" y="286.20" font-size="8.6" font-weight="normal" fill="#262626" text-anchor="start" textLength="23.90" lengthAdjust="spacingAndGlyphs">r=0.42</text>
<text x="646.50" y="295.30" font-size="8.6" font-weight="normal" fill="#262626" text-anchor="start" textLength="33.80" lengthAdjust="spacingAndGlyphs">p&lt;0.0001</text>
<text x="646.50" y="304.40" font-size="8.6" font-weight="normal" fill="#262626" text-anchor="start" textLength="22.80" lengthAdjust="spacingAndGlyphs">n=930</text>
</svg></body></html>
